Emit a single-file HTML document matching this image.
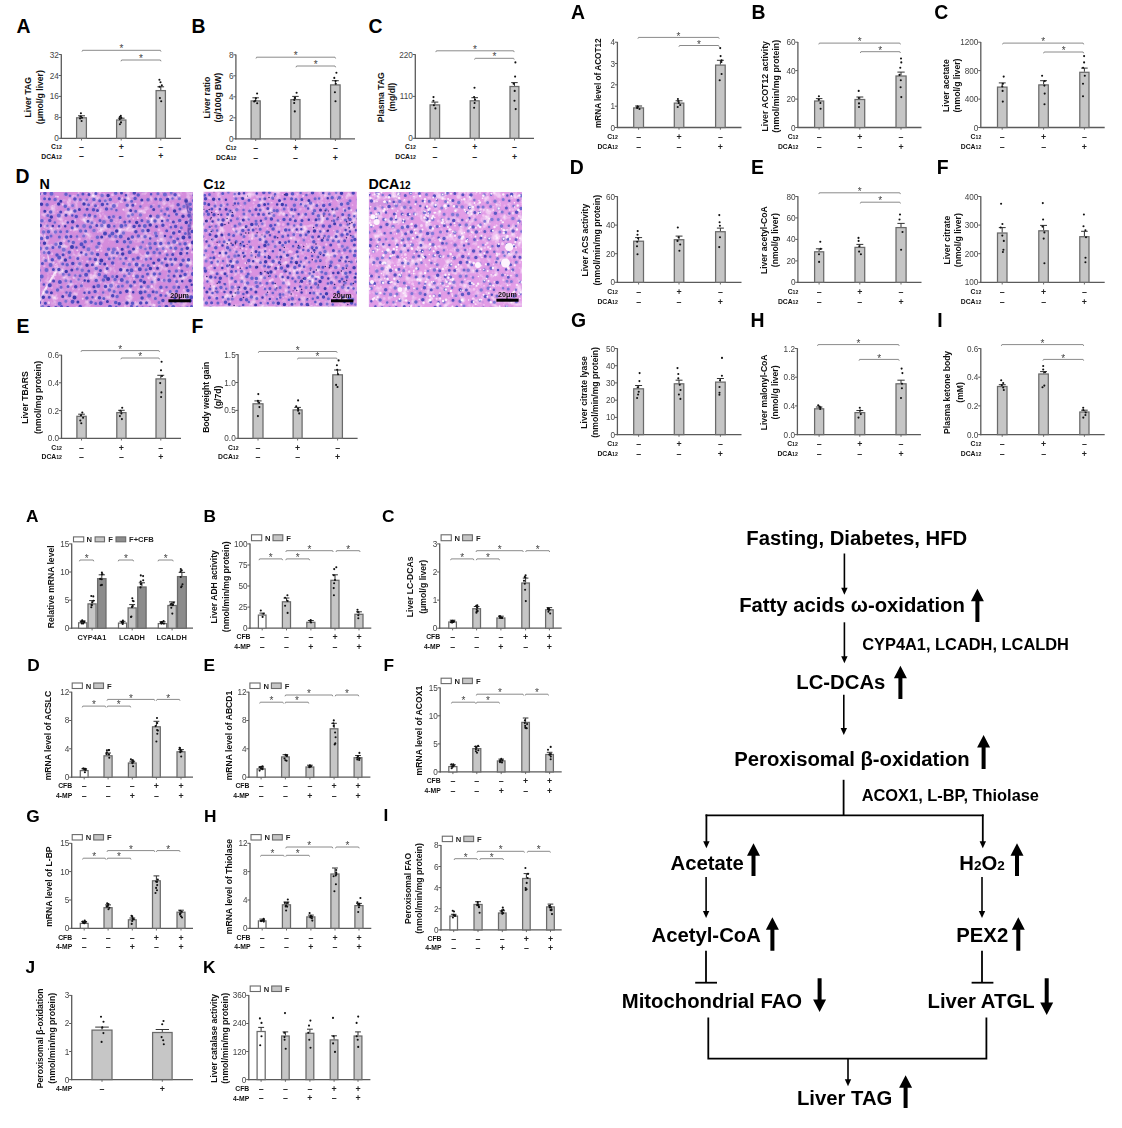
<!DOCTYPE html>
<html><head><meta charset="utf-8"><style>
html,body{margin:0;padding:0;background:#fff;}
svg{display:block;font-family:"Liberation Sans",sans-serif;}
</style></head><body>
<svg width="1122" height="1128" viewBox="0 0 1122 1128">
<defs><filter id="hblur" x="0" y="0" width="1" height="1"><feGaussianBlur stdDeviation="0.45"/></filter>
<filter id="mottle1" x="0" y="0" width="1" height="1"><feTurbulence type="fractalNoise" baseFrequency="0.12" numOctaves="3" seed="4"/><feColorMatrix type="matrix" values="0 0 0 0 0.98  0 0 0 0 0.86  0 0 0 0 0.98  2.6 0 0 0 -1.3"/></filter>
<filter id="mottle2" x="0" y="0" width="1" height="1"><feTurbulence type="fractalNoise" baseFrequency="0.12" numOctaves="3" seed="9"/><feColorMatrix type="matrix" values="0 0 0 0 0.98  0 0 0 0 0.86  0 0 0 0 0.98  2.6 0 0 0 -1.3"/></filter>
<filter id="mottle3" x="0" y="0" width="1" height="1"><feTurbulence type="fractalNoise" baseFrequency="0.12" numOctaves="3" seed="13"/><feColorMatrix type="matrix" values="0 0 0 0 0.98  0 0 0 0 0.86  0 0 0 0 0.98  2.6 0 0 0 -1.3"/></filter>
</defs>
<rect width="1122" height="1128" fill="#fff"/>
<text x="16.5" y="32.5" font-size="19.4" font-weight="bold" text-anchor="start" fill="#000">A</text>
<text x="191.5" y="32.5" font-size="19.4" font-weight="bold" text-anchor="start" fill="#000">B</text>
<text x="368.5" y="33.2" font-size="19.4" font-weight="bold" text-anchor="start" fill="#000">C</text>
<text x="15.5" y="182.8" font-size="19.4" font-weight="bold" text-anchor="start" fill="#000">D</text>
<text x="16.5" y="333.2" font-size="19.4" font-weight="bold" text-anchor="start" fill="#000">E</text>
<text x="191.5" y="333.2" font-size="19.4" font-weight="bold" text-anchor="start" fill="#000">F</text>
<line x1="61.3" y1="54.2" x2="61.3" y2="138.9" stroke="#5a5a5a" stroke-width="1.3"/>
<line x1="60.7" y1="138.3" x2="181" y2="138.3" stroke="#5a5a5a" stroke-width="1.3"/>
<line x1="58.7" y1="54.5" x2="61.3" y2="54.5" stroke="#5a5a5a" stroke-width="1"/>
<text x="58.9" y="57.5" font-size="8.2" font-weight="normal" text-anchor="end" fill="#444">32</text>
<line x1="58.7" y1="75.5" x2="61.3" y2="75.5" stroke="#5a5a5a" stroke-width="1"/>
<text x="58.9" y="78.5" font-size="8.2" font-weight="normal" text-anchor="end" fill="#444">24</text>
<line x1="58.7" y1="96.4" x2="61.3" y2="96.4" stroke="#5a5a5a" stroke-width="1"/>
<text x="58.9" y="99.4" font-size="8.2" font-weight="normal" text-anchor="end" fill="#444">16</text>
<line x1="58.7" y1="117.4" x2="61.3" y2="117.4" stroke="#5a5a5a" stroke-width="1"/>
<text x="58.9" y="120.4" font-size="8.2" font-weight="normal" text-anchor="end" fill="#444">8</text>
<line x1="58.7" y1="138.3" x2="61.3" y2="138.3" stroke="#5a5a5a" stroke-width="1"/>
<text x="58.9" y="141.3" font-size="8.2" font-weight="normal" text-anchor="end" fill="#444">0</text>
<line x1="81.5" y1="138.3" x2="81.5" y2="140.5" stroke="#5a5a5a" stroke-width="0.9"/>
<rect x="76.6" y="117.8" width="9.8" height="20.5" fill="#c6c6c6" stroke="#6a6a6a" stroke-width="1.25"/>
<line x1="81.5" y1="117.2" x2="81.5" y2="115.8" stroke="#333" stroke-width="1"/>
<line x1="78" y1="115.8" x2="85" y2="115.8" stroke="#333" stroke-width="1"/>
<circle cx="80.9" cy="113.2" r="1.05" fill="#111"/>
<circle cx="80.4" cy="116.5" r="1.05" fill="#111"/>
<circle cx="82" cy="117.7" r="1.05" fill="#111"/>
<circle cx="80.1" cy="118.5" r="1.05" fill="#111"/>
<circle cx="81.6" cy="121" r="1.05" fill="#111"/>
<line x1="121.2" y1="138.3" x2="121.2" y2="140.5" stroke="#5a5a5a" stroke-width="0.9"/>
<rect x="116.6" y="120" width="9.3" height="18.3" fill="#c6c6c6" stroke="#6a6a6a" stroke-width="1.25"/>
<line x1="121.2" y1="119.4" x2="121.2" y2="118.2" stroke="#333" stroke-width="1"/>
<line x1="117.9" y1="118.2" x2="124.6" y2="118.2" stroke="#333" stroke-width="1"/>
<circle cx="120.8" cy="115.9" r="1.05" fill="#111"/>
<circle cx="119.8" cy="117" r="1.05" fill="#111"/>
<circle cx="121.3" cy="117.7" r="1.05" fill="#111"/>
<circle cx="119.8" cy="119.1" r="1.05" fill="#111"/>
<circle cx="121" cy="122.4" r="1.05" fill="#111"/>
<circle cx="119.9" cy="124.3" r="1.05" fill="#111"/>
<line x1="160.8" y1="138.3" x2="160.8" y2="140.5" stroke="#5a5a5a" stroke-width="0.9"/>
<rect x="156.1" y="90.6" width="9.3" height="47.7" fill="#c6c6c6" stroke="#6a6a6a" stroke-width="1.25"/>
<line x1="160.8" y1="90" x2="160.8" y2="86.8" stroke="#333" stroke-width="1"/>
<line x1="157.4" y1="86.8" x2="164.1" y2="86.8" stroke="#333" stroke-width="1"/>
<circle cx="159.4" cy="79.8" r="1.05" fill="#111"/>
<circle cx="160.5" cy="82.2" r="1.05" fill="#111"/>
<circle cx="161.8" cy="85.4" r="1.05" fill="#111"/>
<circle cx="159.5" cy="86.8" r="1.05" fill="#111"/>
<circle cx="159.9" cy="98.1" r="1.05" fill="#111"/>
<circle cx="161.2" cy="101.3" r="1.05" fill="#111"/>
<polyline points="82,51.6 82.6,50.3 160.4,50.3 161,51.6" stroke="#8a8a8a" stroke-width="1" fill="none"/>
<text x="121.5" y="52.4" font-size="10" font-weight="normal" text-anchor="middle" fill="#444">*</text>
<polyline points="121,61.3 121.6,60 160.4,60 161,61.3" stroke="#8a8a8a" stroke-width="1" fill="none"/>
<text x="141" y="62.1" font-size="10" font-weight="normal" text-anchor="middle" fill="#444">*</text>
<text transform="translate(27.6,97.2) rotate(-90)" font-size="8.6" font-weight="bold" text-anchor="middle" dominant-baseline="central" fill="#111">Liver TAG</text>
<text transform="translate(39.8,97.2) rotate(-90)" font-size="8.6" font-weight="bold" text-anchor="middle" dominant-baseline="central" fill="#111">(μmol/g liver)</text>
<text x="61.8" y="149" font-size="6.8" font-weight="bold" text-anchor="end" fill="#111">C<tspan font-size="5.2">12</tspan></text>
<text x="81.5" y="149.8" font-size="8.8" font-weight="bold" text-anchor="middle" fill="#222">–</text>
<text x="121.2" y="149.8" font-size="8.8" font-weight="bold" text-anchor="middle" fill="#222">+</text>
<text x="160.8" y="149.8" font-size="8.8" font-weight="bold" text-anchor="middle" fill="#222">–</text>
<text x="61.8" y="158.6" font-size="6.8" font-weight="bold" text-anchor="end" fill="#111">DCA<tspan font-size="5.2">12</tspan></text>
<text x="81.5" y="159.4" font-size="8.8" font-weight="bold" text-anchor="middle" fill="#222">–</text>
<text x="121.2" y="159.4" font-size="8.8" font-weight="bold" text-anchor="middle" fill="#222">–</text>
<text x="160.8" y="159.4" font-size="8.8" font-weight="bold" text-anchor="middle" fill="#222">+</text>
<line x1="235.9" y1="54.5" x2="235.9" y2="139.4" stroke="#5a5a5a" stroke-width="1.3"/>
<line x1="235.3" y1="138.8" x2="355" y2="138.8" stroke="#5a5a5a" stroke-width="1.3"/>
<line x1="233.3" y1="54.8" x2="235.9" y2="54.8" stroke="#5a5a5a" stroke-width="1"/>
<text x="233.5" y="57.8" font-size="8.2" font-weight="normal" text-anchor="end" fill="#444">8</text>
<line x1="233.3" y1="75.8" x2="235.9" y2="75.8" stroke="#5a5a5a" stroke-width="1"/>
<text x="233.5" y="78.8" font-size="8.2" font-weight="normal" text-anchor="end" fill="#444">6</text>
<line x1="233.3" y1="96.8" x2="235.9" y2="96.8" stroke="#5a5a5a" stroke-width="1"/>
<text x="233.5" y="99.8" font-size="8.2" font-weight="normal" text-anchor="end" fill="#444">4</text>
<line x1="233.3" y1="117.8" x2="235.9" y2="117.8" stroke="#5a5a5a" stroke-width="1"/>
<text x="233.5" y="120.8" font-size="8.2" font-weight="normal" text-anchor="end" fill="#444">2</text>
<line x1="233.3" y1="138.8" x2="235.9" y2="138.8" stroke="#5a5a5a" stroke-width="1"/>
<text x="233.5" y="141.8" font-size="8.2" font-weight="normal" text-anchor="end" fill="#444">0</text>
<line x1="255.7" y1="138.8" x2="255.7" y2="141" stroke="#5a5a5a" stroke-width="0.9"/>
<rect x="251.1" y="100.9" width="9.1" height="37.9" fill="#c6c6c6" stroke="#6a6a6a" stroke-width="1.25"/>
<line x1="255.7" y1="100.3" x2="255.7" y2="97.8" stroke="#333" stroke-width="1"/>
<line x1="252.4" y1="97.8" x2="258.9" y2="97.8" stroke="#333" stroke-width="1"/>
<circle cx="257.1" cy="93.5" r="1.05" fill="#111"/>
<circle cx="255.9" cy="98.2" r="1.05" fill="#111"/>
<circle cx="255.3" cy="100.8" r="1.05" fill="#111"/>
<circle cx="257.2" cy="103.3" r="1.05" fill="#111"/>
<circle cx="254.2" cy="101.5" r="1.05" fill="#111"/>
<line x1="295.5" y1="138.8" x2="295.5" y2="141" stroke="#5a5a5a" stroke-width="0.9"/>
<rect x="290.9" y="99.6" width="9.1" height="39.2" fill="#c6c6c6" stroke="#6a6a6a" stroke-width="1.25"/>
<line x1="295.5" y1="99" x2="295.5" y2="96.4" stroke="#333" stroke-width="1"/>
<line x1="292.2" y1="96.4" x2="298.7" y2="96.4" stroke="#333" stroke-width="1"/>
<circle cx="296.6" cy="92.8" r="1.05" fill="#111"/>
<circle cx="294.8" cy="97.9" r="1.05" fill="#111"/>
<circle cx="294.3" cy="99.9" r="1.05" fill="#111"/>
<circle cx="294.2" cy="103" r="1.05" fill="#111"/>
<circle cx="294.8" cy="111.4" r="1.05" fill="#111"/>
<line x1="335.4" y1="138.8" x2="335.4" y2="141" stroke="#5a5a5a" stroke-width="0.9"/>
<rect x="330.6" y="84.9" width="9.5" height="53.9" fill="#c6c6c6" stroke="#6a6a6a" stroke-width="1.25"/>
<line x1="335.4" y1="84.3" x2="335.4" y2="80.7" stroke="#333" stroke-width="1"/>
<line x1="331.9" y1="80.7" x2="338.8" y2="80.7" stroke="#333" stroke-width="1"/>
<circle cx="336.4" cy="72.8" r="1.05" fill="#111"/>
<circle cx="334.3" cy="77.9" r="1.05" fill="#111"/>
<circle cx="335.6" cy="81" r="1.05" fill="#111"/>
<circle cx="335.8" cy="83.8" r="1.05" fill="#111"/>
<circle cx="334.9" cy="92.3" r="1.05" fill="#111"/>
<circle cx="335.5" cy="101.3" r="1.05" fill="#111"/>
<polyline points="256,58.5 256.6,57.2 335,57.2 335.6,58.5" stroke="#8a8a8a" stroke-width="1" fill="none"/>
<text x="295.8" y="59.3" font-size="10" font-weight="normal" text-anchor="middle" fill="#444">*</text>
<polyline points="296,67.3 296.6,66 335,66 335.6,67.3" stroke="#8a8a8a" stroke-width="1" fill="none"/>
<text x="315.8" y="68.1" font-size="10" font-weight="normal" text-anchor="middle" fill="#444">*</text>
<text transform="translate(206.5,97.6) rotate(-90)" font-size="8.6" font-weight="bold" text-anchor="middle" dominant-baseline="central" fill="#111">Liver ratio</text>
<text transform="translate(218,97.6) rotate(-90)" font-size="8.6" font-weight="bold" text-anchor="middle" dominant-baseline="central" fill="#111">(g/100g BW)</text>
<text x="236.4" y="149.9" font-size="6.8" font-weight="bold" text-anchor="end" fill="#111">C<tspan font-size="5.2">12</tspan></text>
<text x="255.7" y="150.7" font-size="8.8" font-weight="bold" text-anchor="middle" fill="#222">–</text>
<text x="295.5" y="150.7" font-size="8.8" font-weight="bold" text-anchor="middle" fill="#222">+</text>
<text x="335.4" y="150.7" font-size="8.8" font-weight="bold" text-anchor="middle" fill="#222">–</text>
<text x="236.4" y="159.7" font-size="6.8" font-weight="bold" text-anchor="end" fill="#111">DCA<tspan font-size="5.2">12</tspan></text>
<text x="255.7" y="160.5" font-size="8.8" font-weight="bold" text-anchor="middle" fill="#222">–</text>
<text x="295.5" y="160.5" font-size="8.8" font-weight="bold" text-anchor="middle" fill="#222">–</text>
<text x="335.4" y="160.5" font-size="8.8" font-weight="bold" text-anchor="middle" fill="#222">+</text>
<line x1="415.3" y1="54.2" x2="415.3" y2="138.9" stroke="#5a5a5a" stroke-width="1.3"/>
<line x1="414.7" y1="138.3" x2="534" y2="138.3" stroke="#5a5a5a" stroke-width="1.3"/>
<line x1="412.7" y1="54.5" x2="415.3" y2="54.5" stroke="#5a5a5a" stroke-width="1"/>
<text x="412.9" y="57.5" font-size="8.2" font-weight="normal" text-anchor="end" fill="#444">220</text>
<line x1="412.7" y1="96.4" x2="415.3" y2="96.4" stroke="#5a5a5a" stroke-width="1"/>
<text x="412.9" y="99.4" font-size="8.2" font-weight="normal" text-anchor="end" fill="#444">110</text>
<line x1="412.7" y1="138.3" x2="415.3" y2="138.3" stroke="#5a5a5a" stroke-width="1"/>
<text x="412.9" y="141.3" font-size="8.2" font-weight="normal" text-anchor="end" fill="#444">0</text>
<line x1="434.9" y1="138.3" x2="434.9" y2="140.5" stroke="#5a5a5a" stroke-width="0.9"/>
<rect x="430.1" y="104.9" width="9.5" height="33.4" fill="#c6c6c6" stroke="#6a6a6a" stroke-width="1.25"/>
<line x1="434.9" y1="104.3" x2="434.9" y2="102.1" stroke="#333" stroke-width="1"/>
<line x1="431.4" y1="102.1" x2="438.3" y2="102.1" stroke="#333" stroke-width="1"/>
<circle cx="433.5" cy="97.1" r="1.05" fill="#111"/>
<circle cx="433.4" cy="100.7" r="1.05" fill="#111"/>
<circle cx="433.9" cy="105.2" r="1.05" fill="#111"/>
<circle cx="435.4" cy="108.4" r="1.05" fill="#111"/>
<line x1="474.7" y1="138.3" x2="474.7" y2="140.5" stroke="#5a5a5a" stroke-width="0.9"/>
<rect x="470.2" y="100.8" width="9" height="37.5" fill="#c6c6c6" stroke="#6a6a6a" stroke-width="1.25"/>
<line x1="474.7" y1="100.2" x2="474.7" y2="97.7" stroke="#333" stroke-width="1"/>
<line x1="471.4" y1="97.7" x2="478" y2="97.7" stroke="#333" stroke-width="1"/>
<circle cx="474.5" cy="87.7" r="1.05" fill="#111"/>
<circle cx="474.1" cy="97.1" r="1.05" fill="#111"/>
<circle cx="475" cy="99.8" r="1.05" fill="#111"/>
<circle cx="474.6" cy="103" r="1.05" fill="#111"/>
<circle cx="474.1" cy="107.8" r="1.05" fill="#111"/>
<line x1="514.5" y1="138.3" x2="514.5" y2="140.5" stroke="#5a5a5a" stroke-width="0.9"/>
<rect x="510" y="86.5" width="8.9" height="51.8" fill="#c6c6c6" stroke="#6a6a6a" stroke-width="1.25"/>
<line x1="514.5" y1="85.9" x2="514.5" y2="82.6" stroke="#333" stroke-width="1"/>
<line x1="511.2" y1="82.6" x2="517.7" y2="82.6" stroke="#333" stroke-width="1"/>
<circle cx="515.4" cy="62.4" r="1.05" fill="#111"/>
<circle cx="515.1" cy="76.6" r="1.05" fill="#111"/>
<circle cx="513.6" cy="83.8" r="1.05" fill="#111"/>
<circle cx="514.7" cy="90.9" r="1.05" fill="#111"/>
<circle cx="514.5" cy="100.7" r="1.05" fill="#111"/>
<circle cx="515.7" cy="109.1" r="1.05" fill="#111"/>
<polyline points="435.8,52.1 436.4,50.8 513.6,50.8 514.2,52.1" stroke="#8a8a8a" stroke-width="1" fill="none"/>
<text x="475" y="52.9" font-size="10" font-weight="normal" text-anchor="middle" fill="#444">*</text>
<polyline points="474.6,59.6 475.2,58.3 513.6,58.3 514.2,59.6" stroke="#8a8a8a" stroke-width="1" fill="none"/>
<text x="494.4" y="60.4" font-size="10" font-weight="normal" text-anchor="middle" fill="#444">*</text>
<text transform="translate(380.5,97.2) rotate(-90)" font-size="8.6" font-weight="bold" text-anchor="middle" dominant-baseline="central" fill="#111">Plasma TAG</text>
<text transform="translate(391.8,97.2) rotate(-90)" font-size="8.6" font-weight="bold" text-anchor="middle" dominant-baseline="central" fill="#111">(mg/dl)</text>
<text x="415.8" y="149.4" font-size="6.8" font-weight="bold" text-anchor="end" fill="#111">C<tspan font-size="5.2">12</tspan></text>
<text x="434.9" y="150.2" font-size="8.8" font-weight="bold" text-anchor="middle" fill="#222">–</text>
<text x="474.7" y="150.2" font-size="8.8" font-weight="bold" text-anchor="middle" fill="#222">+</text>
<text x="514.5" y="150.2" font-size="8.8" font-weight="bold" text-anchor="middle" fill="#222">–</text>
<text x="415.8" y="159.1" font-size="6.8" font-weight="bold" text-anchor="end" fill="#111">DCA<tspan font-size="5.2">12</tspan></text>
<text x="434.9" y="159.9" font-size="8.8" font-weight="bold" text-anchor="middle" fill="#222">–</text>
<text x="474.7" y="159.9" font-size="8.8" font-weight="bold" text-anchor="middle" fill="#222">–</text>
<text x="514.5" y="159.9" font-size="8.8" font-weight="bold" text-anchor="middle" fill="#222">+</text>
<text x="39.6" y="188.5" font-size="14.3" font-weight="bold" text-anchor="start" fill="#000">N</text>
<text x="203.3" y="188.5" font-size="14.3" font-weight="bold" text-anchor="start" fill="#000">C<tspan font-size="10">12</tspan></text>
<text x="368.4" y="188.5" font-size="14.3" font-weight="bold" text-anchor="start" fill="#000">DCA<tspan font-size="10">12</tspan></text>
<g><clipPath id="h1"><rect x="40.1" y="192" width="152.9" height="115"/></clipPath>
<rect x="40.1" y="192" width="152.9" height="115" fill="#d48cdc"/>
<rect x="40.1" y="192" width="152.9" height="115" filter="url(#mottle1)"/>
<g clip-path="url(#h1)" filter="url(#hblur)" stroke-linecap="round" fill="none">
<polyline points="40,300 46,288 52,278 58,268" stroke="#fbeefb" stroke-width="2.2" opacity="0.9"/>
<polyline points="44,230 47,250 49,262" stroke="#f8e0f8" stroke-width="1.4" opacity="0.8"/>
<polyline points="186,200 190,215 189,235" stroke="#3c36a6" stroke-width="3.5" opacity="0.7"/>
<polyline points="150,240 162,236 172,242" stroke="#c090e0" stroke-width="3" opacity="0.5"/>
<path d="M60.6 289.5h0M187.7 241.6h0M151.6 194.5h0M111.6 256.1h0M153.7 274.9h0M186.3 259.2h0M119.6 193h0M57.9 290.2h0M85.9 296h0M47.7 211.8h0M51.9 275.4h0M177.3 223.6h0M99.9 214.5h0M174.3 286.8h0M52.6 205.8h0" stroke="#f6cef6" stroke-width="1.5" opacity="0.75"/>
<path d="M115.9 243.7h0M174.8 270.9h0M169.3 242h0M159.7 248.9h0M155.9 287.7h0M102.3 264.4h0M179.6 283.8h0M101.2 248.9h0M98.1 206.9h0M106.2 213.9h0M46.2 253.1h0M43.4 234.3h0M177.5 219.1h0M123.4 300.6h0M81.7 281.9h0M166.9 301.2h0M44.1 221.1h0M64.5 289.6h0M45.8 305.8h0M97.9 298.6h0" stroke="#c890e0" stroke-width="2.5" opacity="0.75"/>
<path d="M54.5 195.3h0M120.8 279.8h0M170.6 247.2h0M49.9 302.8h0M79.7 287.3h0M97.2 284.6h0M41.4 253.2h0M168.5 209.2h0M137.4 306.1h0M142.1 195.5h0M190.9 256.7h0M160.5 281.2h0M77.8 282.9h0M128.1 290.6h0M62.5 306.1h0" stroke="#c890e0" stroke-width="2" opacity="0.75"/>
<path d="M156.7 192.2h0M136.5 271.9h0M73.4 295.6h0M113.3 217.9h0M99.6 229.3h0M181.6 289.3h0M99.5 284.4h0M145.8 241.9h0M82.1 273.2h0M72.9 234.3h0M81.5 253h0M160.1 245.1h0M87.8 224h0M123.6 298.7h0M71 274.7h0M117.5 275h0M147.8 227.3h0" stroke="#c890e0" stroke-width="1.5" opacity="0.75"/>
<path d="M162.7 260h0M136.2 222.8h0M98.7 224.7h0M74.9 229h0M47 285.1h0M170.4 198.1h0M118.5 249.6h0M181.9 303.5h0M104.5 224.4h0M143.9 288h0M63.7 252.3h0M119.4 281.4h0M116.6 285.2h0M112.6 194.7h0" stroke="#f6cef6" stroke-width="3" opacity="0.75"/>
<path d="M44.8 194.9h0M138.9 239.9h0M82.6 235.6h0M180.4 236h0M169.5 280.3h0M111.5 197.2h0M44.8 236.5h0M86.5 193.7h0M167.7 272.6h0M41.6 240.8h0M78.5 280.5h0M147.2 271.4h0M169.3 281.8h0M119.6 194.7h0M114.8 210.9h0" stroke="#f2c0f2" stroke-width="1" opacity="0.75"/>
<path d="M93 269.8h0M119.4 256.6h0M138.5 300.2h0M120.9 249.6h0M181.4 303.7h0M40.6 236.8h0M109.2 224.2h0M178.8 213.2h0M108.5 270.4h0M58.7 259h0M101.1 205.8h0M181 249.8h0M100.4 296.2h0M171.3 300.1h0" stroke="#c890e0" stroke-width="3" opacity="0.75"/>
<path d="M181.8 239.9h0M91 275h0M179.2 267.8h0M68.9 204.5h0M46.4 213.5h0M159 229.7h0M105.6 272.3h0M115.4 294.9h0M79.3 238.9h0M120.8 256.9h0M142.1 283.9h0M94.6 223.2h0M51.7 253.7h0M75.7 267.7h0M140.9 258.5h0" stroke="#f2c0f2" stroke-width="3" opacity="0.75"/>
<path d="M55.4 264.4h0M66.6 255.1h0M133.7 238.3h0M82.5 282.5h0M113 203.5h0M76.9 274.6h0M120.3 202.4h0M78.2 252.9h0M85.9 274.7h0" stroke="#fbe4fb" stroke-width="1" opacity="0.75"/>
<path d="M104.6 287.5h0M66 296.8h0M191.7 208.9h0M57.8 211.2h0M132.1 206.5h0M154.2 271.3h0M122.3 197.6h0M96.5 250.8h0M108.8 268.9h0M189.9 306h0M108 208.1h0M54.1 206.9h0M60.8 279.6h0M48.3 250.5h0M44.8 227.4h0M102.1 304.3h0M185.9 302.3h0M168.3 217.9h0M140 214.5h0M133 263h0" stroke="#f0b8f0" stroke-width="1.5" opacity="0.75"/>
<path d="M129.9 293.5h0M87.3 289.6h0M172.8 304h0M182.6 231.5h0M149.4 248.2h0M160.9 213.6h0M86.4 230.4h0M177.2 302.4h0M149.9 232.3h0M181.3 261.1h0M133.3 218.7h0M44.8 295.4h0M162.6 207.5h0M111.1 304.7h0M83.5 294.5h0M103 300.1h0M173.2 238.6h0M167.3 259.6h0M111 225.4h0M183.6 246h0M114.2 265h0M135.4 301.9h0M110.1 232.9h0" stroke="#f2c0f2" stroke-width="2" opacity="0.75"/>
<path d="M141.6 204.4h0M131.8 284.5h0M100.8 196.1h0M87.6 300h0M97.9 231.9h0M111.8 232.9h0M93.3 251.2h0M104.3 206h0M128.7 258.9h0M169.7 225h0M86.5 240.9h0M44.5 220.8h0M133.9 272.8h0M57.3 298.2h0M179.8 208.3h0M122.3 193.1h0M98.7 287.9h0M139.7 268.3h0M162.3 267h0M43 237.6h0M147 272.3h0M162.7 253.8h0M149.6 219.6h0M106.7 259.4h0M142.4 287.9h0M109.5 197.2h0M167.6 213.7h0M86.7 278.1h0M45.5 252.7h0M147.1 298.4h0" stroke="#f0b8f0" stroke-width="2" opacity="0.75"/>
<path d="M100.2 248.3h0M78.7 193h0M56 196.5h0M85.3 253.4h0M61.4 281.2h0M43.8 257.5h0M91.5 263.5h0M187 272h0M53.7 262.4h0M151.3 221.2h0M158.9 199.4h0" stroke="#f6cef6" stroke-width="2" opacity="0.75"/>
<path d="M100.3 211.6h0M42 214.9h0M118.7 301.5h0M113.7 233.9h0M40.3 254.1h0M123.1 286.1h0M145.9 258.7h0M163.7 304h0M82.5 260.8h0M101.6 271.2h0M140 274h0M114 221.8h0M77.3 198.9h0M178.5 254.9h0M128 197h0M123.1 257.8h0M103.8 294.1h0M49 288h0M147 265h0M92.3 205.1h0M67 259.3h0M69.2 250.6h0M65.4 222.9h0M157.1 237.6h0M145.7 302.3h0" stroke="#f2c0f2" stroke-width="1.5" opacity="0.75"/>
<path d="M41 282.1h0M67.7 202.5h0M139.3 237.4h0M70.8 229.7h0M92.1 225.5h0M73 263h0M77.4 200.3h0M89 204.3h0M135.4 269.3h0M73.7 298h0M63.9 241.1h0M51.5 287.5h0M73.2 196h0M71.5 298.1h0M164.7 252.2h0M134.9 285.3h0M73.3 288.4h0M114.6 238.4h0M188.2 222.8h0M67 279.3h0M146.9 217.9h0M190.7 231.2h0M123.3 254.6h0M76.1 196.7h0M101 245.5h0M101.3 250.8h0M175.7 196.7h0M75.3 294h0M139 214.5h0M185.7 287.7h0M183.8 290.3h0M180.1 221.4h0M57.2 266.3h0M57.7 217.4h0" stroke="#f2c0f2" stroke-width="2.5" opacity="0.75"/>
<path d="M117.3 247.8h0M139.2 225.9h0M57.6 227.9h0M137.8 218h0M178.2 237.7h0M123.3 209.5h0M188.9 219.1h0M179.9 229.4h0M154.3 233.6h0M164.6 306.8h0M121.9 198.7h0M70.6 257.3h0M86.1 217.2h0M57.9 196.7h0M103.5 233.3h0M82.7 298.7h0M134.2 278.8h0M157.7 240.4h0M96.4 255.4h0M77.3 250.2h0" stroke="#fbe4fb" stroke-width="2" opacity="0.75"/>
<path d="M164.9 221.4h0M190.8 219h0M69.1 242.5h0M94.7 252.8h0M130.9 296.6h0M102.5 261.7h0M186.4 264.4h0M134.1 232.8h0" stroke="#f6cef6" stroke-width="1" opacity="0.75"/>
<path d="M42.7 193.7h0M56.8 263.9h0M141 241h0M90.9 250.2h0M124.2 257.1h0M146 289.6h0M188.9 219.9h0M83.6 254.4h0M120.8 219.3h0M128.8 216.4h0M45.3 236.2h0M136.4 227.4h0M103.4 224.2h0M98.1 206h0M95.2 298.8h0M122 202.2h0M127.8 193.7h0M83.3 275.5h0M106.2 273.4h0M87 193.7h0M155.8 278.2h0" stroke="#fbe4fb" stroke-width="1.5" opacity="0.75"/>
<path d="M65.7 221.3h0M66.6 281.3h0M43.1 250.3h0M74.1 302.8h0M182 299.3h0M69.1 264h0M80.2 252.6h0M174.7 279.2h0M154 271h0M189.4 209.4h0M170.5 221h0M103.6 194.1h0M55.2 266.7h0M144.4 260h0M48.1 281.8h0M100.8 296.9h0M98.8 298.2h0M75.4 196.3h0M167.6 212.3h0M86.2 292.5h0M44.3 266.1h0M100.4 216.2h0" stroke="#f0b8f0" stroke-width="2.5" opacity="0.75"/>
<path d="M117.5 241.1h0M115.6 230h0M140.2 284.2h0M99.9 192.6h0M179.2 233.5h0M136.3 252.5h0M70.3 205.2h0" stroke="#f0b8f0" stroke-width="3" opacity="0.75"/>
<path d="M72.5 197.5h0M91.9 216.5h0M142.6 202.5h0M87.1 220.3h0M53.8 278.6h0M147.3 245.4h0M192.1 252.3h0M131.9 238.9h0M130.4 200h0M174.7 240.8h0M60 283.4h0M149.4 215.5h0M120.6 201h0M121.8 231.9h0M144.8 212.6h0M148.5 277.7h0M159.2 266.3h0M128.5 275.4h0M54.5 270h0M125.1 306.6h0M133.2 196.3h0M127.8 263.1h0M55.2 275h0M87.5 261.5h0M105.8 288.8h0" stroke="#f6cef6" stroke-width="2.5" opacity="0.75"/>
<path d="M177.2 260h0M141.9 226h0M134.2 281.9h0M89.1 237h0M179.8 303.5h0M122.9 289.9h0M168 211.7h0M66.4 202.3h0M159.8 270.6h0M177 279.8h0M129.5 196.6h0M143.6 202h0M160.7 263.7h0M126 293.5h0M99.3 256.4h0M93.5 224.1h0M191.6 288.1h0M47.6 301h0M178.4 301.5h0" stroke="#c890e0" stroke-width="1" opacity="0.75"/>
<path d="M41.7 305h0M179.3 195.7h0M154 305.6h0M154.1 265.6h0M176.8 242.7h0M187.5 262.5h0M168.6 196.9h0M99.7 264.6h0M85.7 232.6h0M103.2 300h0M40.7 194.3h0M73.8 277.5h0M135.2 204.1h0M138.4 248.1h0M74.9 220.6h0M178.8 268.2h0M60.5 256.6h0M62.8 204.4h0M104.4 233.4h0M51.6 228.3h0M60.5 242.9h0M107 265.8h0" stroke="#fbe4fb" stroke-width="2.5" opacity="0.75"/>
<path d="M163.6 202.6h0M161.2 248.7h0M135.3 248.1h0M187.6 279.5h0M82.1 262.5h0M61.4 237.9h0" stroke="#f0b8f0" stroke-width="1" opacity="0.75"/>
<path d="M133.6 275.7h0M162 290.6h0M165.8 250.9h0M96.3 206.6h0M156 275.9h0M90.4 192.9h0M162.6 280.2h0M106.1 270.1h0M97.7 249.7h0M151.7 286.6h0M48.6 302.7h0M173.8 251h0" stroke="#fbe4fb" stroke-width="3" opacity="0.75"/>
<path d="M38.6 188.1h0M66.6 187.4h0M72.6 188h0M85.8 189.1h0M91.6 189.1h0M109.9 188.2h0M131.4 189.6h0M134.7 188.1h0M148.2 188.7h0M162 190.1h0M166.8 188.8h0M179.2 188.3h0M186.5 187.8h0M190.9 189.9h0M197.1 190h0M44.9 193.3h0M82.9 194h0M89 194.5h0M102.1 195.6h0M121.5 193.1h0M157.9 193.8h0M171.2 193h0M35.4 198.6h0M44.6 198.8h0M49.4 199h0M55.1 199.4h0M80.3 199.6h0M99.7 200.7h0M105.3 200.8h0M119.1 198.6h0M125 200h0M141.8 199.9h0M148 199.8h0M179.4 198.7h0M58.7 204h0M65.3 206.2h0M72.6 205.4h0M88.6 204.7h0M95.5 205.8h0M132.8 205.2h0M151.2 206.5h0M159.1 206.3h0M195.8 204.4h0M50.6 211.9h0M79.4 209.6h0M87.1 209.3h0M97.5 210.4h0M130.7 210.4h0M135.7 211.3h0M153.7 209.6h0M179.9 209h0M38.6 216.3h0M47.8 215.6h0M84.8 215h0M95.2 216.3h0M109.2 217.3h0M113.5 216.5h0M120.1 217.4h0M128.5 216.1h0M164.8 214.3h0M176.5 214.3h0M37.8 220.3h0M91.9 222.7h0M124.8 221.9h0M141.9 220.5h0M167.6 220.3h0M173.4 222.1h0M77.4 226.1h0M96.8 225.5h0M125.6 225.3h0M139.4 225.7h0M156.5 226.5h0M181.3 227.8h0M196.7 226.3h0M36.3 231h0M43.6 232.1h0M60.6 231.8h0M67.1 231.4h0M80.6 231.1h0M116.7 230.9h0M166.7 230.7h0M179.4 231.4h0M185.4 233.5h0M192.2 231.5h0M199 231h0M47.4 237.6h0M51 236h0M59.4 236.9h0M83.6 236h0M101.7 237.1h0M115.8 236.4h0M128.4 238.8h0M132.4 237h0M156.5 236.1h0M170.8 237h0M177.7 238.8h0M189.6 237.2h0M194.6 237h0M44.5 243.2h0M73.3 242.5h0M98.9 243.5h0M117.2 241.6h0M168.6 243h0M52.9 247.5h0M83.8 247h0M96.9 247.1h0M122.2 249.2h0M128.1 246.8h0M133.5 249.1h0M157.1 249.3h0M163.2 248.6h0M170.8 247.9h0M181.8 249.3h0M187.3 248.2h0M193.8 249.2h0M36.7 252.4h0M44.2 252.5h0M86.1 254.6h0M117.4 253h0M147.7 253h0M159.8 253.1h0M167.2 254.8h0M172.7 254.6h0M198.3 253h0M45.7 260.4h0M52.3 259.7h0M70 257.5h0M77.8 258.6h0M90 259h0M109.3 258.8h0M125.9 258.2h0M133.3 259.2h0M146.1 259.3h0M165.4 258.7h0M170.7 259.2h0M188.5 259.7h0M42.4 263.5h0M62.7 264h0M92.4 264.8h0M104.7 264h0M148.2 265.5h0M162 263h0M166.9 265.3h0M172 264.4h0M39.4 270.3h0M53.4 269.6h0M71.8 270h0M77.2 269.1h0M88.8 270.9h0M100.5 270.6h0M107.2 268.4h0M120.7 269.8h0M127.4 270.3h0M157.5 268.3h0M169.3 271.3h0M181.9 271.1h0M193.5 268.3h0M36 275.3h0M63.3 274.2h0M69.1 274.8h0M80.1 275.8h0M116.9 276.4h0M124.4 276h0M142.7 276.6h0M159.8 273.7h0M174.1 275.9h0M180.4 276.1h0M65.9 280.8h0M88.3 281.1h0M134.4 282h0M144.3 282.2h0M152 281.9h0M158.6 279.6h0M164.2 280.3h0M195.5 280h0M36.4 285.6h0M61.1 287.2h0M68 286.6h0M93.9 286.7h0M118.4 286.6h0M141.2 286.7h0M174 287.3h0M178.7 287.3h0M186.5 287h0M197.8 286.9h0M46.8 292h0M70.2 292.9h0M114.1 291.4h0M120.4 292.6h0M126.8 291.2h0M145.1 291.7h0M156.6 292.2h0M170.2 291.4h0M193.9 290.6h0M37 296.9h0M49.3 297.3h0M103.8 298.4h0M155.4 298.4h0M174.9 297.9h0M187.1 297.2h0M39.7 302.6h0M45.4 303.2h0M65.8 301.2h0M95.7 303.4h0M107.4 301.6h0M146.5 302.7h0M159 302.5h0M171.1 303.3h0M175.3 301.3h0M181.7 301h0M55.9 307.8h0M61.5 306.6h0M73.4 309h0M80.2 306.4h0M86.5 308.9h0M97.7 308.6h0M105.3 308.6h0M131.5 306.2h0M137.1 307.3h0M180.6 308.2h0M46.7 312.3h0M52.4 311.6h0M59.7 312.7h0M84 312.2h0M88.2 313.2h0M96.9 312.5h0M102.9 311.7h0M132.3 312.4h0M145.9 311.6h0M151.6 312.9h0M176.5 312.9h0M189.9 311.8h0M196.4 312.6h0" stroke="#b88ce0" stroke-width="5.5" opacity="0.45"/>
<path d="M43.5 188.9h0M80.5 190.1h0M104.6 189.6h0M116.6 188h0M39.6 194.1h0M69.9 195.7h0M78 195.2h0M95.9 193.5h0M125.9 195.2h0M151.1 194.2h0M60.8 201.2h0M86.8 199.7h0M131.6 201.3h0M155.7 199h0M172.5 198.4h0M193.3 200.6h0M199.4 198.2h0M107.3 204h0M140.4 206.5h0M38 211.9h0M44.8 211.3h0M60.7 212h0M68.3 209.3h0M111.5 209.1h0M116.4 210.2h0M161.4 210.7h0M198 209.4h0M66 215.3h0M72.3 215.5h0M132.5 214.5h0M150.5 215.9h0M168.9 215.7h0M193.7 214.6h0M54.8 222.6h0M67.8 222.4h0M88 221.3h0M100 220.4h0M129.6 221.4h0M162.2 221h0M190.7 220.1h0M47.4 225.8h0M52.8 225.9h0M59.1 226.2h0M65.2 226.2h0M72.2 227.8h0M114.3 226.3h0M170.9 227.2h0M189 225.7h0M85.7 231.1h0M70.9 236.5h0M77 236.4h0M150.2 238.5h0M165 236h0M68.7 241.3h0M91.8 241.3h0M142.8 242.3h0M180 243.9h0M76.5 247.4h0M145.5 249h0M63.1 254.7h0M81.3 252.4h0M187.1 253.3h0M113.8 258.3h0M120.5 258.8h0M150.8 258.7h0M194.1 259.5h0M100.2 263.7h0M123.7 263.4h0M143 265.3h0M153.7 263h0M146.1 269.7h0M75.3 275.6h0M112.6 276.4h0M129.2 273.6h0M147.5 274h0M168.5 275.8h0M53.6 281h0M70.9 281.5h0M78.6 279.6h0M84.7 280.6h0M176.7 281.6h0M182.2 281.3h0M43.8 284.4h0M81.4 285.7h0M122.4 286h0M166.5 287.2h0M191.7 284.8h0M38.5 293h0M51.4 292.7h0M66.5 292.4h0M84.5 292.7h0M89.2 292.4h0M103.1 292.4h0M133.2 292.3h0M153.1 291.7h0M176.6 291.3h0M62.7 296.6h0M92.5 297.3h0M160.8 295.3h0M165.7 295.7h0M77.9 302.1h0M116.2 307h0M123.9 309h0M142.6 307.7h0M187.3 307.5h0M191.5 306.4h0M64 312.6h0M77.3 311.9h0M113.7 314.4h0M120 311.8h0" stroke="#b88ce0" stroke-width="5" opacity="0.45"/>
<path d="M60.2 187.5h0M98.1 187.9h0M124.6 187.7h0M143.2 190.3h0M154.3 187.9h0M66 194.3h0M108.1 195.5h0M115.7 193.3h0M134.3 193h0M138.2 194.9h0M175.1 194.8h0M194.3 195.3h0M74.9 198.9h0M93.9 199.5h0M110.3 199.5h0M135.1 198.5h0M160.5 199.4h0M167.6 199.5h0M186.1 201.1h0M41.5 204.2h0M47.1 204.7h0M84 204h0M102.4 204.5h0M113.9 206.1h0M127.2 205.3h0M178.1 204.7h0M184 206.6h0M190.2 204.2h0M74.9 211.1h0M93.5 209.8h0M106.5 208.9h0M167.3 209h0M174.6 211.1h0M190.6 209.3h0M51.3 217h0M58.8 215.6h0M76.3 216.5h0M89.5 215.2h0M140.3 215.1h0M157.7 216.6h0M183 216.3h0M188.9 215.4h0M41.9 220.8h0M49.8 220.6h0M72.7 221.7h0M103.9 221.9h0M111.3 220.5h0M136.7 222.5h0M148.1 221.7h0M155 221h0M179.7 220.5h0M186.3 222.6h0M40.4 225.5h0M90.4 226.9h0M101.8 225.5h0M108.7 226.1h0M134.1 226.5h0M144.8 226h0M150.2 225.1h0M162.9 225.2h0M175.6 226.6h0M48.5 231.7h0M55.5 232.1h0M94 230.5h0M105 233.5h0M123.4 233.1h0M135.9 231.7h0M142.8 230.8h0M148.1 230.5h0M155.6 233.3h0M173.7 232.9h0M41.6 238.6h0M66.4 237h0M97.4 237.2h0M109.7 236.1h0M138.4 235.9h0M145.1 236.7h0M56 244.2h0M60.7 243.6h0M81.5 244.2h0M85.2 241.7h0M124.5 241.7h0M130.4 242.2h0M149.8 243.8h0M155.1 243.4h0M160.8 243.6h0M174.2 241.7h0M185.1 243.8h0M192.9 242.5h0M40 248.5h0M46.8 248.2h0M59.5 247.1h0M72 247h0M88.5 249.3h0M108.6 249.3h0M113.9 249.4h0M140.8 247.3h0M150.4 248h0M175.7 248.3h0M48.9 252.8h0M57 254.9h0M69.3 252.3h0M92 253.3h0M97.6 254.6h0M106.4 254.5h0M112.8 252.6h0M122.7 253.9h0M129.7 252.3h0M154.1 252.5h0M180.8 253.4h0M59.2 257.5h0M65.4 260.1h0M95.4 259.5h0M138 257.9h0M158.7 260h0M175.5 259.3h0M183.1 260.3h0M36.4 263.3h0M50.6 265.1h0M67.2 264.8h0M72.8 263.6h0M79.8 263.7h0M87 265.3h0M112.6 263h0M129.5 264.4h0M136.6 264.4h0M180.9 264.8h0M187.3 266h0M46.5 270h0M58.9 269.5h0M66.2 271.4h0M82.2 270.3h0M96.3 268.4h0M150.4 268.6h0M176.4 270.9h0M41.7 276.6h0M99.3 274.6h0M154.3 274h0M185.1 274.6h0M96.2 280.4h0M103.4 280.1h0M108.1 279h0M115.1 279.6h0M127.2 282h0M140.8 280.6h0M190.1 280.8h0M49.8 285.2h0M75.7 286.7h0M98.3 286h0M105.5 286.6h0M111 285.7h0M130.8 286.1h0M148.1 286.7h0M160.9 287.2h0M57.5 290h0M95.1 291.5h0M109.4 290.1h0M140.6 292.4h0M187.9 290.4h0M43.3 297.2h0M69.6 295.4h0M74.5 297.4h0M86.9 298h0M99.5 297.8h0M112.7 295.8h0M117.1 296.5h0M142.1 298.1h0M191.2 297.2h0M91.1 302.2h0M115.7 302.5h0M119.2 303.7h0M127 302.9h0M132.5 303.2h0M140.7 302.9h0M162.9 300.6h0M190.2 300.7h0M196.1 301.7h0M38.5 307.2h0M42.6 306.8h0M48.7 307.5h0M67.7 307.8h0M150.1 307.9h0M153.7 308.7h0M159.5 307.1h0M166.4 307.1h0M173.2 307h0M71.5 313.9h0M109.9 313.2h0M138.6 312.1h0M165.5 312.4h0M170.3 312.4h0M183 313.7h0" stroke="#b88ce0" stroke-width="6" opacity="0.45"/>
<path d="M51.5 193.8h0M164.9 194.5h0M84.1 226.1h0M121.4 226h0M112.4 233.4h0M120.7 236.4h0M183.4 237.6h0M38.5 243.1h0M63.7 249.7h0M101.3 260.5h0M131.5 270.2h0M139.8 269.2h0M86.1 274.7h0M105.3 276.5h0M137 276.6h0M192.9 273.9h0M38.9 280.3h0M59.9 281.9h0M121.8 280h0M169.4 280.6h0M149.1 295.7h0M59.7 303.7h0M72.6 301.8h0M100.7 303.2h0M110 306.8h0M199.7 306.5h0M40.7 313.2h0M128.2 314.2h0" stroke="#b88ce0" stroke-width="6.5" opacity="0.45"/>
<path d="M38.6 188.1h0M179.2 188.3h0M89 194.5h0M121.5 193.1h0M49.4 199h0M125 200h0M132.8 205.2h0M60.7 212h0M87.1 209.3h0M97.5 210.4h0M66 215.3h0M88 221.3h0M173.4 222.1h0M77.4 226.1h0M96.8 225.5h0M139.4 225.7h0M156.5 226.5h0M179.4 231.4h0M70.9 236.5h0M189.6 237.2h0M117.2 241.6h0M83.8 247h0M193.8 249.2h0M63.1 254.7h0M172.7 254.6h0M165.4 258.7h0M92.4 264.8h0M53.4 269.6h0M100.5 270.6h0M107.2 268.4h0M127.4 270.3h0M36 275.3h0M174.1 275.9h0M53.6 281h0M134.4 282h0M158.6 279.6h0M178.7 287.3h0M153.1 291.7h0M193.9 290.6h0M174.9 297.9h0M45.4 303.2h0M146.5 302.7h0M59.7 312.7h0" stroke="#4a46ba" stroke-width="3"/>
<path d="M43.5 188.9h0M72.6 188h0M85.8 189.1h0M134.7 188.1h0M190.9 189.9h0M131.6 201.3h0M88.6 204.7h0M151.2 206.5h0M68.3 209.3h0M135.7 211.3h0M95.2 216.3h0M164.8 214.3h0M60.6 231.8h0M67.1 231.4h0M185.4 233.5h0M59.4 236.9h0M170.8 237h0M168.6 243h0M128.1 246.8h0M181.8 249.3h0M159.8 253.1h0M167.2 254.8h0M109.3 258.8h0M62.7 264h0M148.2 265.5h0M159.8 273.7h0M176.7 281.6h0M70.2 292.9h0M155.4 298.4h0M95.7 303.4h0M137.1 307.3h0M88.2 313.2h0M96.9 312.5h0M145.9 311.6h0" stroke="#6460cc" stroke-width="3"/>
<path d="M60.2 187.5h0M131.4 189.6h0M102.1 195.6h0M184 206.6h0M140.3 215.1h0M101.8 225.5h0M43.6 232.1h0M55.5 232.1h0M94 230.5h0M123.4 233.1h0M155.6 233.3h0M115.8 236.4h0M56 244.2h0M130.4 242.2h0M149.8 243.8h0M96.9 247.1h0M140.8 247.3h0M92 253.3h0M112.8 252.6h0M79.8 263.7h0M129.5 264.4h0M82.2 270.3h0M148.1 286.7h0M174 287.3h0M42.6 306.8h0M159.5 307.1h0" stroke="#7a70d4" stroke-width="3.5"/>
<path d="M66.6 187.4h0M148.2 188.7h0M171.2 193h0M105.3 200.8h0M179.4 198.7h0M72.6 205.4h0M159.1 206.3h0M195.8 204.4h0M38.6 216.3h0M128.5 216.1h0M132.5 214.5h0M91.9 222.7h0M83.6 236h0M163.2 248.6h0M44.2 252.5h0M162 263h0M39.4 270.3h0M193.5 268.3h0M63.3 274.2h0M112.6 276.4h0M129.2 273.6h0M65.9 280.8h0M164.2 280.3h0M187.1 297.2h0M65.8 301.2h0M159 302.5h0M171.1 303.3h0M105.3 308.6h0M102.9 311.7h0M132.3 312.4h0" stroke="#7a70d4" stroke-width="3"/>
<path d="M80.5 190.1h0M166.8 188.8h0M197.1 190h0M60.8 201.2h0M141.8 199.9h0M44.8 211.3h0M79.4 209.6h0M130.7 210.4h0M153.7 209.6h0M150.5 215.9h0M36.3 231h0M101.7 237.1h0M128.4 238.8h0M122.2 249.2h0M133.5 249.1h0M104.7 264h0M153.7 263h0M71.8 270h0M157.5 268.3h0M116.9 276.4h0M180.4 276.1h0M88.3 281.1h0M93.9 286.7h0M38.5 293h0M51.4 292.7h0M62.7 296.6h0M77.9 302.1h0M107.4 301.6h0M97.7 308.6h0M84 312.2h0" stroke="#3e3aae" stroke-width="3"/>
<path d="M91.6 189.1h0M44.9 193.3h0M175.1 194.8h0M74.9 198.9h0M178.1 204.7h0M74.9 211.1h0M93.5 209.8h0M106.5 208.9h0M76.3 216.5h0M188.9 215.4h0M49.8 220.6h0M175.6 226.6h0M160.8 243.6h0M48.9 252.8h0M57 254.9h0M106.4 254.5h0M147.7 253h0M52.3 259.7h0M138 257.9h0M112.6 263h0M185.1 274.6h0M140.8 280.6h0M95.1 291.5h0M183 313.7h0" stroke="#5450c4" stroke-width="3.5"/>
<path d="M98.1 187.9h0M81.5 244.2h0M136.6 264.4h0M86.1 274.7h0M192.9 273.9h0M59.9 281.9h0M121.8 280h0M191.2 297.2h0M72.6 301.8h0M100.7 303.2h0M110 306.8h0M170.3 312.4h0" stroke="#5450c4" stroke-width="4"/>
<path d="M104.6 189.6h0M162.2 221h0M52.8 225.9h0M65.2 226.2h0M165 236h0M81.3 252.4h0M84.7 280.6h0M182.2 281.3h0M191.7 284.8h0M133.2 292.3h0M113.7 314.4h0M120 311.8h0" stroke="#3e3aae" stroke-width="2.5"/>
<path d="M109.9 188.2h0M157.9 193.8h0M80.3 199.6h0M193.3 200.6h0M47.8 215.6h0M84.8 215h0M113.5 216.5h0M167.6 220.3h0M125.6 225.3h0M181.3 227.8h0M196.7 226.3h0M51 236h0M180 243.9h0M157.1 249.3h0M170.8 247.9h0M36.7 252.4h0M86.1 254.6h0M45.7 260.4h0M70 257.5h0M90 259h0M146.1 259.3h0M123.7 263.4h0M143 265.3h0M77.2 269.1h0M146.1 269.7h0M69.1 274.8h0M124.4 276h0M152 281.9h0M61.1 287.2h0M81.4 285.7h0M118.4 286.6h0M122.4 286h0M197.8 286.9h0M114.1 291.4h0M156.6 292.2h0M170.2 291.4h0M181.7 301h0M86.5 308.9h0M176.5 312.9h0" stroke="#6c66d0" stroke-width="3"/>
<path d="M116.6 188h0M82.9 194h0M95.9 193.5h0M35.4 198.6h0M119.1 198.6h0M155.7 199h0M109.2 217.3h0M176.5 214.3h0M124.8 221.9h0M141.9 220.5h0M166.7 230.7h0M177.7 238.8h0M52.9 247.5h0M117.4 253h0M198.3 253h0M77.8 258.6h0M125.9 258.2h0M42.4 263.5h0M88.8 270.9h0M181.9 271.1h0M36.4 285.6h0M186.5 287h0M89.2 292.4h0M120.4 292.6h0M49.3 297.3h0M160.8 295.3h0M39.7 302.6h0M175.3 301.3h0M61.5 306.6h0M46.7 312.3h0M151.6 312.9h0" stroke="#5450c4" stroke-width="3"/>
<path d="M124.6 187.7h0M103.9 221.9h0M84.1 226.1h0M63.7 249.7h0M88.5 249.3h0M113.9 249.4h0M111 285.7h0M38.5 307.2h0M128.2 314.2h0" stroke="#7a70d4" stroke-width="4"/>
<path d="M143.2 190.3h0M108.1 195.5h0M194.3 195.3h0M167.6 199.5h0M186.1 201.1h0M41.5 204.2h0M58.7 204h0M84 204h0M174.6 211.1h0M51.3 217h0M183 216.3h0M72.7 221.7h0M136.7 222.5h0M186.3 222.6h0M40.4 225.5h0M150.2 225.1h0M116.7 230.9h0M148.1 230.5h0M44.5 243.2h0M60.7 243.6h0M187.3 248.2h0M122.7 253.9h0M180.8 253.4h0M65.4 260.1h0M87 265.3h0M166.9 265.3h0M66.2 271.4h0M120.7 269.8h0M150.4 268.6h0M144.3 282.2h0M190.1 280.8h0M126.8 291.2h0M43.3 297.2h0M127 302.9h0M190.2 300.7h0M48.7 307.5h0" stroke="#3e3aae" stroke-width="3.5"/>
<path d="M154.3 187.9h0M134.3 193h0M102.4 204.5h0M37.8 220.3h0M134.1 226.5h0M162.9 225.2h0M135.9 231.7h0M173.7 232.9h0M192.2 231.5h0M97.6 254.6h0M95.4 259.5h0M158.7 260h0M175.5 259.3h0M188.5 259.7h0M72.8 263.6h0M180.9 264.8h0M58.9 269.5h0M75.7 286.7h0M105.5 286.6h0M187.9 290.4h0M99.5 297.8h0M112.7 295.8h0M142.1 298.1h0M119.2 303.7h0M140.7 302.9h0M162.9 300.6h0M55.9 307.8h0M67.7 307.8h0M73.4 309h0M80.2 306.4h0" stroke="#4a46ba" stroke-width="3.5"/>
<path d="M162 190.1h0M66 194.3h0M115.7 193.3h0M93.9 199.5h0M110.3 199.5h0M148 199.8h0M47.1 204.7h0M65.3 206.2h0M127.2 205.3h0M190.2 204.2h0M50.6 211.9h0M167.3 209h0M111.3 220.5h0M90.4 226.9h0M138.4 235.9h0M73.3 242.5h0M59.5 247.1h0M150.4 248h0M175.7 248.3h0M67.2 264.8h0M99.3 274.6h0M103.4 280.1h0M57.5 290h0M150.1 307.9h0" stroke="#6460cc" stroke-width="3.5"/>
<path d="M186.5 187.8h0M44.6 198.8h0M99.7 200.7h0M95.5 205.8h0M179.9 209h0M120.1 217.4h0M100 220.4h0M72.2 227.8h0M85.7 231.1h0M199 231h0M156.5 236.1h0M194.6 237h0M133.3 259.2h0M170.7 259.2h0M172 264.4h0M169.3 271.3h0M80.1 275.8h0M142.7 276.6h0M147.5 274h0M195.5 280h0M68 286.6h0M141.2 286.7h0M145.1 291.7h0M176.6 291.3h0M37 296.9h0M103.8 298.4h0M131.5 306.2h0M180.6 308.2h0M191.5 306.4h0M52.4 311.6h0M189.9 311.8h0M196.4 312.6h0" stroke="#5a58c8" stroke-width="3"/>
<path d="M39.6 194.1h0M125.9 195.2h0M198 209.4h0M67.8 222.4h0M129.6 221.4h0M150.2 238.5h0M187.1 253.3h0M84.5 292.7h0" stroke="#4a46ba" stroke-width="2.5"/>
<path d="M51.5 193.8h0M164.9 194.5h0M113.9 206.1h0M58.8 215.6h0M157.7 216.6h0M40 248.5h0M46.5 270h0M38.9 280.3h0M149.1 295.7h0" stroke="#6c66d0" stroke-width="4"/>
<path d="M69.9 195.7h0M140.4 206.5h0M168.9 215.7h0M114.3 226.3h0M189 225.7h0M68.7 241.3h0M91.8 241.3h0M194.1 259.5h0M166.5 287.2h0M66.5 292.4h0M165.7 295.7h0M116.2 307h0M64 312.6h0" stroke="#6460cc" stroke-width="2.5"/>
<path d="M78 195.2h0M38 211.9h0M111.5 209.1h0M161.4 210.7h0M47.4 225.8h0M145.5 249h0M120.5 258.8h0M75.3 275.6h0M168.5 275.8h0M78.6 279.6h0" stroke="#7a70d4" stroke-width="2.5"/>
<path d="M138.2 194.9h0M135.1 198.5h0M190.6 209.3h0M89.5 215.2h0M155 221h0M179.7 220.5h0M48.5 231.7h0M41.6 238.6h0M47.4 237.6h0M66.4 237h0M109.7 236.1h0M132.4 237h0M85.2 241.7h0M98.9 243.5h0M124.5 241.7h0M155.1 243.4h0M185.1 243.8h0M69.3 252.3h0M183.1 260.3h0M154.3 274h0M96.2 280.4h0M130.8 286.1h0M160.9 287.2h0M46.8 292h0M69.6 295.4h0M86.9 298h0M91.1 302.2h0M115.7 302.5h0M132.5 303.2h0M196.1 301.7h0M109.9 313.2h0M138.6 312.1h0" stroke="#5a58c8" stroke-width="3.5"/>
<path d="M151.1 194.2h0M107.3 204h0M72.3 215.5h0M59.1 226.2h0M76.5 247.4h0M150.8 258.7h0M43.8 284.4h0M92.5 297.3h0M142.6 307.7h0" stroke="#5450c4" stroke-width="2.5"/>
<path d="M55.1 199.4h0M160.5 199.4h0M41.9 220.8h0M148.1 221.7h0M80.6 231.1h0M142.8 230.8h0M97.4 237.2h0M145.1 236.7h0M46.8 248.2h0M108.6 249.3h0M154.1 252.5h0M36.4 263.3h0M187.3 266h0M96.3 268.4h0M176.4 270.9h0M115.1 279.6h0M127.2 282h0M109.4 290.1h0M117.1 296.5h0M71.5 313.9h0M165.5 312.4h0" stroke="#6c66d0" stroke-width="3.5"/>
<path d="M86.8 199.7h0M172.5 198.4h0M193.7 214.6h0M54.8 222.6h0M77 236.4h0M142.8 242.3h0M113.8 258.3h0M70.9 281.5h0M103.1 292.4h0M123.9 309h0M187.3 307.5h0" stroke="#6c66d0" stroke-width="2.5"/>
<path d="M199.4 198.2h0M116.4 210.2h0M190.7 220.1h0M170.9 227.2h0M100.2 263.7h0M77.3 311.9h0" stroke="#5a58c8" stroke-width="2.5"/>
<path d="M108.7 226.1h0M105 233.5h0M38.5 243.1h0M139.8 269.2h0M49.8 285.2h0M140.6 292.4h0M153.7 308.7h0M40.7 313.2h0" stroke="#4a46ba" stroke-width="4"/>
<path d="M121.4 226h0M112.4 233.4h0M120.7 236.4h0M129.7 252.3h0M59.2 257.5h0M131.5 270.2h0M105.3 276.5h0M169.4 280.6h0M173.2 307h0" stroke="#5a58c8" stroke-width="4"/>
<path d="M144.8 226h0M174.2 241.7h0M50.6 265.1h0M41.7 276.6h0M137 276.6h0M98.3 286h0M59.7 303.7h0M199.7 306.5h0" stroke="#6460cc" stroke-width="4"/>
<path d="M183.4 237.6h0M192.9 242.5h0M72 247h0M101.3 260.5h0M108.1 279h0M74.5 297.4h0M166.4 307.1h0" stroke="#3e3aae" stroke-width="4"/>
</g></g>
<g><clipPath id="h2"><rect x="203.5" y="191.8" width="153.3" height="114.7"/></clipPath>
<rect x="203.5" y="191.8" width="153.3" height="114.7" fill="#da92e0"/>
<rect x="203.5" y="191.8" width="153.3" height="114.7" filter="url(#mottle2)"/>
<g clip-path="url(#h2)" filter="url(#hblur)" stroke-linecap="round" fill="none">
<polyline points="300,282 312,276 322,278" stroke="#fbeefb" stroke-width="1.8" opacity="0.9"/>
<polyline points="215,200 225,240 230,290" stroke="#f4d0f4" stroke-width="1.5" opacity="0.6"/>
<path d="M350.1 300.5h0M212.8 294.8h0M258.7 220.4h0M314.5 219.4h0M264.1 205.8h0M316.1 217.2h0M240.7 254.9h0M249.9 207.9h0M291 246h0M297.8 272.2h0M315.4 286.8h0M235.1 288.1h0M208.4 270.5h0M272.8 279h0M344.5 264.5h0M256 200.8h0M353.4 303.4h0M205.2 256h0" stroke="#f6cef6" stroke-width="1" opacity="0.75"/>
<path d="M258.9 211.2h0M239.7 194.5h0M323.2 247.6h0M308.6 203.4h0M328.9 202.8h0M280.1 305.6h0M264.9 286.3h0M223 195h0M254.3 208h0M287.5 257.1h0M219 193h0M317.1 229.4h0M343.3 294.6h0M306.7 244.1h0M290.8 302.5h0M342.3 197.1h0M292.6 194.2h0M219.6 288.5h0M355.7 261.6h0M300.1 286.7h0M284.7 296.2h0M287.6 269.1h0M288.7 300.7h0M307 283.2h0M219.8 255.5h0M304.2 280.6h0" stroke="#fbe4fb" stroke-width="1.5" opacity="0.75"/>
<path d="M236 195.9h0M353.9 302.1h0M237.5 229h0M224.4 222.3h0M299.9 227.1h0M224 274.2h0M295.2 196.2h0M258.9 234.4h0M324.8 207.1h0M248.7 199.1h0M238.2 207.8h0M330.9 211.5h0M319.2 292.8h0M321.6 198.5h0M261.7 207.7h0M283.2 224.4h0M274.8 271.7h0M324.2 240.1h0M278.4 266.7h0" stroke="#f0b8f0" stroke-width="3" opacity="0.75"/>
<path d="M301.4 284h0M235.4 250.5h0M350.6 221.5h0M283.8 204.7h0M255.3 279.9h0M223.2 299.3h0M284 293.4h0M342.9 204.5h0M237.4 252.1h0M328.9 300.3h0M284.3 246.9h0M265.7 266.5h0M354.3 241.5h0M340.9 299h0M243.6 194.7h0M313 251.4h0M229.7 211.7h0M290.3 251.3h0M260.3 285.4h0" stroke="#f2c0f2" stroke-width="3" opacity="0.75"/>
<path d="M286.9 242.8h0M337 233.6h0M204.3 194.6h0M314.4 248.9h0M216.9 297.7h0M304.6 205.8h0M285.9 262.4h0M320.9 271.6h0M314.2 211.6h0M286.2 256.4h0M260.5 253.9h0M241.4 221.5h0M245.4 284.4h0M266.9 243.6h0M309.9 250.6h0M309.4 232.9h0M344.6 232.8h0M215.8 297.5h0M299.8 232h0M283.7 213.8h0M283.9 214.2h0" stroke="#fbe4fb" stroke-width="3" opacity="0.75"/>
<path d="M268.4 293.2h0M223.1 299.2h0M319.3 290.7h0M207.2 282.2h0M313.2 221.3h0M327.6 235.8h0M307.2 249h0M253.5 203.2h0M226.7 301.6h0M263.7 252.1h0M291.5 216.1h0M290.3 298.9h0M269 281.6h0M326 266.1h0M279.8 256.1h0M305.3 268.8h0M232.7 234.8h0M285.2 264.2h0M264.6 297.2h0M249.5 239.3h0M338.6 305.4h0M264 233.1h0M203.8 215.1h0M317.7 202.2h0" stroke="#f0b8f0" stroke-width="2" opacity="0.75"/>
<path d="M281.7 233.1h0M246.3 248.9h0M209.1 231.3h0M238.5 282.6h0M242.8 240.3h0M325.4 218.5h0M313.9 260.1h0M245.2 228.6h0M238.6 272.4h0M334.8 217.9h0M215.3 253.8h0M349.5 286h0M291.9 252.3h0M333.6 253.9h0M289.7 294.8h0M347.7 295.8h0M239.7 293.4h0M248.5 282.3h0M311.6 305.7h0M236.5 247.1h0M268.6 243.9h0M254.7 281.6h0M236 254.9h0M300.1 270.4h0M221.7 235.7h0M312.4 240h0M245 214.1h0M242.6 252.8h0" stroke="#f2c0f2" stroke-width="2.5" opacity="0.75"/>
<path d="M231.4 294.3h0M309.7 194.6h0M291.4 208.4h0M283.8 295.8h0M220.7 285.7h0M217.6 270.6h0M223.2 211.4h0M246.3 201.2h0M241.7 300h0M303 238.7h0M281.8 210.3h0M236.8 263h0M203.8 283h0M267.3 247.3h0M239.2 210.3h0M212.7 196.6h0M314 269.7h0M206.8 203.5h0M351.4 269h0M301.6 244.8h0M273.5 195.1h0M344.2 295.7h0M213.7 194.5h0M243.8 251.8h0M234.2 206.4h0M331.8 225.6h0M231.9 288.9h0M250.2 227.6h0M270.2 213.7h0" stroke="#c890e0" stroke-width="2.5" opacity="0.75"/>
<path d="M342.5 279.3h0M264.8 276.5h0M283.1 297.5h0M334.1 217.6h0M293.4 213.8h0M234.1 297.2h0M352.3 235.7h0M282.4 203.4h0M304.8 246.1h0M255.6 297.6h0M274 234.6h0M305.2 255.6h0M337.7 265.1h0M246.3 249.6h0M286.1 266.2h0M213.1 304.6h0M344.8 303.6h0M238.6 294.6h0M216.5 285.7h0M280.3 207.9h0M302.3 203.2h0M266.1 252.4h0M313.3 289.5h0M268.8 262.1h0M348.9 202.4h0M278.6 254.9h0M331.1 194.9h0M316.9 236.9h0M204.1 238.1h0M354.2 272.6h0M256.3 193.7h0M252 262.2h0M349.5 262.2h0M310.1 201.7h0M352.4 205h0M299.3 268.7h0" stroke="#f2c0f2" stroke-width="1.5" opacity="0.75"/>
<path d="M257.8 293.1h0M298 280.5h0M281.3 262.4h0M274.7 227.3h0M292.6 297.4h0M347.1 272.7h0M256.8 278.9h0M286 235.7h0M341.3 219.5h0M325.8 262.5h0M249.1 241.2h0M241.9 242.5h0M355.1 292.2h0M354.6 211.7h0M210.8 233.9h0M303.6 212.8h0M309.6 215.9h0M328.9 211.5h0M292.7 298.8h0M214 284.7h0M330.8 215.5h0M355 221.8h0M274.8 302.5h0M289.6 263.5h0M263.6 198.8h0" stroke="#c890e0" stroke-width="1.5" opacity="0.75"/>
<path d="M314.8 255.8h0M342.5 302.3h0M225.2 234.8h0M225.6 289.4h0M238.4 198h0M332.4 243.9h0M317.3 272.4h0M337.5 259.6h0M221.8 244.1h0M306.9 198h0M311.6 303.9h0M317.2 287.3h0M330.8 257h0M296.6 212.7h0M233.7 213h0M301.7 222.4h0M293.5 217.6h0M310.8 236.5h0M319.6 271.6h0M328.4 296.7h0M249.7 247.6h0M226.3 252.6h0M281.3 226.6h0M329.7 205.7h0M299.5 205.4h0M311.4 218.9h0" stroke="#c890e0" stroke-width="2" opacity="0.75"/>
<path d="M350.3 272.8h0M301.2 244.9h0M252.6 286.4h0M337.1 254.3h0M302.8 237h0M261.1 199.2h0M312.7 233.7h0M307.7 256.7h0M351.2 263.3h0M262.8 239.5h0M267.4 228.7h0M355.1 247.2h0M269.6 249.9h0M289.7 216.7h0M256.2 237.2h0M242 267.7h0M270.7 300.2h0M272.2 227.3h0M322.2 213.1h0M227.1 254.4h0M317.3 214.3h0M287.9 207.4h0M314.5 275.7h0M340.6 220.7h0" stroke="#f2c0f2" stroke-width="2" opacity="0.75"/>
<path d="M323.7 231h0M272.3 279.7h0M300.9 250.1h0M289.5 251.7h0M248.7 295.5h0M268.9 298.6h0M339.4 244.6h0M211.9 294.8h0M210 227.4h0M352 296.5h0M219.3 245h0M222.8 236h0M299.6 276.9h0M335.3 253.7h0M294.9 234.4h0M278 297.7h0" stroke="#f6cef6" stroke-width="3" opacity="0.75"/>
<path d="M232.8 277.2h0M318.6 203.9h0M295 254.7h0M296.5 295.6h0M338 244.6h0M263.7 288.2h0M223.7 205.2h0M251.6 226.1h0M341.2 268.4h0M245.3 234.6h0M353.8 269.2h0M294.8 263.9h0M278 261.2h0M318.4 276.5h0M274.8 284.9h0M286.9 305.7h0M229.1 212.7h0M219.4 197.4h0M209.6 219.3h0M244.3 280.9h0M263.2 215.5h0M300.6 231.5h0" stroke="#f6cef6" stroke-width="2" opacity="0.75"/>
<path d="M211 259.7h0M287.1 284.3h0M287.4 273.6h0M342.3 253h0M344.1 210.5h0M347.9 248.3h0M219.1 255.8h0M353 253.1h0M250.5 272h0M227.7 216.9h0M282 274.1h0M207.9 221.1h0M326.3 244.6h0M266 265.6h0M219.3 224.8h0M211 233.3h0M248.3 302.6h0M208.3 281.4h0M242.2 222.2h0M221.9 265.6h0M265.8 256h0M318.6 238.9h0M245.2 253.4h0" stroke="#f6cef6" stroke-width="2.5" opacity="0.75"/>
<path d="M349.8 194.7h0M343.2 270h0M328.6 235.7h0M230.1 273.5h0M246.8 245.4h0M286.1 296.7h0M215.4 226.9h0M306 217.1h0M333.8 230.5h0M214.5 245.8h0M239.5 216.2h0M224.4 272.9h0M255.7 287.9h0M305.8 237.8h0M271.7 202.6h0M206.8 233h0M227.3 297.6h0M313.8 290.6h0M268.2 270.9h0M254.1 288.1h0M230.5 295.2h0M290.9 301.8h0M215.9 208.2h0M282.4 194.6h0M249.8 276.2h0M240.8 205.4h0M344.6 230.7h0M355.9 251.7h0M259.5 239.9h0M270 302.8h0M252.5 227h0M340.1 247.3h0M280.3 273.7h0" stroke="#f6cef6" stroke-width="1.5" opacity="0.75"/>
<path d="M203.8 259.4h0M331.7 225.8h0M318.8 288.9h0M247.1 265h0M208.2 255.1h0M209.9 266.2h0M269.2 219.3h0M223.6 240.4h0M221.1 286h0M331.4 274.4h0M327.9 232.3h0M222.4 214.7h0M314.5 212.5h0M332 297.6h0M255.3 278.5h0M215.9 293.9h0M288.8 218.8h0M341.6 268.7h0M209.5 273.8h0M304.5 200.8h0M352.8 239.5h0M284.5 256.5h0M299.6 304.6h0" stroke="#f0b8f0" stroke-width="1.5" opacity="0.75"/>
<path d="M318.1 224.6h0M322.4 286.5h0M215.3 292.6h0M306.2 202.3h0M281 294.8h0M295.2 263.4h0M302.4 279.4h0M276.2 296.2h0M215 270.1h0M239.9 276.4h0M346.2 218.8h0" stroke="#c890e0" stroke-width="1" opacity="0.75"/>
<path d="M238.1 267.6h0M311.3 238.2h0M211.7 223.2h0M289 283.7h0M251.5 230.1h0M351.1 209.9h0M285.3 282.7h0M343.9 209.2h0M296.9 231.7h0M210.4 259.8h0M270.2 280.7h0M290.9 238.2h0M252.1 238.4h0M320.2 278.1h0M333.2 209.7h0M333.4 211.8h0M233.4 228.9h0M254.3 200h0M278 267h0M331.6 209.8h0M225.1 296.8h0M216.2 211.6h0M331.1 237.7h0M351.6 287.5h0M252.6 247.5h0M248.1 220.2h0" stroke="#fbe4fb" stroke-width="2.5" opacity="0.75"/>
<path d="M303.7 272h0M260.7 273.9h0M328.6 193.8h0M235.8 260.2h0M234.5 249h0M256 220.1h0M263.5 196.3h0M316.4 290.6h0M225 271.4h0M232.8 246.4h0M296.3 290.5h0M303.8 258h0M288.9 210.8h0M316.9 266.3h0M346.1 257.4h0M221.5 290.8h0M261.4 240.1h0M251.6 249.4h0M281.3 294.1h0M309.9 225.8h0M293.3 197.2h0M309.5 292.3h0M220.9 304.3h0M293.4 288.3h0M305.7 273.2h0M211.8 284.5h0M322.8 237.3h0M255.7 215.9h0M327.1 217.6h0M286.5 283.7h0M250.9 260.8h0M261.9 240.1h0M300.3 216.7h0M266.3 241.6h0M284.7 208.8h0M338.2 224.7h0M320 250.9h0M241.1 275.1h0M301.4 233.1h0M338.9 247.1h0M331.1 201.1h0" stroke="#f0b8f0" stroke-width="2.5" opacity="0.75"/>
<path d="M242.3 206.9h0M226.7 235.9h0M215.2 278.4h0M299.3 287.4h0M261.7 216.5h0M340.8 250.2h0M355.4 289.6h0M207.7 293.9h0M307.5 297.6h0M296.2 297.7h0M343.1 297.2h0M353 205.1h0M321.6 226.1h0M232.2 216.4h0M208.5 285.8h0M302.4 253.1h0M213.2 256.4h0M216.5 205.9h0" stroke="#f0b8f0" stroke-width="1" opacity="0.75"/>
<path d="M239.1 242.8h0M309.3 298.8h0M250.7 215.6h0M324.4 195.1h0M280.5 220.5h0M206.5 231.9h0M286.9 195.6h0M327.9 302.7h0M319.8 301.6h0M245 222.2h0M306.8 231.6h0M321.3 236.3h0M205.5 197h0M276.6 256.3h0M346.6 198.2h0" stroke="#fbe4fb" stroke-width="1" opacity="0.75"/>
<path d="M206.8 259.6h0M298 230.2h0M276.7 301.3h0M293.6 253.6h0M272.9 292.6h0M276 224.4h0M274.4 208.2h0M355.5 223.6h0M247.7 277.8h0M304.7 241.9h0M209.1 238.6h0M261.2 259.7h0M315.2 295h0M307.9 269h0M352.3 283.4h0" stroke="#c890e0" stroke-width="3" opacity="0.75"/>
<path d="M248.9 218.4h0M352 240.4h0M297.4 241.6h0M277.9 269.2h0M236.3 232.6h0M229 242.5h0M348.9 277h0M301.2 200.1h0M230.3 301.6h0M284.5 219.2h0M205.9 239.8h0M265.6 249.2h0M247.7 299.1h0M293.3 219.1h0M343.2 213.2h0M233.9 196.3h0M316.6 304.3h0M303.1 196.1h0M234.3 230.6h0M245.4 263.2h0M235.2 286.4h0M206.9 212.9h0M299.9 203.6h0M272 264.8h0M262.3 285.1h0M337.3 200.3h0M242.5 248.6h0M284 279.9h0M211 231.2h0M211.3 266h0M218.1 200h0M297.1 269.8h0M355.9 260.1h0" stroke="#fbe4fb" stroke-width="2" opacity="0.75"/>
<path d="M210.7 299.6h0M208.2 271.6h0M246 295.3h0M256.3 237h0M250.7 244.1h0M260.8 213.1h0M314 289h0M277.6 291.9h0M350.6 229.9h0M325.8 202.4h0M273.8 211h0M211.3 220.6h0M337.3 261.3h0M320.5 217.2h0M234.3 275.8h0" stroke="#f2c0f2" stroke-width="1" opacity="0.75"/>
<path d="M201.3 187.8h0M219.5 189.7h0M223.9 187.4h0M243.9 189.2h0M247.5 187.5h0M259.3 189.1h0M265.4 189.6h0M279.8 187.4h0M286 189.2h0M291.1 188.3h0M296.6 189.3h0M333.9 188h0M344.7 187.4h0M352.1 188.5h0M204.7 195.2h0M209.5 194.4h0M222.7 193.6h0M239.1 193.6h0M263.8 192.5h0M269.4 192.6h0M286.5 194.5h0M292.5 193.7h0M329.3 193.8h0M235.9 198.7h0M279.5 200.5h0M291.6 198.7h0M296 199.4h0M301.8 199.5h0M308.9 200.5h0M315.1 198.8h0M358.1 199.5h0M208.8 204.4h0M215 205.9h0M221 205.5h0M244.9 203.2h0M258.9 205.4h0M264.6 204.4h0M282.3 204.4h0M305.6 206h0M310.5 203h0M316.8 205.6h0M329.8 204.5h0M206.8 211.2h0M226.1 209.3h0M230 210.9h0M249.6 210.9h0M255.9 209.6h0M260.1 209.9h0M274.1 210.4h0M277.1 210.7h0M284.2 209h0M291.7 209.4h0M295.1 209.7h0M314.5 210.7h0M320.5 209.9h0M326.1 209.8h0M337 208.8h0M349 208.3h0M232.5 215.6h0M243.9 214h0M273.9 215.4h0M305.7 214.3h0M313 213.4h0M318.4 215.7h0M342.7 214.4h0M206.5 221.1h0M237.4 218.7h0M243.3 220h0M256 221.1h0M265.8 218.5h0M271.4 219h0M284 219.6h0M290.2 219.4h0M295.4 220.7h0M316 219.7h0M319 218.9h0M327.3 218.7h0M333.8 220.8h0M350 219.4h0M362.9 219.6h0M203 224h0M215.9 226.3h0M221.9 224.8h0M256.2 223.9h0M288 223.9h0M316.5 225.2h0M323.3 226.1h0M334.6 223.8h0M340.5 225.1h0M201.5 230.2h0M260.2 229.3h0M267.2 232.2h0M273.1 229.1h0M285.7 230h0M308.4 232h0M314.5 231h0M337.3 231.6h0M202.8 236.4h0M210 234.5h0M216.1 236.3h0M221.9 235.1h0M228.9 234.4h0M233.6 235.6h0M282.7 236.4h0M293.8 234.6h0M300.5 235.3h0M306 234.8h0M312.6 236.9h0M336.1 236.5h0M347.3 234.3h0M201.9 240.4h0M236.2 241.6h0M260.1 239.4h0M279.8 242.5h0M285.5 242.5h0M313.8 241.7h0M322.1 240.3h0M327.6 239.7h0M333.2 240.7h0M338.6 241.6h0M344.6 240.7h0M354.9 239.4h0M361.5 241.5h0M209.1 245.7h0M215.8 247.8h0M240.8 244.7h0M250.5 246.9h0M264.9 245.4h0M275.2 246.5h0M282.7 245.2h0M312.2 247.4h0M316.5 247.7h0M342.4 246.2h0M347.3 247.7h0M354.4 245.1h0M199.1 250.8h0M205.8 250.7h0M226 253h0M230 250.1h0M256 251.6h0M297.1 251.8h0M333.4 250.6h0M344.7 250.1h0M350.2 250.9h0M355.4 251.1h0M364.1 250.4h0M228.7 256.7h0M238.5 255.4h0M258.7 255.3h0M269.3 257.5h0M287.4 255.3h0M291.9 258.2h0M305.8 258h0M347.1 257.3h0M206.1 260.9h0M211.7 262.5h0M230.7 261.2h0M260.5 262.5h0M265.6 261.7h0M279.3 262.6h0M291.2 262h0M339.5 260.6h0M351.3 261.9h0M357.7 261.5h0M204.5 268.2h0M227.4 265.7h0M250 266.5h0M256.4 267.3h0M264.7 265.9h0M275.7 268.3h0M287.7 266h0M294.8 267.6h0M299.4 265.6h0M318.7 266.9h0M322.9 267.3h0M335.7 267.6h0M343 268.3h0M346.8 265.8h0M217.1 273.7h0M231.5 271.5h0M241.5 271.2h0M248.2 273.9h0M261 273.6h0M297.3 272.8h0M302.3 272.2h0M338.2 272.8h0M350.1 272.3h0M231.9 277.9h0M264.7 277.8h0M304.8 278.5h0M312.5 276.3h0M336.2 277.2h0M342 279.1h0M201.5 283.6h0M219.4 281.9h0M235.5 281.6h0M241.7 281.5h0M301.6 281.2h0M320 281.6h0M339.6 281.2h0M345 282.7h0M351.2 284h0M209.9 289.1h0M251 289.3h0M269.9 288.6h0M280.1 287.4h0M306.1 287.6h0M334.6 287.7h0M358.3 289.1h0M201.2 293.3h0M206.9 291.9h0M217.2 292.1h0M230.8 292.2h0M238 292.8h0M247 292.3h0M280.1 294.6h0M289.1 292.1h0M313.8 293h0M338.2 292h0M357.4 292.6h0M202.7 298.9h0M209.4 297.7h0M228.3 299h0M232.3 298.9h0M292.3 298.7h0M328.4 298.8h0M206.4 303.1h0M211.6 302.7h0M217.9 303h0M229.3 304.3h0M255.6 305.1h0M273.4 302.8h0M292 304.3h0M307.3 304.6h0M320.7 304.2h0M327.1 304.1h0M239.4 307.3h0M251.9 308.7h0M256.2 308.4h0M268 309.6h0M282.9 309.4h0M288.6 308.3h0M292.5 310.3h0M304.3 309.3h0M312.3 308.6h0M322.2 309.6h0M328.7 307.9h0M334 308.6h0M347.9 309.5h0M353 310.4h0M359.6 309.3h0" stroke="#b88ce0" stroke-width="5.5" opacity="0.4"/>
<path d="M206.2 187.5h0M213.4 188h0M231.3 188.6h0M237 189.4h0M314.6 187.9h0M319.7 187.4h0M328 189.5h0M228.4 192.5h0M234.7 194.1h0M244 193.2h0M256.7 193.4h0M275.1 194.3h0M300.6 192.9h0M306.4 195h0M323.2 193h0M336.2 192.8h0M360.9 195.6h0M200.5 199.1h0M219.2 199.2h0M225.9 199.7h0M242.7 198.6h0M249 200.2h0M259.9 199.2h0M264.9 198.8h0M272.6 197.9h0M284.7 199.1h0M319.1 198.5h0M327.7 198.3h0M350 200.8h0M227.4 204.6h0M234.9 203.4h0M238.2 203.5h0M268.2 204.1h0M277.1 204.4h0M285.9 205.2h0M300.8 204.2h0M358.5 203h0M199.3 210.4h0M211.9 209.1h0M219.9 209.3h0M243.5 210.1h0M267.8 208.5h0M308.1 208.4h0M332.5 209.2h0M345.1 210.4h0M356.9 210.6h0M361.5 209.5h0M221.3 214.7h0M227.6 214.2h0M252.5 214.8h0M258.6 214.3h0M263.5 214.5h0M269.4 213.3h0M286.6 215.3h0M293.2 216.2h0M298.6 214.2h0M324.1 213.7h0M329.4 214.5h0M334.4 215.7h0M349 215.3h0M354.3 216.3h0M358.8 215.9h0M199.4 219h0M212.6 221.4h0M218.4 219.8h0M231 220.5h0M248.7 219.5h0M260.9 220.8h0M277.9 220.6h0M302 220.5h0M308.8 219.8h0M337.5 219.2h0M345.5 219.9h0M357.7 218.8h0M209.7 226.9h0M235.1 226h0M246.2 226.2h0M262.3 223.8h0M275 225h0M294.2 225.6h0M301 224.6h0M347.7 224.4h0M354.3 225.1h0M358.5 223.8h0M212.6 230.6h0M217.1 230.5h0M236.3 231.6h0M248.6 230.1h0M253.1 230.1h0M278.9 232h0M289.3 229.9h0M296.7 229.5h0M301.3 229.2h0M320.3 231.4h0M327.6 230.9h0M345.6 230h0M349.9 231.6h0M355.9 230.2h0M241 234.6h0M244 236.4h0M256.1 235.8h0M264.9 236.4h0M270 235.3h0M275 237h0M288.1 235.6h0M318.8 236.4h0M324.6 236h0M328.6 236.4h0M352.9 236.8h0M358.8 235.2h0M206.5 241.6h0M212.4 239.6h0M219.5 241.7h0M224.1 241.7h0M229.3 240.1h0M242.7 241.9h0M249.2 241.7h0M272.8 241.6h0M288.9 241.5h0M295.9 241.9h0M303.8 240.3h0M351.8 240.5h0M222.5 245.5h0M232.7 244.9h0M244 246h0M259.1 247.1h0M268.4 244.6h0M293.1 246.3h0M323.7 247.4h0M330.7 244.9h0M360.3 247.3h0M212.8 252.2h0M219.9 253h0M236.5 251.8h0M243.2 252.9h0M259.3 252.4h0M265.2 251.2h0M272.9 251.3h0M280.1 250.1h0M284 251.9h0M303.3 249.9h0M308.4 250.4h0M314.2 250.3h0M339.3 251.2h0M203.6 255.1h0M210.6 258h0M213.9 257.8h0M244.6 256h0M251.5 255.6h0M265 257h0M276.9 257.1h0M280.8 257.1h0M298 256.5h0M312.2 256h0M317.9 257.1h0M323.7 255.3h0M334.7 255.9h0M341.3 257.4h0M358.9 257.2h0M200.2 261.4h0M217.8 261.6h0M223.1 261.1h0M253.2 261.2h0M300.9 261.7h0M309.3 262.2h0M315.9 261.1h0M320.4 260.5h0M345.7 261.4h0M362.5 261.8h0M214.7 267.9h0M222.3 267.9h0M246.7 267.9h0M268.5 267.1h0M304 266.8h0M310.6 268.4h0M330.4 265.7h0M358.3 266.3h0M200.3 273.4h0M225 273.7h0M235.9 271.3h0M267.6 272.5h0M289.9 273.2h0M309.6 273.5h0M313.7 272.1h0M321.7 272.1h0M333.3 273h0M355.9 273.8h0M202.3 276.6h0M215.4 277.6h0M226.9 276.1h0M269.8 276h0M276 276.4h0M282.6 277h0M288 277.5h0M292.5 278.5h0M315.9 279.1h0M328.3 278.4h0M355 277.5h0M358.4 278.5h0M207.4 281.4h0M225 284.3h0M260.3 283.2h0M267 283.3h0M272.9 282.9h0M283.4 283h0M295.4 281.4h0M309.7 281.2h0M327.9 283.6h0M355.4 281.8h0M203.8 287.9h0M216.3 288.4h0M226.2 288.8h0M238.4 287.6h0M265 288.9h0M275.5 289.4h0M288.7 287.4h0M294.8 288.3h0M300.2 286.6h0M311.1 287.4h0M318 287.2h0M325.1 288.4h0M348.3 288h0M353.6 288.6h0M212.5 293h0M224.5 292h0M243.4 294.1h0M255.9 291.9h0M266.5 294.6h0M272.8 292.9h0M283.2 294.6h0M301.6 292.5h0M310.1 293.1h0M320.7 294h0M216.8 298.2h0M222.8 297.2h0M256.8 298.5h0M262.5 297.4h0M269.8 299.1h0M277 299.1h0M280.3 297.5h0M288.9 299.7h0M299.3 299.5h0M307.1 299.4h0M312.8 298.7h0M317.6 297.4h0M336.6 300h0M343 297.2h0M199.5 305.2h0M243.2 304.9h0M248.8 302.1h0M260.7 303.1h0M267.8 303.3h0M301.5 304.3h0M315.3 302.1h0M332.7 304.6h0M344.5 302.1h0M355.3 304.6h0M363.8 303.6h0M203.4 309.5h0M216.9 308.5h0M220 310.4h0M232.5 308.2h0M264.8 308.1h0M276.6 307.9h0M298.1 309.8h0" stroke="#b88ce0" stroke-width="5" opacity="0.4"/>
<path d="M253.7 188.4h0M309 189.6h0M339.1 189.6h0M357.5 187.8h0M363.2 189.1h0M312.5 192.7h0M341.5 193.2h0M353.2 193.1h0M205.5 198.7h0M213.6 199.3h0M332.2 197.7h0M339.3 197.7h0M363.1 198.9h0M204.5 203.6h0M294.4 205.2h0M323.7 205.4h0M341.5 204.2h0M347.9 203.6h0M236.8 209.8h0M203 214.2h0M208.4 214.2h0M214 214.8h0M223.1 220.1h0M239.7 224h0M251.8 224.4h0M270.8 225.8h0M329.7 226.2h0M205.7 230.5h0M242.8 230.4h0M342 235.1h0M266.1 242.1h0M227.6 247.8h0M299 247.6h0M320.2 252.9h0M325 251.4h0M235 256h0M354.6 255.5h0M237.2 261.9h0M248.8 260.5h0M273.1 261.2h0M296.4 262.5h0M331.2 262.3h0M232.5 266.5h0M281.5 267.9h0M354.1 267.8h0M205.4 271h0M270.9 272h0M285 271h0M325.8 273.6h0M345.8 273.3h0M210.8 276.9h0M220.3 278.3h0M246.8 276.5h0M251.9 278.2h0M256.4 278.5h0M298.9 277.5h0M322.1 277.6h0M346.9 277.1h0M247.7 283h0M256.1 282.4h0M315.7 283.7h0M331.3 282.7h0M362.2 282.6h0M220.9 287.6h0M232.3 287.2h0M245.1 288.3h0M257.1 286.4h0M342.6 287.3h0M326.5 293.8h0M240.9 299.6h0M246.6 299.8h0M251.4 297h0M323.5 297h0M349 298.1h0M352.6 299.5h0M225.5 302.3h0M278.3 303.2h0M284.4 304.6h0M351.6 302.9h0M210.5 307.8h0M227.5 308.8h0M245.9 309.5h0M318.1 308.8h0M340.5 309.9h0" stroke="#b88ce0" stroke-width="6" opacity="0.4"/>
<path d="M201.3 187.8h0M296.6 189.3h0M312.5 192.7h0M353.2 193.1h0M205.5 198.7h0M214 214.8h0M223.1 220.1h0M271.4 219h0M266.1 242.1h0M354.9 239.4h0M232.5 266.5h0M205.4 271h0M210.8 276.9h0M220.3 278.3h0M245.1 288.3h0M323.5 297h0M307.3 304.6h0M320.7 304.2h0M318.1 308.8h0" stroke="#4a46ba" stroke-width="3.5"/>
<path d="M206.2 187.5h0M275.1 194.3h0M238.2 203.5h0M268.2 204.1h0M285.9 205.2h0M300.8 204.2h0M345.1 210.4h0M356.9 210.6h0M286.6 215.3h0M354.3 216.3h0M209.7 226.9h0M275 225h0M289.3 229.9h0M242.7 241.9h0M249.2 241.7h0M293.1 246.3h0M259.3 252.4h0M303.3 249.9h0M225 284.3h0M295.4 281.4h0M327.9 283.6h0M203.8 287.9h0M216.3 288.4h0M238.4 287.6h0M348.3 288h0M353.6 288.6h0M212.5 293h0M243.4 294.1h0M280.3 297.5h0M288.9 299.7h0M343 297.2h0M260.7 303.1h0M267.8 303.3h0M315.3 302.1h0M332.7 304.6h0M216.9 308.5h0" stroke="#5a58c8" stroke-width="2.5"/>
<path d="M213.4 188h0M333.9 188h0M352.1 188.5h0M301.8 199.5h0M206.8 211.2h0M255.9 209.6h0M267.8 208.5h0M232.5 215.6h0M258.6 214.3h0M295.4 220.7h0M302 220.5h0M210 234.5h0M275 237h0M336.1 236.5h0M330.7 244.9h0M354.4 245.1h0M226 253h0M297.1 251.8h0M314.2 250.3h0M333.4 250.6h0M213.9 257.8h0M287.4 255.3h0M347.1 257.3h0M200.2 261.4h0M230.7 261.2h0M279.3 262.6h0M330.4 265.7h0M261 273.6h0M350.1 272.3h0M288 277.5h0M355 277.5h0M219.4 281.9h0M292 304.3h0M312.3 308.6h0M328.7 307.9h0" stroke="#4a46ba" stroke-width="3"/>
<path d="M219.5 189.7h0M314.6 187.9h0M344.7 187.4h0M235.9 198.7h0M315.1 198.8h0M350 200.8h0M358.1 199.5h0M215 205.9h0M221 205.5h0M274.1 210.4h0M284.2 209h0M326.1 209.8h0M243.9 214h0M256 221.1h0M265.8 218.5h0M345.5 219.9h0M301 224.6h0M244 236.4h0M293.8 234.6h0M352.9 236.8h0M327.6 239.7h0M338.6 241.6h0M209.1 245.7h0M250.5 246.9h0M205.8 250.7h0M317.9 257.1h0M334.7 255.9h0M260.5 262.5h0M315.9 261.1h0M320.4 260.5h0M351.3 261.9h0M250 266.5h0M241.5 271.2h0M321.7 272.1h0M351.2 284h0M280.1 287.4h0M334.6 287.7h0M313.8 293h0M228.3 299h0M256.8 298.5h0M328.4 298.8h0M220 310.4h0M251.9 308.7h0M256.2 308.4h0" stroke="#6c66d0" stroke-width="3"/>
<path d="M223.9 187.4h0M204.7 195.2h0M222.7 193.6h0M291.6 198.7h0M296 199.4h0M316.8 205.6h0M329.8 204.5h0M227.6 214.2h0M263.5 214.5h0M305.7 214.3h0M313 213.4h0M327.3 218.7h0M246.2 226.2h0M288 223.9h0M316.5 225.2h0M354.3 225.1h0M202.8 236.4h0M228.9 234.4h0M233.6 235.6h0M282.7 236.4h0M300.5 235.3h0M306 234.8h0M312.6 236.9h0M201.9 240.4h0M260.1 239.4h0M285.5 242.5h0M351.8 240.5h0M312.2 247.4h0M316.5 247.7h0M355.4 251.1h0M211.7 262.5h0M291.2 262h0M227.4 265.7h0M343 268.3h0M248.2 273.9h0M297.3 272.8h0M231.9 277.9h0M342 279.1h0M235.5 281.6h0M272.9 282.9h0M209.9 289.1h0M251 289.3h0M269.9 288.6h0M280.1 294.6h0M317.6 297.4h0M301.5 304.3h0M288.6 308.3h0" stroke="#5a58c8" stroke-width="3"/>
<path d="M231.3 188.6h0M319.7 187.4h0M300.6 192.9h0M306.4 195h0M360.9 195.6h0M200.5 199.1h0M319.1 198.5h0M227.4 204.6h0M329.4 214.5h0M218.4 219.8h0M347.7 224.4h0M217.1 230.5h0M264.9 236.4h0M324.6 236h0M268.4 244.6h0M323.7 247.4h0M212.8 252.2h0M203.6 255.1h0M210.6 258h0M298 256.5h0M300.9 261.7h0M235.9 271.3h0M289.9 273.2h0M309.6 273.5h0M315.9 279.1h0M272.8 292.9h0M320.7 294h0M307.1 299.4h0M312.8 298.7h0M199.5 305.2h0M248.8 302.1h0M363.8 303.6h0" stroke="#6460cc" stroke-width="2.5"/>
<path d="M237 189.4h0M259.9 199.2h0M358.5 203h0M199.3 210.4h0M243.5 210.1h0M252.5 214.8h0M277.9 220.6h0M337.5 219.2h0M294.2 225.6h0M272.8 241.6h0M360.3 247.3h0M236.5 251.8h0M358.9 257.2h0M217.8 261.6h0M223.1 261.1h0M309.3 262.2h0M310.6 268.4h0M202.3 276.6h0M269.8 276h0M276 276.4h0M260.3 283.2h0M309.7 281.2h0M226.2 288.8h0M265 288.9h0M275.5 289.4h0M277 299.1h0M232.5 308.2h0" stroke="#6c66d0" stroke-width="2.5"/>
<path d="M243.9 189.2h0M247.5 187.5h0M286 189.2h0M291.1 188.3h0M329.3 193.8h0M272.6 197.9h0M244.9 203.2h0M305.6 206h0M273.9 215.4h0M334.4 215.7h0M237.4 218.7h0M319 218.9h0M215.9 226.3h0M337.3 231.6h0M256.1 235.8h0M328.6 236.4h0M275.2 246.5h0M342.4 246.2h0M347.3 247.7h0M230 250.1h0M364.1 250.4h0M228.7 256.7h0M206.1 260.9h0M346.8 265.8h0M264.7 277.8h0M312.5 276.3h0M336.2 277.2h0M241.7 281.5h0M283.4 283h0M306.1 287.6h0M318 287.2h0M289.1 292.1h0M232.3 298.9h0M273.4 302.8h0M327.1 304.1h0M276.6 307.9h0M334 308.6h0M353 310.4h0" stroke="#7a70d4" stroke-width="3"/>
<path d="M253.7 188.4h0M339.1 189.6h0M332.2 197.7h0M363.1 198.9h0M347.9 203.6h0M277.1 210.7h0M299 247.6h0M237.2 261.9h0M294.8 267.6h0M345.8 273.3h0M246.8 276.5h0M256.4 278.5h0M315.7 283.7h0M220.9 287.6h0M257.1 286.4h0M292.3 298.7h0M349 298.1h0M206.4 303.1h0M210.5 307.8h0M292.5 310.3h0M340.5 309.9h0" stroke="#6460cc" stroke-width="3.5"/>
<path d="M259.3 189.1h0M249 200.2h0M211.9 209.1h0M291.7 209.4h0M295.1 209.7h0M349 208.3h0M342.7 214.4h0M290.2 219.4h0M362.9 219.6h0M201.5 230.2h0M253.1 230.1h0M347.3 234.3h0M344.6 240.7h0M305.8 258h0M268.5 267.1h0M299.4 265.6h0M322.9 267.3h0M217.1 273.7h0M231.5 271.5h0M339.6 281.2h0M209.4 297.7h0M216.8 298.2h0M211.6 302.7h0M304.3 309.3h0M347.9 309.5h0" stroke="#5450c4" stroke-width="3"/>
<path d="M265.4 189.6h0M279.8 187.4h0M286.5 194.5h0M341.5 193.2h0M213.6 199.3h0M282.3 204.4h0M221.9 224.8h0M251.8 224.4h0M314.5 231h0M216.1 236.3h0M264.9 245.4h0M199.1 250.8h0M269.3 257.5h0M265.6 261.7h0M296.4 262.5h0M287.7 266h0M354.1 267.8h0M270.9 272h0M301.6 281.2h0M320 281.6h0M326.5 293.8h0M278.3 303.2h0M284.4 304.6h0M227.5 308.8h0" stroke="#3e3aae" stroke-width="3.5"/>
<path d="M309 189.6h0M263.8 192.5h0M258.9 205.4h0M323.7 205.4h0M284 219.6h0M270.8 225.8h0M323.3 226.1h0M329.7 226.2h0M285.7 230h0M248.8 260.5h0M304.8 278.5h0M322.1 277.6h0M201.5 283.6h0M240.9 299.6h0M225.5 302.3h0M351.6 302.9h0" stroke="#5450c4" stroke-width="3.5"/>
<path d="M328 189.5h0M284.7 199.1h0M308.1 208.4h0M221.3 214.7h0M199.4 219h0M231 220.5h0M248.6 230.1h0M278.9 232h0M320.3 231.4h0M270 235.3h0M288.1 235.6h0M229.3 240.1h0M295.9 241.9h0M265.2 251.2h0M244.6 256h0M265 257h0M312.2 256h0M341.3 257.4h0M246.7 267.9h0M304 266.8h0M355.9 273.8h0M215.4 277.6h0M292.5 278.5h0M207.4 281.4h0M355.4 281.8h0M288.7 287.4h0M300.2 286.6h0M222.8 297.2h0M243.2 304.9h0" stroke="#5450c4" stroke-width="2.5"/>
<path d="M357.5 187.8h0M230 210.9h0M236.8 209.8h0M239.7 224h0M240.8 244.7h0M325 251.4h0M235 256h0M335.7 267.6h0M298.9 277.5h0M256.1 282.4h0M345 282.7h0M362.2 282.6h0M232.3 287.2h0M342.6 287.3h0M238 292.8h0M202.7 298.9h0M352.6 299.5h0M245.9 309.5h0M268 309.6h0" stroke="#7a70d4" stroke-width="3.5"/>
<path d="M363.2 189.1h0M339.3 197.7h0M294.4 205.2h0M310.5 203h0M314.5 210.7h0M203 214.2h0M318.4 215.7h0M256.2 223.9h0M205.7 230.5h0M267.2 232.2h0M320.2 252.9h0M344.7 250.1h0M258.7 255.3h0M331.2 262.3h0M325.8 273.6h0M251.9 278.2h0M247.7 283h0M251.4 297h0" stroke="#6c66d0" stroke-width="3.5"/>
<path d="M209.5 194.4h0M269.4 192.6h0M264.9 198.8h0M249.6 210.9h0M260.1 209.9h0M337 208.8h0M324.1 213.7h0M349 215.3h0M333.8 220.8h0M203 224h0M235.1 226h0M340.5 225.1h0M260.2 229.3h0M224.1 241.7h0M236.2 241.6h0M333.2 240.7h0M282.7 245.2h0M308.4 250.4h0M350.2 250.9h0M238.5 255.4h0M291.9 258.2h0M339.5 260.6h0M204.5 268.2h0M264.7 265.9h0M318.7 266.9h0M358.3 266.3h0M200.3 273.4h0M302.3 272.2h0M267 283.3h0M201.2 293.3h0M217.2 292.1h0M357.4 292.6h0M217.9 303h0M239.4 307.3h0M322.2 309.6h0M359.6 309.3h0" stroke="#6460cc" stroke-width="3"/>
<path d="M228.4 192.5h0M234.7 194.1h0M336.2 192.8h0M269.4 213.3h0M293.2 216.2h0M358.8 215.9h0M248.7 219.5h0M262.3 223.8h0M358.5 223.8h0M212.6 230.6h0M236.3 231.6h0M241 234.6h0M212.4 239.6h0M219.5 241.7h0M303.8 240.3h0M284 251.9h0M339.3 251.2h0M251.5 255.6h0M276.9 257.1h0M362.5 261.8h0M226.9 276.1h0M266.5 294.6h0M283.2 294.6h0M355.3 304.6h0M203.4 309.5h0M264.8 308.1h0" stroke="#7a70d4" stroke-width="2.5"/>
<path d="M239.1 193.6h0M242.7 198.6h0M279.5 200.5h0M308.9 200.5h0M208.8 204.4h0M264.6 204.4h0M226.1 209.3h0M320.5 209.9h0M206.5 221.1h0M243.3 220h0M316 219.7h0M334.6 223.8h0M221.9 235.1h0M279.8 242.5h0M322.1 240.3h0M361.5 241.5h0M256 251.6h0M280.8 257.1h0M357.7 261.5h0M256.4 267.3h0M275.7 268.3h0M225 273.7h0M338.2 272.8h0M325.1 288.4h0M358.3 289.1h0M206.9 291.9h0M230.8 292.2h0M247 292.3h0M255.9 291.9h0M338.2 292h0M229.3 304.3h0M255.6 305.1h0M282.9 309.4h0" stroke="#3e3aae" stroke-width="3"/>
<path d="M244 193.2h0M256.7 193.4h0M323.2 193h0M219.2 199.2h0M234.9 203.4h0M219.9 209.3h0M298.6 214.2h0M357.7 218.8h0M301.3 229.2h0M345.6 230h0M349.9 231.6h0M355.9 230.2h0M288.9 241.5h0M232.7 244.9h0M259.1 247.1h0M243.2 252.9h0M272.9 251.3h0M280.1 250.1h0M345.7 261.4h0M214.7 267.9h0M282.6 277h0M294.8 288.3h0M311.1 287.4h0M224.5 292h0M299.3 299.5h0M344.5 302.1h0M298.1 309.8h0" stroke="#4a46ba" stroke-width="2.5"/>
<path d="M292.5 193.7h0M204.5 203.6h0M341.5 204.2h0M208.4 214.2h0M350 219.4h0M242.8 230.4h0M273.1 229.1h0M308.4 232h0M342 235.1h0M313.8 241.7h0M215.8 247.8h0M227.6 247.8h0M354.6 255.5h0M273.1 261.2h0M281.5 267.9h0M285 271h0M346.9 277.1h0M331.3 282.7h0M246.6 299.8h0" stroke="#5a58c8" stroke-width="3.5"/>
<path d="M225.9 199.7h0M327.7 198.3h0M277.1 204.4h0M332.5 209.2h0M361.5 209.5h0M212.6 221.4h0M260.9 220.8h0M308.8 219.8h0M296.7 229.5h0M327.6 230.9h0M318.8 236.4h0M358.8 235.2h0M206.5 241.6h0M222.5 245.5h0M244 246h0M219.9 253h0M323.7 255.3h0M253.2 261.2h0M222.3 267.9h0M267.6 272.5h0M313.7 272.1h0M333.3 273h0M328.3 278.4h0M358.4 278.5h0M301.6 292.5h0M310.1 293.1h0M262.5 297.4h0M269.8 299.1h0M336.6 300h0" stroke="#3e3aae" stroke-width="2.5"/>
<path d="M245.9 227.2h0M245.8 232.9h0M232.5 296.3h0M235.2 293.1h0M206.8 276.6h0M240.3 268.2h0M260.5 272.6h0M234.1 305.5h0M211.2 217.8h0M298.5 245.6h0M231.1 243.2h0M217.1 242.3h0M343.8 285h0M284.6 194.8h0M348.3 218h0M217.2 283.2h0M316.3 270.1h0M329.3 267.8h0M275.2 283.4h0M323.8 215.9h0M318.3 285.1h0M341.4 271.1h0M211.2 231.4h0M325.3 266.5h0M346.7 280.2h0M268.9 213.8h0M243.7 257.1h0M276.8 288.1h0M349.8 223.5h0M328.1 230.3h0M248.7 233h0M257.1 232.7h0M269 197.6h0M349 261.6h0M205.8 221h0M354.1 227.1h0M312.3 259.7h0M316 244h0M255.5 257h0M347.8 304.6h0M232.3 212.5h0M265 271.4h0M240.4 243.5h0M349.2 227.7h0M334.6 284.4h0M296.8 290.5h0M210.2 218.9h0M301.6 289.6h0M235.5 243.8h0M296.7 263.4h0M344 281.6h0M346.5 237.8h0M350.8 235.4h0M228.7 223h0M323.5 238.1h0M267.5 292.3h0M286 271.5h0M332.4 209.3h0M313.6 227.4h0M269 232.1h0M280.6 264.6h0M243.5 297.4h0M351.9 222.6h0M229.7 265.1h0M346.7 221.7h0M227.1 218.6h0M227.2 243.7h0M257.6 266.9h0M325.2 210.8h0M238.1 289.7h0M268.5 273.4h0M211.7 212.5h0M355.4 277.5h0M284.3 247.4h0M353.4 283.4h0M338.1 217.3h0M303.3 278.8h0M209.2 209.6h0M277.7 237.8h0M308.8 231.6h0M346.4 268.3h0M224.9 224.6h0M235.3 242.2h0M239.4 287.2h0M291.2 294h0M303.7 246.4h0M218.2 214.5h0M203.7 209.2h0" stroke="#2a2470" stroke-width="1.5"/>
<path d="M317.8 237.2h0M246.5 263h0M233.1 205.3h0M221.2 234.3h0M211.4 239.4h0M318.4 257h0M239 255.5h0M240.2 248.3h0M288.9 255.1h0M308.8 305.5h0M307.8 298.5h0M311.5 252.4h0M268.5 276.4h0M203.6 207h0M211.9 226.2h0M349.7 223.9h0M320.1 261.6h0M258.5 226h0M310.3 270.2h0M312.3 248.9h0M215.2 291.3h0M337.4 199.2h0M230.7 210.6h0M295.1 303.9h0M331.5 220.9h0M251.2 252.6h0M320.5 254.5h0M309.9 284h0M328.5 211h0M223.9 283.8h0M210.3 285.9h0M314.5 252.5h0M270.3 266.8h0M340.2 260.5h0M214 192h0M272 212.4h0M232 259h0M293.1 290.8h0M241.2 197.9h0M273.1 199.2h0M262 234.9h0M268.6 255.5h0M274.7 196.1h0M280.7 259.7h0M247.1 244.6h0M247.5 196.1h0M265.1 198.9h0M256 228.9h0M241.3 234.7h0M299.4 282.2h0M297.9 247.6h0M335.2 209.9h0" stroke="#2a2470" stroke-width="1"/>
</g></g>
<g><clipPath id="h3"><rect x="368.9" y="192" width="153" height="115"/></clipPath>
<rect x="368.9" y="192" width="153" height="115" fill="#e29ce6"/>
<rect x="368.9" y="192" width="153" height="115" filter="url(#mottle3)"/>
<g clip-path="url(#h3)" filter="url(#hblur)" stroke-linecap="round" fill="none">
<polyline points="372,205 395,200 410,208" stroke="#c890dc" stroke-width="5" opacity="0.6"/>
<path d="M405.3 254.6h0M473.2 298.8h0M471.6 210.8h0M399.4 259.3h0M480.6 209.2h0M374.1 201.2h0M502.4 243.7h0M443.5 285.1h0M518.8 292.8h0M494 192.6h0M427.6 279h0M431.7 298.2h0M408.4 232h0M432.5 203h0M391.5 251.7h0M421.5 225.4h0M369.6 217.4h0M513 213.1h0M394.2 287.1h0M404.2 226.6h0M518.6 196.1h0" stroke="#fbe4fb" stroke-width="3" opacity="0.75"/>
<path d="M441.4 258.8h0M449.2 239.6h0M496.6 286.5h0M440.1 217.6h0M516.6 233.7h0M473.5 306.1h0M509.8 288.8h0M376.4 200.7h0M466.9 210.3h0M493.2 208.5h0M430.6 209.5h0M418.3 243.3h0M450.4 228h0M457.1 221.3h0M426.5 234.4h0" stroke="#f2c0f2" stroke-width="1" opacity="0.75"/>
<path d="M497 221.8h0M373 257.5h0M402.9 284.4h0M387.4 252.9h0M475.1 245h0M458.6 290.7h0M412.2 267.6h0M430.4 303.5h0M374.9 248.7h0M416.5 243.8h0M370.7 218.4h0M434.8 201.7h0M413.2 256.3h0M377.3 279.3h0M498.7 212.6h0M402.8 306.5h0M447 214.9h0M405.1 192.7h0M386.4 268.6h0M444.1 281.6h0M479.9 223.3h0M388.6 240.5h0M394.7 192.1h0M519.1 205.2h0M447 299.8h0M488.7 237.5h0M423.3 262.7h0M415.3 287.8h0M445.4 209.7h0M501.8 243.8h0M417.3 265.9h0M476.5 291.3h0M386.8 249.2h0M436.8 206.8h0" stroke="#f0b8f0" stroke-width="1.5" opacity="0.75"/>
<path d="M478.6 254.2h0M509.8 237.4h0M407.3 244.5h0M465.9 225.4h0M496.3 263.6h0M388.1 303.8h0M499.6 201.9h0M439.4 266.8h0M471 276.4h0M382.5 306.6h0M499.8 260.5h0M513.4 230.9h0M419.6 274.9h0M507.5 245.8h0M471.2 234.7h0M451.2 242.9h0M489.6 212.2h0M468.6 292.6h0M376.8 251.6h0M512.4 205.8h0M424.7 218.7h0M424.9 275.2h0M475.7 264.3h0M438.6 306.3h0M491.6 236.7h0M438.4 250.7h0M506.3 216h0M383.9 212.5h0M459.3 231.4h0M511.8 229.9h0M467.7 193.7h0M476.2 232.1h0M510.9 275.9h0M458.4 249.1h0M500.8 286.1h0M515.3 194.2h0M498.7 301.7h0M493.5 232.9h0M427.9 287.7h0M398.8 251.6h0M415.3 273.8h0M464.7 287.6h0M479.4 210.5h0M401.4 219.7h0M371.2 255.8h0" stroke="#f2c0f2" stroke-width="2" opacity="0.75"/>
<path d="M466.7 209.3h0M507.3 257.4h0M387.4 249.9h0M504.7 205.7h0M499.5 219.8h0M435.6 247.9h0M413.9 275.7h0M395.9 199.9h0M445.9 247.4h0M483.6 215.8h0M378.3 246.3h0M381 218.4h0M515.4 208.6h0M456.7 201.8h0M444.4 290.2h0M406.5 272.5h0M445.3 247.2h0M473.1 219.3h0M475.7 193.6h0M482.8 281.4h0M409 306h0M466.3 282h0M441.4 229.6h0M378.4 278.4h0M502.1 222.3h0M449.3 221.6h0M500.8 220h0" stroke="#f0b8f0" stroke-width="2.5" opacity="0.75"/>
<path d="M448.9 277.2h0M499.6 305.8h0M379.1 295.2h0M469.8 235.2h0M409.8 217h0M481.2 230.7h0M379.5 249.3h0M417.5 195.8h0M383 271.6h0M369.2 214.4h0M370.1 226.4h0M401.7 232.3h0M458.8 196h0M414.7 239.3h0M511.2 251.8h0M440.4 237.7h0M435.2 212.9h0M499.6 236.2h0M401.3 213.4h0M406.7 293.2h0M455 236.3h0M384 272.9h0M395.8 287.1h0M475.8 211.6h0M516.1 192.7h0M518.2 224.4h0M490.6 222h0M405.3 269.6h0M405.7 215.2h0M451 232h0M398.9 217.9h0M454.2 241h0M380.2 205.4h0M499.2 238h0M404.6 304.6h0M484.7 232.3h0M392.2 228.1h0M495.9 241.8h0M475.4 231.7h0" stroke="#f6cef6" stroke-width="1.5" opacity="0.75"/>
<path d="M515.4 196.9h0M409.3 282.5h0M452.1 294.3h0M487.7 192.2h0M434.5 206.7h0M499.3 194.9h0M398 264.9h0M484.7 247.8h0M430.3 212.8h0M421.9 206.3h0M375.4 211.7h0M475.7 205.2h0M483.3 215.6h0M503.4 280.1h0M484.1 286.3h0M394.8 229.7h0M452.8 201.3h0M399.7 204h0M521.7 202h0M380.8 303.7h0M445.9 194.7h0M385.8 282h0M463.9 246h0M401.3 242.3h0M456.8 257.3h0M416.4 229h0M460.9 266.4h0" stroke="#f6cef6" stroke-width="2.5" opacity="0.75"/>
<path d="M410.1 260.4h0M444.6 221.7h0M392.9 200.3h0M426.3 219.1h0M520.8 200.3h0M443.7 194.7h0M413.4 304.8h0M390.3 196.3h0M515.9 253.5h0M490.7 236h0M370.4 247.2h0M457.5 222.9h0M453.4 205.5h0M446.7 234.8h0M482.7 302h0M375.6 271.3h0M490.1 221.8h0M411.5 214.3h0M400.6 282.3h0M415.1 238.6h0M393.7 204.4h0M431.8 236.7h0M419.3 192.3h0M470.1 287h0" stroke="#c890e0" stroke-width="2.5" opacity="0.75"/>
<path d="M512 293.1h0M520.1 222.7h0M472.6 266.7h0M382.8 283.9h0M490.1 263.7h0M369.5 195.5h0M383.7 304.6h0M455.1 238.7h0M390 281.3h0M510.1 227.8h0M469.8 285.5h0M459.5 213.6h0" stroke="#f6cef6" stroke-width="1" opacity="0.75"/>
<path d="M499.7 240.4h0M515.6 295.1h0M463.5 250.2h0M400.9 211.6h0M443 280.9h0M434.9 300.1h0M408.9 269.3h0M389.7 279.2h0M513.3 228.5h0M474.8 241.6h0M499.6 242.9h0M377.5 282.5h0M429.2 214.6h0M416.1 199.2h0M480.2 203.9h0M426.8 249.9h0M461 263h0M432.3 284.8h0M417.2 204.2h0" stroke="#c890e0" stroke-width="2" opacity="0.75"/>
<path d="M450.6 238.9h0M507.2 271.8h0M458.7 233.5h0M503.8 197.3h0M450.1 253.6h0M429.6 197.7h0M479 261h0M467.5 285.9h0M516.6 250.7h0M445.1 270.7h0" stroke="#f0b8f0" stroke-width="3" opacity="0.75"/>
<path d="M486.5 292.4h0M374.4 192.8h0M432.4 258.7h0M509.8 209.9h0M506.6 258.3h0M509.9 284.7h0M463.5 251.8h0M487.4 197.1h0M504.6 296.5h0M443.9 198.9h0M377.6 242.1h0M442.1 232.4h0M413.8 289.7h0M381 286.9h0M424.7 282.2h0M496.7 261.4h0M417.3 260.7h0M431.5 292.4h0M518.3 223h0M436.5 263h0M401.7 255.1h0M418.4 192h0M494.9 260.9h0M447.8 237.7h0M393.1 304.8h0M486.7 194.3h0M488 219.4h0M396.5 283.8h0M483.9 305h0M455.4 248.1h0M385.6 202.1h0M434.7 193.7h0M379.5 264.4h0M403.6 200.6h0M474.9 303.4h0M410.7 263.7h0M514.5 273h0" stroke="#f6cef6" stroke-width="2" opacity="0.75"/>
<path d="M485.4 235.4h0M503.7 304.8h0M384.6 303.9h0M495.6 201.8h0M496.8 301.5h0M378.3 229.3h0M491.9 215.1h0M469.2 206.2h0M446.1 220.4h0M425 234.7h0M425.5 290.4h0M466.3 208h0M516 248.2h0M482.1 276.4h0M455 240.3h0M521.3 211h0M495.5 299.1h0M402.3 244.5h0M390.2 227.3h0M519.2 268.1h0M456.6 231.4h0M500.5 259.2h0M476.3 304.2h0M505.4 293.7h0M481.9 209.2h0M450.1 280.4h0M434.9 240.5h0M409.5 225.1h0M499.6 224h0M417.7 257.6h0M482.1 298.8h0M385.1 292.4h0M401.6 274.8h0M403.5 293.9h0M482.1 228.9h0M416.3 265.6h0M371.8 244h0M384.8 200.4h0M391.7 230.2h0M519.8 260.5h0M370.5 287.6h0M486.3 265.4h0" stroke="#f2c0f2" stroke-width="1.5" opacity="0.75"/>
<path d="M373.7 214.7h0M410.2 259.8h0M493.1 274.4h0M472 251.5h0M414.9 213.5h0M441.3 199.8h0M506.6 215.1h0M452.6 253.7h0M397 284.2h0M504 281.9h0M369.2 305.1h0M484 287.1h0M425.6 208.4h0M516.8 244.1h0M425.8 234.7h0M473.3 205.9h0M397 223.5h0M495 297.6h0M402.8 286h0M451.4 291.3h0M393.7 297.2h0M513.9 246.8h0M390.6 196.9h0M376.3 238.2h0M434.9 196.6h0M474.5 264.1h0M518.8 198.1h0M446.6 278.1h0M441.2 278.8h0M435.1 205.3h0M514.9 246.1h0M483.2 235.6h0M411.7 198.1h0M412.4 251.9h0M453.9 269.7h0" stroke="#c890e0" stroke-width="1.5" opacity="0.75"/>
<path d="M409.2 271.3h0M402.3 257.4h0M496.8 258.1h0M456.2 238h0M388.8 195.2h0M476 300.4h0M407.9 291.5h0M395 212.6h0M493.5 264.3h0M451.8 233.4h0M425.7 264.7h0M479.5 231.6h0M450.2 263.3h0M425 217.7h0M514.7 289.5h0M465 256.8h0M493.6 276h0M372.7 195h0M428.5 290.3h0M387.6 211.9h0M438 246.3h0M475.8 228.6h0M512.5 227.9h0M500.3 259.8h0M421.5 289.1h0M495.6 211.7h0M506.8 230.2h0M508.5 227h0M443.6 221.8h0M403.2 305.9h0" stroke="#fbe4fb" stroke-width="1.5" opacity="0.75"/>
<path d="M502 236.4h0M474.6 300h0M516.9 239.8h0M419.8 238.4h0M459.2 270.4h0M416.3 249.2h0M470.2 248.6h0M389.5 290.7h0M398.3 278.7h0M519.8 262.4h0M417.6 233.2h0M441.5 198.7h0M507.4 297.1h0M377.3 265.7h0M457.8 219.4h0M412.6 304.7h0M405.6 269.8h0M517.3 219.2h0M428.4 302.6h0M438.4 257.5h0M460.7 202.2h0" stroke="#f2c0f2" stroke-width="2.5" opacity="0.75"/>
<path d="M465.9 274.3h0M459 207.3h0M388.7 225.6h0M464.9 279.4h0M496.5 225.6h0M428.4 213.9h0M443.2 268.9h0M383.6 275.1h0M411.1 241.7h0M498.5 246.4h0M390.2 201.4h0M399 195.3h0M466.2 259.4h0M451.4 260.7h0M385.4 252.7h0M433.6 256.2h0M425.4 270.4h0M434.7 226h0M394.1 302.6h0M445.4 201.9h0M459.9 300.9h0M436.7 298.7h0M461.8 199.8h0M464.7 192.9h0M487.3 209.7h0M435.9 276.1h0M496.3 204.5h0M370.1 220.6h0M515.5 246h0M411.9 227.5h0M477.1 214.4h0" stroke="#fbe4fb" stroke-width="2" opacity="0.75"/>
<path d="M408.4 226.8h0M506.3 283h0M414.1 269.7h0M386.2 248.8h0M452 277.1h0M500.3 203.7h0M496 255.5h0M411.7 273.6h0M473.8 252.4h0M453 262.2h0M501.6 273.8h0M503.1 277.8h0M473.6 218.5h0M480 287.9h0M394.6 234.1h0M483.8 211.7h0M509.4 240.2h0M485.2 201.6h0M378.4 300.3h0M458.3 225.2h0M476 212.3h0M469.6 221.4h0M405.6 215.4h0" stroke="#fbe4fb" stroke-width="1" opacity="0.75"/>
<path d="M472.8 232.5h0M396 213.3h0M499.8 211.5h0M499.2 253.9h0M476.1 270h0M511.2 229.2h0M488.2 247.3h0M470 281.4h0M439.8 294h0M487.3 243.1h0M378.1 241.8h0M409.2 271.8h0M425.5 212.9h0M438.8 304.1h0M376.2 269.7h0M418.3 247.3h0M506.8 230.3h0M506.4 237.8h0M439.4 246.4h0M466.9 249.7h0M437 304.6h0M471.3 207.7h0M466.7 220.5h0M497 255.8h0M396.4 205.7h0M480.4 254.9h0M514.9 264.9h0M395.3 304.2h0M456.1 296.5h0M442.8 257.1h0" stroke="#fbe4fb" stroke-width="2.5" opacity="0.75"/>
<path d="M372.3 199h0M478.3 204.3h0M468.1 281.4h0M389.9 263.5h0M460.8 284.2h0M375.8 247.9h0M508.9 214.4h0M436.1 248.2h0M474 289.2h0M397.1 271.3h0M443.1 238.5h0M408.6 245.4h0M412.6 283.8h0" stroke="#f6cef6" stroke-width="3" opacity="0.75"/>
<path d="M418.2 230.4h0M380.7 306.8h0M418.2 281h0M475.6 272.7h0M482.5 248.3h0M480.2 213.3h0M471.4 237h0M391.3 237.8h0M400.3 199.3h0M431.4 289.2h0M376.4 209.6h0M438.1 302.3h0M389 208.7h0M451.6 242.7h0M481.7 287.3h0M400.7 226.9h0M433 291.4h0M375.3 231.9h0M428.3 197.4h0M369.1 283h0M471 229.6h0M412 218.9h0M420 284.7h0M481.6 220.2h0M485.1 237.1h0M394.8 280.1h0M419.8 203.7h0M521.5 204.5h0M482 211.9h0M447.5 249.8h0" stroke="#f0b8f0" stroke-width="2" opacity="0.75"/>
<path d="M514.3 298.6h0M517.5 205.8h0M488.6 232.5h0M427.1 201.2h0M430.3 294.1h0M410.3 198.1h0M399.3 281.9h0M459.8 285.7h0M399 281.9h0M468.1 207h0M512.4 261.4h0M521.2 247.6h0M399.7 250.1h0M464.5 293.7h0M435.9 249.7h0M421.3 212.3h0M520.1 283.1h0M516.8 280.1h0" stroke="#f0b8f0" stroke-width="1" opacity="0.75"/>
<path d="M438.8 278.6h0M483.4 297.4h0M514.1 236.1h0M425.2 214h0M497.4 207h0M384.2 298.6h0M428.7 245.5h0M438.4 220.9h0M409.1 207.3h0M517.4 258.3h0M474.3 216.5h0M387 241.1h0M388.7 262.7h0" stroke="#f2c0f2" stroke-width="3" opacity="0.75"/>
<path d="M376 197.7h0M429.6 232.3h0M413.7 288.9h0M446.5 278.6h0M397.2 193.5h0M509.8 212.8h0M374.3 240h0M393.1 206.1h0M383.3 267.9h0M403.5 229.1h0M446 271h0M369.6 273.5h0M372 242.9h0M490.6 306.9h0M398.7 257.6h0M485.1 252.8h0M380.4 193h0" stroke="#c890e0" stroke-width="3" opacity="0.75"/>
<path d="M491.5 263.6h0M387.1 223.6h0M414.7 290.9h0M445.5 266.3h0M483.9 264.6h0M408.7 197.1h0M423.1 301.3h0M496.4 215.9h0M373.3 216.2h0M438.4 269.1h0M388.1 284h0M482.8 202.2h0M494.7 274.2h0M448.5 249.8h0M436.9 225.8h0" stroke="#c890e0" stroke-width="1" opacity="0.75"/>
<path d="M365.4 188.7h0M372.6 189h0M381 188.8h0M400.8 189.8h0M409.8 187h0M424 189.6h0M479 187.1h0M489 189.2h0M502.8 187h0M510.6 188.2h0M516.8 188.8h0M382.7 195h0M405.3 195.6h0M442.4 194.4h0M462.8 194.8h0M491.1 194.8h0M507.3 195.5h0M527.3 195.8h0M386.9 202.5h0M393.7 201.9h0M416 201.7h0M422.8 201h0M437.1 200.2h0M474.3 200h0M503.2 199.4h0M509.3 200.8h0M518.1 200.3h0M368.5 208.6h0M382.5 207.6h0M410.6 207.8h0M420.3 205.9h0M425.8 207.6h0M448.4 205.7h0M483.1 206.9h0M513.5 206.1h0M364.4 211.9h0M371 213.1h0M378.7 213.3h0M386 212.5h0M394.3 214h0M402.1 214h0M444.1 214.3h0M466.8 212.2h0M509.4 213.4h0M367.7 219.1h0M396.1 219.3h0M441.9 219.5h0M448.6 218.9h0M462.3 220.1h0M469.4 218.3h0M475.6 219.7h0M371.4 226.4h0M450.7 224.5h0M489.1 226.9h0M508.8 225.8h0M516 226h0M369.3 232.5h0M384.6 233.2h0M390.8 232.9h0M440.5 232.1h0M447.2 231.3h0M468.2 230.9h0M521.4 231.4h0M527.4 231.5h0M379.5 239.5h0M386 239.2h0M392.7 238.6h0M417.3 237h0M438.6 237.8h0M467.2 239.2h0M524.8 237.1h0M383.3 244.2h0M389.4 244.9h0M397.3 245.1h0M446.5 243.4h0M464 245.5h0M468.6 244h0M483 245.1h0M492.4 246.2h0M513.8 245.6h0M408.2 250.5h0M416.6 251.5h0M429.7 249.4h0M443.9 250.3h0M465.3 250h0M480.4 251.4h0M487.2 252h0M494.3 251.8h0M503.1 252.2h0M516.3 252.2h0M389.9 258.1h0M448.2 256h0M490.2 256.8h0M504.6 255.7h0M519.9 257.3h0M366.1 263.3h0M373.9 262.5h0M385.3 263.6h0M421.5 262.8h0M431.4 263h0M467.1 262.2h0M480 263.7h0M496.3 262.2h0M368 268.5h0M417.8 268.7h0M428 271.1h0M439.7 270.8h0M454.7 270.5h0M498 270h0M506.1 269.5h0M379 277h0M386.6 276.5h0M409.4 275.5h0M423.5 276.2h0M429 277.2h0M445.2 276.6h0M466.2 276.1h0M473 277.5h0M487.2 276.5h0M525.1 277.7h0M419.2 283.3h0M425.1 283.9h0M447.6 282.1h0M520.2 281.9h0M417.1 288.8h0M452.1 287.7h0M493.9 289.7h0M503.1 288.2h0M515.9 289.7h0M384.4 293.8h0M434.3 295.8h0M448.6 293.3h0M455.9 295.8h0M476.1 295.9h0M491.8 294.7h0M497 295.9h0M371.3 301.3h0M387.2 302.4h0M393.5 302.2h0M408.8 302.7h0M430.6 302h0M438.5 302.3h0M444 301.9h0M479.8 300.6h0M494.4 302.2h0M502.4 299.9h0M516.4 301.8h0M375.4 306.5h0M389.7 307.4h0M404.3 306.6h0M410.6 306.9h0M418.8 307.1h0M440.3 306.2h0M499.8 308.2h0M511.5 308.5h0M519.1 308.6h0M527.2 308.7h0M371.5 314h0M386.6 312.2h0M424.4 314.1h0M437.3 313.7h0M465.6 313.6h0M480.5 313h0M508.8 313.4h0M515.8 313.7h0" stroke="#b88ce0" stroke-width="5" opacity="0.3"/>
<path d="M386.5 189.6h0M393.9 188.2h0M415.8 188.7h0M429.5 189.2h0M466.8 189.1h0M473.2 187.2h0M523.9 189.6h0M369.1 194.3h0M389.7 195.4h0M410.6 193.3h0M419.4 193.4h0M426.5 194.4h0M447.1 193.1h0M454.8 193.4h0M484.2 194.7h0M366.7 200.5h0M371.4 201h0M408.9 202.1h0M429.2 201.3h0M445.6 201.5h0M452.9 200.5h0M487.6 202.5h0M375.2 208.4h0M404.7 207.3h0M441.7 208h0M456.6 206.6h0M462.2 207h0M478.2 207.1h0M490.6 206.5h0M498.6 208.5h0M506.4 207.9h0M528.9 206.3h0M414.3 213.8h0M452.7 214.6h0M474.8 212.4h0M479.8 212.6h0M502.2 212h0M524 214.8h0M383.9 219.6h0M412.1 218.5h0M432.8 219.6h0M484.7 221.3h0M498.3 219.4h0M527.1 219.3h0M364.9 226.7h0M380.8 227.1h0M402.3 227.4h0M407.7 226.8h0M437.2 226.6h0M444.4 225.6h0M459.7 224.9h0M473.1 227h0M480.3 224.7h0M523.4 224.5h0M374.6 231h0M405.6 233.8h0M420.6 231.3h0M432.5 233.5h0M476.3 232h0M484.8 231.5h0M491.7 230.7h0M499.9 231.9h0M505.6 232.2h0M513.1 231h0M371 239.6h0M429.5 240h0M444 238.5h0M474.5 239.4h0M480.9 238.1h0M507.9 239.3h0M516.1 239.5h0M377.1 245.9h0M404.7 245.5h0M420.9 245.3h0M433 244.7h0M442.5 243.3h0M498.4 245.7h0M507.1 244.5h0M527.5 244.1h0M373.4 251.2h0M393.3 252.3h0M400.9 251.7h0M508.4 252.5h0M368.2 256.9h0M382.4 257.7h0M397.6 256.8h0M413.5 256.9h0M418.9 256h0M425.1 256.9h0M433.8 255.8h0M462.8 256.5h0M468.4 257.8h0M485.2 256.2h0M497.5 258.4h0M514.4 256.7h0M528.5 256h0M380.3 262.5h0M402.5 262.9h0M408.2 263.5h0M416.3 264.1h0M437.2 264.7h0M460.5 262.6h0M471.8 264.7h0M488.2 264.3h0M501.5 262.9h0M510.5 264.7h0M516.3 262.2h0M382.1 268.7h0M390.6 270.6h0M398.9 269.2h0M403.7 270.5h0M449.3 270.2h0M464 270h0M476.9 270.7h0M484.2 269.8h0M512.8 269.7h0M364.5 275.6h0M371.5 276h0M416.1 277h0M450.6 277.1h0M502.5 275.1h0M508.3 277.2h0M516.7 275.6h0M374.6 283.6h0M397.9 281.5h0M404.3 283h0M434.4 282.9h0M442.5 283.3h0M462.1 282h0M484.2 281.3h0M490.2 284h0M497.2 282.6h0M507 281.2h0M511.4 281.4h0M528.2 283.6h0M371.2 288.6h0M385.7 289.8h0M400.1 288.9h0M431.3 289.8h0M437.5 287.7h0M445.2 289.5h0M466.4 290.1h0M508.2 288.9h0M523.7 288.4h0M376.5 293.4h0M396.9 294h0M411.9 293.5h0M425.1 294.4h0M439.6 295.4h0M468.6 293.6h0M514 296.2h0M520.2 293.7h0M453 300.2h0M472.1 301.7h0M488.9 299.9h0M510.3 299.9h0M368.5 308.8h0M396.2 307.4h0M435.1 307.6h0M456.8 306.9h0M464 306h0M468.1 308.8h0M476.9 308.6h0M483.3 307.9h0M491.4 309h0M506.6 306.4h0M365.8 313.1h0M408.4 314.5h0M451.5 312.4h0M458.9 313.4h0M472.9 312.8h0M493.9 312.8h0M503.4 314.8h0" stroke="#b88ce0" stroke-width="5.5" opacity="0.3"/>
<path d="M437 187.9h0M450.7 189.8h0M377.1 193.1h0M398.7 193.9h0M434.4 196h0M471 195h0M511.6 194.6h0M521 195.7h0M399.8 201.5h0M458.8 202.4h0M495 201.3h0M389.1 206.5h0M396.3 205.7h0M435.3 205.9h0M469.5 207.8h0M521 208.5h0M408.4 214.6h0M424.4 212.4h0M429.4 212.3h0M457.4 215h0M495.4 213.2h0M516.6 212.3h0M376.1 218.3h0M391.2 218.9h0M403.8 221.1h0M427 218.9h0M453.7 220.5h0M491.9 219.5h0M512.9 218.4h0M519.1 221.2h0M387 224.6h0M393 226.4h0M415.7 225.9h0M430.5 227.5h0M466.3 225.1h0M501.5 226.1h0M398.1 231h0M411.4 232.1h0M427.6 233.4h0M454.8 232.4h0M366 238.2h0M402.7 239.7h0M408.5 239h0M423 239.5h0M459.5 237.2h0M489 239h0M503.5 239h0M370 245.8h0M412.3 245.1h0M455.1 244.9h0M366.9 250.2h0M385.7 252.4h0M422 251h0M437.8 252.6h0M457.7 250.2h0M473.6 251h0M523.9 250.4h0M377.3 258.8h0M440 256.3h0M454.4 258h0M475.9 257.5h0M450.5 265.1h0M376.9 271h0M434.4 270.1h0M468.2 270.2h0M491.1 268.2h0M526.2 270.4h0M395.1 274.9h0M400.4 275.8h0M437.7 275.2h0M460.3 276.2h0M370.3 283.5h0M382.5 282.5h0M388.9 282.5h0M453.9 282.3h0M470.2 283.5h0M395.2 287.9h0M408.5 287.8h0M424.4 287.7h0M460.2 289.7h0M481.2 289.9h0M488.2 288.2h0M390.6 294.6h0M420.2 293.3h0M462.5 294.4h0M485.4 296.5h0M525.8 293.6h0M380.1 300.1h0M399.8 300.5h0M415.9 302h0M422.8 299.7h0M460.1 301.3h0M382.1 307.9h0M447.6 308.4h0M378.4 313.7h0M393.2 314.4h0M402.1 314.2h0M429.8 314.7h0M522.3 313.4h0" stroke="#b88ce0" stroke-width="6" opacity="0.3"/>
<path d="M365.4 188.7h0M400.8 189.8h0M426.5 194.4h0M484.2 194.7h0M445.6 201.5h0M483.1 206.9h0M490.6 206.5h0M528.9 206.3h0M378.7 213.3h0M444.1 214.3h0M502.2 212h0M480.3 224.7h0M374.6 231h0M440.5 232.1h0M468.2 230.9h0M429.5 240h0M503.1 252.2h0M508.4 252.5h0M413.5 256.9h0M468.4 257.8h0M497.5 258.4h0M437.2 264.7h0M516.3 262.2h0M417.8 268.7h0M364.5 275.6h0M466.2 276.1h0M516.7 275.6h0M442.5 283.3h0M484.2 281.3h0M490.2 284h0M508.2 288.9h0M396.9 294h0M411.9 293.5h0M520.2 293.7h0M444 301.9h0M494.4 302.2h0M516.4 301.8h0M468.1 308.8h0M519.1 308.6h0M365.8 313.1h0M472.9 312.8h0M493.9 312.8h0" stroke="#7a74d4" stroke-width="3"/>
<path d="M372.6 189h0M409.8 187h0M510.6 188.2h0M382.7 195h0M437.1 200.2h0M474.3 200h0M513.5 206.1h0M371 213.1h0M448.6 218.9h0M475.6 219.7h0M371.4 226.4h0M489.1 226.9h0M516 226h0M392.7 238.6h0M446.5 243.4h0M492.4 246.2h0M516.3 252.2h0M366.1 263.3h0M421.5 262.8h0M473 277.5h0M520.2 281.9h0M417.1 288.8h0M503.1 288.2h0M515.9 289.7h0M384.4 293.8h0M479.8 300.6h0M502.4 299.9h0M465.6 313.6h0" stroke="#7a74d4" stroke-width="2.5"/>
<path d="M381 188.8h0M479 187.1h0M442.4 194.4h0M507.3 195.5h0M527.3 195.8h0M422.8 201h0M420.3 205.9h0M367.7 219.1h0M462.3 220.1h0M384.6 233.2h0M416.6 251.5h0M480.4 251.4h0M496.3 262.2h0M423.5 276.2h0M493.9 289.7h0M371.5 314h0" stroke="#5c58c4" stroke-width="2.5"/>
<path d="M386.5 189.6h0M408.9 202.1h0M429.2 201.3h0M375.2 208.4h0M478.2 207.1h0M412.1 218.5h0M527.1 219.3h0M364.9 226.7h0M437.2 226.6h0M459.7 224.9h0M505.6 232.2h0M527.4 231.5h0M379.5 239.5h0M474.5 239.4h0M507.9 239.3h0M373.9 262.5h0M416.3 264.1h0M471.8 264.7h0M464 270h0M512.8 269.7h0M416.1 277h0M450.6 277.1h0M487.2 276.5h0M502.5 275.1h0M404.3 283h0M434.4 282.9h0M462.1 282h0M523.7 288.4h0M439.6 295.4h0M497 295.9h0M491.4 309h0M515.8 313.7h0" stroke="#6c68cc" stroke-width="3"/>
<path d="M393.9 188.2h0M410.6 193.3h0M399.8 201.5h0M396.3 205.7h0M462.2 207h0M429.4 212.3h0M452.7 214.6h0M457.4 215h0M432.8 219.6h0M491.9 219.5h0M512.9 218.4h0M432.5 233.5h0M385.7 252.4h0M377.3 258.8h0M376.9 271h0M468.2 270.2h0M460.3 276.2h0M382.5 282.5h0M453.9 282.3h0M371.2 288.6h0M481.2 289.9h0M390.6 294.6h0M420.2 293.3h0M429.8 314.7h0" stroke="#8078d8" stroke-width="3.5"/>
<path d="M415.8 188.7h0M377.1 193.1h0M521 195.7h0M458.8 202.4h0M495 201.3h0M404.7 207.3h0M424.4 212.4h0M524 214.8h0M519.1 221.2h0M393 226.4h0M466.3 225.1h0M501.5 226.1h0M523.4 224.5h0M398.1 231h0M454.8 232.4h0M408.5 239h0M423 239.5h0M459.5 237.2h0M489 239h0M412.3 245.1h0M457.7 250.2h0M382.1 268.7h0M434.4 270.1h0M370.3 283.5h0M395.2 287.9h0M408.5 287.8h0M445.2 289.5h0M488.2 288.2h0M514 296.2h0M399.8 300.5h0M503.4 314.8h0" stroke="#7a74d4" stroke-width="3.5"/>
<path d="M424 189.6h0M382.5 207.6h0M364.4 211.9h0M369.3 232.5h0M521.4 231.4h0M386 239.2h0M483 245.1h0M429.7 249.4h0M443.9 250.3h0M389.9 258.1h0M448.2 256h0M490.2 256.8h0M504.6 255.7h0M385.3 263.6h0M480 263.7h0M428 271.1h0M386.6 276.5h0M419.2 283.3h0M425.1 283.9h0M447.6 282.1h0M476.1 295.9h0M393.5 302.2h0M389.7 307.4h0M418.8 307.1h0M440.3 306.2h0M386.6 312.2h0M437.3 313.7h0" stroke="#8078d8" stroke-width="2.5"/>
<path d="M429.5 189.2h0M487.6 202.5h0M503.2 199.4h0M441.7 208h0M456.6 206.6h0M498.6 208.5h0M414.3 213.8h0M484.7 221.3h0M498.3 219.4h0M420.6 231.3h0M499.9 231.9h0M373.4 251.2h0M400.9 251.7h0M382.4 257.7h0M433.8 255.8h0M408.2 263.5h0M501.5 262.9h0M403.7 270.5h0M484.2 269.8h0M429 277.2h0M507 281.2h0M511.4 281.4h0M437.5 287.7h0M376.5 293.4h0M455.9 295.8h0M510.3 299.9h0M464 306h0M506.6 306.4h0" stroke="#8078d8" stroke-width="3"/>
<path d="M437 187.9h0M434.4 196h0M471 195h0M511.6 194.6h0M389.1 206.5h0M408.4 214.6h0M516.6 212.3h0M403.8 221.1h0M427 218.9h0M453.7 220.5h0M415.7 225.9h0M411.4 232.1h0M427.6 233.4h0M370 245.8h0M498.4 245.7h0M393.3 252.3h0M422 251h0M437.8 252.6h0M473.6 251h0M462.8 256.5h0M475.9 257.5h0M460.5 262.6h0M526.2 270.4h0M395.1 274.9h0M437.7 275.2h0M388.9 282.5h0M497.2 282.6h0M400.1 288.9h0M460.2 289.7h0M525.8 293.6h0M422.8 299.7h0M382.1 307.9h0M435.1 307.6h0M393.2 314.4h0M402.1 314.2h0M522.3 313.4h0" stroke="#5450c0" stroke-width="3.5"/>
<path d="M450.7 189.8h0M371.4 201h0M469.5 207.8h0M495.4 213.2h0M376.1 218.3h0M391.2 218.9h0M387 224.6h0M407.7 226.8h0M430.5 227.5h0M473.1 227h0M476.3 232h0M513.1 231h0M366 238.2h0M444 238.5h0M503.5 239h0M390.6 270.6h0M470.2 283.5h0M385.7 289.8h0M424.4 287.7h0M462.5 294.4h0M468.6 293.6h0M485.4 296.5h0M447.6 308.4h0M378.4 313.7h0" stroke="#5c58c4" stroke-width="3.5"/>
<path d="M466.8 189.1h0M516.8 188.8h0M389.7 195.4h0M405.3 195.6h0M419.4 193.4h0M506.4 207.9h0M402.1 214h0M479.8 212.6h0M380.8 227.1h0M405.6 233.8h0M484.8 231.5h0M371 239.6h0M516.1 239.5h0M397.3 245.1h0M404.7 245.5h0M507.1 244.5h0M487.2 252h0M368.2 256.9h0M397.6 256.8h0M519.9 257.3h0M380.3 262.5h0M402.5 262.9h0M467.1 262.2h0M488.2 264.3h0M510.5 264.7h0M398.9 269.2h0M439.7 270.8h0M449.3 270.2h0M454.7 270.5h0M476.9 270.7h0M445.2 276.6h0M508.3 277.2h0M397.9 281.5h0M431.3 289.8h0M466.4 290.1h0M488.9 299.9h0M396.2 307.4h0M456.8 306.9h0M483.3 307.9h0M424.4 314.1h0M451.5 312.4h0M458.9 313.4h0" stroke="#5c58c4" stroke-width="3"/>
<path d="M473.2 187.2h0M369.1 194.3h0M454.8 193.4h0M462.8 194.8h0M366.7 200.5h0M452.9 200.5h0M518.1 200.3h0M394.3 214h0M474.8 212.4h0M444.4 225.6h0M491.7 230.7h0M480.9 238.1h0M377.1 245.9h0M420.9 245.3h0M442.5 243.3h0M513.8 245.6h0M527.5 244.1h0M418.9 256h0M425.1 256.9h0M485.2 256.2h0M514.4 256.7h0M528.5 256h0M371.5 276h0M374.6 283.6h0M528.2 283.6h0M425.1 294.4h0M453 300.2h0M472.1 301.7h0M368.5 308.8h0M404.3 306.6h0M476.9 308.6h0M408.4 314.5h0" stroke="#5450c0" stroke-width="3"/>
<path d="M489 189.2h0M502.8 187h0M393.7 201.9h0M509.3 200.8h0M425.8 207.6h0M448.4 205.7h0M386 212.5h0M396.1 219.3h0M469.4 218.3h0M450.7 224.5h0M447.2 231.3h0M417.3 237h0M438.6 237.8h0M383.3 244.2h0M389.4 244.9h0M464 245.5h0M408.2 250.5h0M498 270h0M506.1 269.5h0M525.1 277.7h0M448.6 293.3h0M491.8 294.7h0M371.3 301.3h0M408.8 302.7h0M430.6 302h0M438.5 302.3h0M375.4 306.5h0M410.6 306.9h0M480.5 313h0" stroke="#5450c0" stroke-width="2.5"/>
<path d="M523.9 189.6h0M398.7 193.9h0M447.1 193.1h0M435.3 205.9h0M521 208.5h0M383.9 219.6h0M402.3 227.4h0M402.7 239.7h0M433 244.7h0M455.1 244.9h0M366.9 250.2h0M523.9 250.4h0M440 256.3h0M454.4 258h0M450.5 265.1h0M491.1 268.2h0M400.4 275.8h0M380.1 300.1h0M415.9 302h0M460.1 301.3h0" stroke="#6c68cc" stroke-width="3.5"/>
<path d="M491.1 194.8h0M386.9 202.5h0M416 201.7h0M368.5 208.6h0M410.6 207.8h0M466.8 212.2h0M509.4 213.4h0M441.9 219.5h0M508.8 225.8h0M390.8 232.9h0M467.2 239.2h0M524.8 237.1h0M468.6 244h0M465.3 250h0M494.3 251.8h0M431.4 263h0M368 268.5h0M379 277h0M409.4 275.5h0M452.1 287.7h0M434.3 295.8h0M387.2 302.4h0M499.8 308.2h0M511.5 308.5h0M527.2 308.7h0M508.8 313.4h0" stroke="#6c68cc" stroke-width="2.5"/>
<path d="M389.5 201h0M447.8 202.3h0M413.8 270.9h0M395.9 218h0M392.7 255.3h0M403.7 219.7h0M369.8 223.1h0M413.7 273.6h0M423.9 257.7h0M452.8 231.4h0M519 294.3h0M485.8 264.3h0M435.1 255.3h0M411.3 305.6h0M480.3 212.3h0M449 274.4h0M450.5 234.8h0M476.6 285.7h0M499.6 306.6h0M427 222.6h0M448 286.3h0M507.6 295.2h0M491.4 193.7h0M369 253.4h0M517.5 299.8h0M518.1 222.7h0M390.1 267.1h0M498.8 243.9h0M414.6 229.7h0M369.1 248.2h0M478.3 212.9h0M415.6 232.7h0M369.2 275.7h0M448.1 199.1h0M514.3 291.4h0M373.4 225.8h0M377.3 246.6h0M506.8 237.4h0M433.6 251.3h0M461.3 304.7h0M515.2 241.9h0M452.4 306.5h0M471.6 214h0M390.2 282.4h0M464.6 209.7h0M481.5 249.5h0M497.3 254.9h0M429.4 260.2h0M513.9 244.8h0M490.3 289.1h0M433.3 197.6h0M484.3 253.3h0M391.9 282h0M403.2 222.2h0M478.3 247h0M468 213.1h0M458.5 264.7h0M469.9 207.5h0M517 285.1h0M409.8 214.2h0M381.4 192.4h0M437.1 268.8h0M519.9 238.3h0M483.5 294.8h0M378 196.3h0M377.6 249.7h0M447.9 227h0M452.2 280h0M470.4 226.9h0M513.1 292.4h0M490.3 248.8h0M429.5 284.9h0M396.8 249.8h0M521.3 219.5h0M404.3 266.6h0M473.7 284.2h0M440.2 298.4h0M404.4 259.1h0M469.7 262.1h0M422.5 229.4h0M451.3 264.6h0M393.9 222.1h0M510 239.1h0M377.7 297.3h0M426 215.1h0M429.7 208.5h0M405.9 296.1h0M507.6 285.2h0M373.3 251.7h0M475.5 236.4h0M425.8 281.8h0M434.4 212.8h0M492.9 230.8h0M479.9 299.8h0M481.4 235.8h0M399.7 274.5h0M487.3 296.7h0M445.5 193h0M503 222.3h0M414 288.3h0M401.5 243h0M511.3 302.6h0M451 193.8h0M428 215.9h0M474.5 203h0M424.7 201.7h0M435.2 246.4h0M488.5 281.1h0M471.9 283h0M405.8 289.8h0M469.7 197.1h0M422.9 256.8h0M455 235.7h0M396.1 216h0M489.2 238.4h0M454.4 223.2h0M420.1 280.5h0M504.5 230.2h0M437.6 305.5h0M488.8 293.3h0M487.7 270.9h0M493.1 285.6h0M517.3 237.5h0M511.4 195.9h0M415.3 204.3h0M384.9 262.3h0M461.9 233.5h0M431.7 282.1h0M383.5 262.4h0M489.1 218.8h0M442.6 194.5h0M468.7 254.1h0M374.5 194.3h0M374.2 298.1h0M469 228.3h0M400.4 275.5h0M496.9 253.6h0M473.6 302h0M399.5 299.1h0M450.2 200.3h0M405.7 260.4h0M415.7 233.2h0M509 253.7h0M398 194.7h0" stroke="#fbeefb" stroke-width="2"/>
<path d="M422.6 251.5h0M481.6 299.8h0M434.8 263.8h0M511.6 271h0M406.5 285.4h0M483.9 210h0M483 195.4h0M426 218.8h0M470.3 226.9h0M468.6 300h0M519.8 242.7h0M402.9 214.4h0M417.3 250h0M374.6 285.6h0M482 257.4h0M406.2 296.5h0M435.6 212.4h0M505.1 274.8h0M413.9 196.5h0M396.6 233.8h0M510.9 275.5h0M377.1 201.6h0M516 247.5h0M473.8 263.8h0M445.5 280h0M424 211h0M464.4 232.6h0M491.1 274.8h0M476.8 192.3h0M445.9 208.5h0M501.1 220.4h0M411.7 248.1h0M443.9 255.9h0M484.3 280.6h0M433.8 251.3h0M428.4 213.3h0M454.9 232.1h0M493.3 209.9h0M378.5 213.9h0M444.2 223.7h0M430.5 247.4h0M442.3 222.7h0M429.3 248.9h0M411.1 248.1h0M507.8 275.3h0M471.6 232.2h0M394.7 255.1h0M475.8 304.2h0M468.1 218.9h0M383.7 255.9h0M452.8 256.6h0M475.9 227.6h0M439.6 226.3h0M479 200.4h0M411 224.5h0M396.1 204.1h0M429.3 254.6h0M439.3 238.9h0M386 197.1h0M392.5 269h0M392.2 208.5h0M376.4 299.5h0M467.3 239.5h0M398.4 275.1h0M462.8 290.8h0M506.9 306h0M397.8 211.1h0M518.7 216.1h0M446.1 286.5h0M393 227.5h0M478.4 276.5h0M414.2 253.5h0M399 280.8h0M485 237.5h0M455 225.8h0M460.8 290.3h0M519.1 281h0M482.4 198.2h0M480 192.9h0M419.2 299.2h0M519.8 298.4h0M480.2 269.5h0M395.7 243.9h0M481 248.3h0M440.7 256.3h0M433.5 281.5h0M453.7 278.9h0M450.3 279.4h0M445 199h0M394.3 204h0M372.5 264.7h0M514.4 202.7h0M453.7 278.8h0M521.3 260.3h0M477.6 240.3h0M456.9 269.5h0M439 238.9h0M421.7 255h0M436.4 199.2h0M410.6 244.6h0M484.6 223.7h0M485.8 244.5h0M519.8 211.2h0M415.6 214.1h0M514.5 265.2h0M404.6 199.8h0M430.2 268.6h0M415.1 214h0M383.6 201.7h0M480.9 265.6h0M401.6 273h0M425.2 211.6h0M483.7 269.5h0M460.9 226.4h0M381.4 273.4h0M416 193h0M403.6 293.6h0M369.4 193.2h0M490.1 285.5h0M387.2 209.1h0M420.1 250.5h0M465.4 211.5h0M425 285.3h0M452.4 296.1h0M486.4 278.6h0M396.5 301h0M389.6 266.4h0M505.4 247.2h0M514.6 207.1h0M384.8 278.2h0M501.7 228.7h0M370.7 206.7h0M486 216.2h0M415.3 214.9h0M485.8 244.8h0M377.1 193.3h0M440.7 283.7h0M443.1 221.4h0M440 292.9h0M410.9 193.6h0M480.9 299.2h0M494.3 281.9h0M450.9 229.5h0M406.2 257.8h0M434.1 287h0M382.3 251.2h0M429.3 248.7h0M434.8 217.4h0M394.8 265.4h0M450.5 283.4h0M436.4 277.9h0M401.9 238.8h0" stroke="#fbeefb" stroke-width="1.5"/>
<path d="M455.4 210.8h0M376.3 217.2h0M429.5 221h0M472.9 207.1h0M439.7 211.6h0M432.8 228.5h0M433.7 295.9h0M389 197.3h0M385.5 219.5h0M503.3 194.5h0M411.1 306.5h0M519.4 195.4h0M518.4 209.9h0M425.1 272.9h0M411.7 224h0M376.4 214.2h0M398.5 193.5h0M399.1 198.1h0M508.6 268.6h0M378.8 194.1h0M449.5 283.5h0M453.9 206.2h0M490.8 302.3h0M412 248.7h0M394.8 296.1h0M445.9 289.5h0M396.7 246.9h0M448.4 277.8h0M370.4 197.9h0M498.7 208.5h0M464.3 199.2h0M371 225.1h0M449.6 229.5h0M390.6 255.9h0M508.1 267.7h0M478.4 225.6h0M493 268h0M420 196.1h0M430.1 244.3h0M383.4 255.2h0M442.8 269.1h0M455.9 266.7h0M423.6 302.8h0M442.6 198.4h0M412.9 238.2h0M432 218.3h0M443.1 300.9h0M440.3 240.5h0M479.8 202.6h0M425 199.3h0M428.4 209.8h0M387.6 278.9h0M384.7 201.8h0M495.4 274.9h0M503.6 238.8h0M446.6 281.7h0M446.1 299.8h0M473.7 262.9h0M520.8 292.2h0M424.4 217.4h0M427 206.6h0M383.6 211h0M396.1 269.8h0M450.7 254.2h0M385.4 263.3h0M498.2 300h0M383.1 282.8h0M380.4 293h0M420.9 259.7h0M478.1 283.7h0M445.4 275.1h0M503.7 232.9h0M384.6 209.2h0M517.7 205.4h0M438.1 303.4h0M463 236.7h0M451 291.1h0M507.4 235.9h0M461.8 238.5h0M416.4 268.6h0M494.5 227h0M417.6 279.5h0M435.6 205.1h0M452.7 279.3h0M430.1 296.2h0M480.2 227.1h0M483.4 195.7h0M405.9 288.4h0M516.9 229.5h0M466.3 241.3h0M442.6 219.8h0M442.1 222.7h0M406.2 300.4h0M373.1 299.2h0M393.8 249.1h0M433.1 216.3h0M394.3 278.7h0M389.2 265.8h0M503.6 229.9h0M382.6 263.6h0M521.8 282.3h0M369.5 288.8h0" stroke="#fbeefb" stroke-width="2.5"/>
<path d="M386.6 203h0M493.2 206.9h0M386.6 206.9h0M393.7 222.8h0M409.2 301.4h0M487.2 294.8h0M447.6 265.5h0M376.9 292.6h0M494.6 286.3h0M472.5 306.2h0M500.2 295.8h0M399.4 195.2h0M521.7 200.2h0M413.8 285.5h0M454.5 249.8h0M510.4 244.9h0M470.9 199.1h0M428.4 301.6h0M481.8 297h0M521.4 259.5h0M452.9 258.6h0M404.9 300.8h0" stroke="#fbeefb" stroke-width="1"/>
<path d="M372.9 216.8h0M400 289.5h0" stroke="#fdf4fd" stroke-width="5"/>
<path d="M376.7 222h0M478 265h0" stroke="#fdf4fd" stroke-width="6"/>
<path d="M509.2 247h0" stroke="#fdf4fd" stroke-width="8"/>
<path d="M505.5 263h0" stroke="#fdf4fd" stroke-width="9"/>
<path d="M445 206h0M388 250h0" stroke="#fdf4fd" stroke-width="3.5"/>
<path d="M430 300h0M462 300h0" stroke="#fdf4fd" stroke-width="3"/>
<path d="M372 282h0" stroke="#fdf4fd" stroke-width="4"/>
</g></g>
<rect x="168.4" y="299.3" width="22.3" height="3" fill="#000"/>
<text x="179.6" y="297.6" font-size="7.2" font-weight="bold" text-anchor="middle" fill="#111">20μm</text>
<rect x="331" y="299.3" width="22.4" height="3" fill="#000"/>
<text x="342.2" y="297.6" font-size="7.2" font-weight="bold" text-anchor="middle" fill="#111">20μm</text>
<rect x="496.4" y="298.7" width="22.2" height="3" fill="#000"/>
<text x="507.5" y="297" font-size="7.2" font-weight="bold" text-anchor="middle" fill="#111">20μm</text>
<line x1="61.5" y1="354.8" x2="61.5" y2="438.9" stroke="#5a5a5a" stroke-width="1.3"/>
<line x1="60.9" y1="438.3" x2="181" y2="438.3" stroke="#5a5a5a" stroke-width="1.3"/>
<line x1="58.9" y1="355.1" x2="61.5" y2="355.1" stroke="#5a5a5a" stroke-width="1"/>
<text x="59.1" y="358.1" font-size="8.2" font-weight="normal" text-anchor="end" fill="#444">0.6</text>
<line x1="58.9" y1="382.8" x2="61.5" y2="382.8" stroke="#5a5a5a" stroke-width="1"/>
<text x="59.1" y="385.8" font-size="8.2" font-weight="normal" text-anchor="end" fill="#444">0.4</text>
<line x1="58.9" y1="410.6" x2="61.5" y2="410.6" stroke="#5a5a5a" stroke-width="1"/>
<text x="59.1" y="413.6" font-size="8.2" font-weight="normal" text-anchor="end" fill="#444">0.2</text>
<line x1="58.9" y1="438.3" x2="61.5" y2="438.3" stroke="#5a5a5a" stroke-width="1"/>
<text x="59.1" y="441.3" font-size="8.2" font-weight="normal" text-anchor="end" fill="#444">0.0</text>
<line x1="81.5" y1="438.3" x2="81.5" y2="440.5" stroke="#5a5a5a" stroke-width="0.9"/>
<rect x="76.9" y="416.3" width="9.3" height="22" fill="#c6c6c6" stroke="#6a6a6a" stroke-width="1.25"/>
<line x1="81.5" y1="415.7" x2="81.5" y2="414.2" stroke="#333" stroke-width="1"/>
<line x1="78.2" y1="414.2" x2="84.9" y2="414.2" stroke="#333" stroke-width="1"/>
<circle cx="82.3" cy="412.5" r="1.05" fill="#111"/>
<circle cx="80.9" cy="415.2" r="1.05" fill="#111"/>
<circle cx="83.1" cy="417.8" r="1.05" fill="#111"/>
<circle cx="80.3" cy="420.5" r="1.05" fill="#111"/>
<circle cx="81.3" cy="423.2" r="1.05" fill="#111"/>
<line x1="121.4" y1="438.3" x2="121.4" y2="440.5" stroke="#5a5a5a" stroke-width="0.9"/>
<rect x="116.8" y="412.6" width="9.2" height="25.7" fill="#c6c6c6" stroke="#6a6a6a" stroke-width="1.25"/>
<line x1="121.4" y1="412" x2="121.4" y2="410.3" stroke="#333" stroke-width="1"/>
<line x1="118.1" y1="410.3" x2="124.7" y2="410.3" stroke="#333" stroke-width="1"/>
<circle cx="122.2" cy="407.7" r="1.05" fill="#111"/>
<circle cx="120.3" cy="410.7" r="1.05" fill="#111"/>
<circle cx="121.4" cy="413.4" r="1.05" fill="#111"/>
<circle cx="119.9" cy="416.1" r="1.05" fill="#111"/>
<circle cx="121.9" cy="419.1" r="1.05" fill="#111"/>
<line x1="160.8" y1="438.3" x2="160.8" y2="440.5" stroke="#5a5a5a" stroke-width="0.9"/>
<rect x="156" y="378.9" width="9.5" height="59.4" fill="#c6c6c6" stroke="#6a6a6a" stroke-width="1.25"/>
<line x1="160.8" y1="378.3" x2="160.8" y2="375.3" stroke="#333" stroke-width="1"/>
<line x1="157.3" y1="375.3" x2="164.2" y2="375.3" stroke="#333" stroke-width="1"/>
<circle cx="161.6" cy="361.7" r="1.05" fill="#111"/>
<circle cx="161" cy="370.2" r="1.05" fill="#111"/>
<circle cx="162" cy="376" r="1.05" fill="#111"/>
<circle cx="160.2" cy="383.1" r="1.05" fill="#111"/>
<circle cx="161.4" cy="392.4" r="1.05" fill="#111"/>
<circle cx="161.1" cy="397" r="1.05" fill="#111"/>
<polyline points="81,351.9 81.6,350.6 158.9,350.6 159.5,351.9" stroke="#8a8a8a" stroke-width="1" fill="none"/>
<text x="120.2" y="352.7" font-size="10" font-weight="normal" text-anchor="middle" fill="#444">*</text>
<polyline points="120.9,359.3 121.5,358 158.9,358 159.5,359.3" stroke="#8a8a8a" stroke-width="1" fill="none"/>
<text x="140.2" y="360.1" font-size="10" font-weight="normal" text-anchor="middle" fill="#444">*</text>
<text transform="translate(25.4,397.5) rotate(-90)" font-size="8.6" font-weight="bold" text-anchor="middle" dominant-baseline="central" fill="#111">Liver TBARS</text>
<text transform="translate(37.9,397.5) rotate(-90)" font-size="8.6" font-weight="bold" text-anchor="middle" dominant-baseline="central" fill="#111">(nmol/mg protein)</text>
<text x="62" y="449.7" font-size="6.8" font-weight="bold" text-anchor="end" fill="#111">C<tspan font-size="5.2">12</tspan></text>
<text x="81.5" y="450.5" font-size="8.8" font-weight="bold" text-anchor="middle" fill="#222">–</text>
<text x="121.4" y="450.5" font-size="8.8" font-weight="bold" text-anchor="middle" fill="#222">+</text>
<text x="160.8" y="450.5" font-size="8.8" font-weight="bold" text-anchor="middle" fill="#222">–</text>
<text x="62" y="459.4" font-size="6.8" font-weight="bold" text-anchor="end" fill="#111">DCA<tspan font-size="5.2">12</tspan></text>
<text x="81.5" y="460.2" font-size="8.8" font-weight="bold" text-anchor="middle" fill="#222">–</text>
<text x="121.4" y="460.2" font-size="8.8" font-weight="bold" text-anchor="middle" fill="#222">–</text>
<text x="160.8" y="460.2" font-size="8.8" font-weight="bold" text-anchor="middle" fill="#222">+</text>
<line x1="238.1" y1="354.3" x2="238.1" y2="438.9" stroke="#5a5a5a" stroke-width="1.3"/>
<line x1="237.5" y1="438.3" x2="357.6" y2="438.3" stroke="#5a5a5a" stroke-width="1.3"/>
<line x1="235.5" y1="354.6" x2="238.1" y2="354.6" stroke="#5a5a5a" stroke-width="1"/>
<text x="235.7" y="357.6" font-size="8.2" font-weight="normal" text-anchor="end" fill="#444">1.5</text>
<line x1="235.5" y1="382.5" x2="238.1" y2="382.5" stroke="#5a5a5a" stroke-width="1"/>
<text x="235.7" y="385.5" font-size="8.2" font-weight="normal" text-anchor="end" fill="#444">1.0</text>
<line x1="235.5" y1="410.4" x2="238.1" y2="410.4" stroke="#5a5a5a" stroke-width="1"/>
<text x="235.7" y="413.4" font-size="8.2" font-weight="normal" text-anchor="end" fill="#444">0.5</text>
<line x1="235.5" y1="438.3" x2="238.1" y2="438.3" stroke="#5a5a5a" stroke-width="1"/>
<text x="235.7" y="441.3" font-size="8.2" font-weight="normal" text-anchor="end" fill="#444">0.0</text>
<line x1="258" y1="438.3" x2="258" y2="440.5" stroke="#5a5a5a" stroke-width="0.9"/>
<rect x="253" y="403.8" width="10" height="34.5" fill="#c6c6c6" stroke="#6a6a6a" stroke-width="1.25"/>
<line x1="258" y1="403.2" x2="258" y2="400.9" stroke="#333" stroke-width="1"/>
<line x1="254.4" y1="400.9" x2="261.6" y2="400.9" stroke="#333" stroke-width="1"/>
<circle cx="258.3" cy="394.1" r="1.05" fill="#111"/>
<circle cx="257.9" cy="400.9" r="1.05" fill="#111"/>
<circle cx="259.1" cy="402.7" r="1.05" fill="#111"/>
<circle cx="259.4" cy="407.1" r="1.05" fill="#111"/>
<circle cx="257.9" cy="416.1" r="1.05" fill="#111"/>
<line x1="297.6" y1="438.3" x2="297.6" y2="440.5" stroke="#5a5a5a" stroke-width="0.9"/>
<rect x="293.1" y="409.9" width="9" height="28.4" fill="#c6c6c6" stroke="#6a6a6a" stroke-width="1.25"/>
<line x1="297.6" y1="409.3" x2="297.6" y2="407.4" stroke="#333" stroke-width="1"/>
<line x1="294.3" y1="407.4" x2="300.9" y2="407.4" stroke="#333" stroke-width="1"/>
<circle cx="298.1" cy="400.4" r="1.05" fill="#111"/>
<circle cx="296.2" cy="406.3" r="1.05" fill="#111"/>
<circle cx="298.2" cy="408.9" r="1.05" fill="#111"/>
<circle cx="298.1" cy="410.7" r="1.05" fill="#111"/>
<circle cx="299.2" cy="413.4" r="1.05" fill="#111"/>
<line x1="337.6" y1="438.3" x2="337.6" y2="440.5" stroke="#5a5a5a" stroke-width="0.9"/>
<rect x="332.8" y="374.8" width="9.6" height="63.5" fill="#c6c6c6" stroke="#6a6a6a" stroke-width="1.25"/>
<line x1="337.6" y1="374.2" x2="337.6" y2="370" stroke="#333" stroke-width="1"/>
<line x1="334.1" y1="370" x2="341.1" y2="370" stroke="#333" stroke-width="1"/>
<circle cx="338.6" cy="360.4" r="1.05" fill="#111"/>
<circle cx="336.9" cy="365.3" r="1.05" fill="#111"/>
<circle cx="337.2" cy="369.7" r="1.05" fill="#111"/>
<circle cx="338.1" cy="374.2" r="1.05" fill="#111"/>
<circle cx="336.1" cy="384.9" r="1.05" fill="#111"/>
<circle cx="337.5" cy="387" r="1.05" fill="#111"/>
<polyline points="258.3,352.8 258.9,351.5 336.6,351.5 337.2,352.8" stroke="#8a8a8a" stroke-width="1" fill="none"/>
<text x="297.8" y="353.6" font-size="10" font-weight="normal" text-anchor="middle" fill="#444">*</text>
<polyline points="297.5,359.4 298.1,358.1 336.6,358.1 337.2,359.4" stroke="#8a8a8a" stroke-width="1" fill="none"/>
<text x="317.4" y="360.2" font-size="10" font-weight="normal" text-anchor="middle" fill="#444">*</text>
<text transform="translate(205.9,397.3) rotate(-90)" font-size="8.6" font-weight="bold" text-anchor="middle" dominant-baseline="central" fill="#111">Body weight gain</text>
<text transform="translate(218.3,397.3) rotate(-90)" font-size="8.6" font-weight="bold" text-anchor="middle" dominant-baseline="central" fill="#111">(g/7d)</text>
<text x="238.6" y="449.7" font-size="6.8" font-weight="bold" text-anchor="end" fill="#111">C<tspan font-size="5.2">12</tspan></text>
<text x="258" y="450.5" font-size="8.8" font-weight="bold" text-anchor="middle" fill="#222">–</text>
<text x="297.6" y="450.5" font-size="8.8" font-weight="bold" text-anchor="middle" fill="#222">+</text>
<text x="337.6" y="450.5" font-size="8.8" font-weight="bold" text-anchor="middle" fill="#222">–</text>
<text x="238.6" y="459.4" font-size="6.8" font-weight="bold" text-anchor="end" fill="#111">DCA<tspan font-size="5.2">12</tspan></text>
<text x="258" y="460.2" font-size="8.8" font-weight="bold" text-anchor="middle" fill="#222">–</text>
<text x="297.6" y="460.2" font-size="8.8" font-weight="bold" text-anchor="middle" fill="#222">–</text>
<text x="337.6" y="460.2" font-size="8.8" font-weight="bold" text-anchor="middle" fill="#222">+</text>
<text x="571.1" y="19.3" font-size="19.4" font-weight="bold" text-anchor="start" fill="#000">A</text>
<text x="751.6" y="19.3" font-size="19.4" font-weight="bold" text-anchor="start" fill="#000">B</text>
<text x="934.3" y="19.3" font-size="19.4" font-weight="bold" text-anchor="start" fill="#000">C</text>
<text x="569.8" y="174" font-size="19.4" font-weight="bold" text-anchor="start" fill="#000">D</text>
<text x="751.1" y="174" font-size="19.4" font-weight="bold" text-anchor="start" fill="#000">E</text>
<text x="936.7" y="174" font-size="19.4" font-weight="bold" text-anchor="start" fill="#000">F</text>
<text x="571.1" y="326.7" font-size="19.4" font-weight="bold" text-anchor="start" fill="#000">G</text>
<text x="750.5" y="326.7" font-size="19.4" font-weight="bold" text-anchor="start" fill="#000">H</text>
<text x="937.2" y="326.7" font-size="19.4" font-weight="bold" text-anchor="start" fill="#000">I</text>
<line x1="617.4" y1="41.9" x2="617.4" y2="128.1" stroke="#5a5a5a" stroke-width="1.3"/>
<line x1="616.8" y1="127.5" x2="741.5" y2="127.5" stroke="#5a5a5a" stroke-width="1.3"/>
<line x1="614.8" y1="42.2" x2="617.4" y2="42.2" stroke="#5a5a5a" stroke-width="1"/>
<text x="615" y="45.2" font-size="8.2" font-weight="normal" text-anchor="end" fill="#444">4</text>
<line x1="614.8" y1="63.5" x2="617.4" y2="63.5" stroke="#5a5a5a" stroke-width="1"/>
<text x="615" y="66.5" font-size="8.2" font-weight="normal" text-anchor="end" fill="#444">3</text>
<line x1="614.8" y1="84.8" x2="617.4" y2="84.8" stroke="#5a5a5a" stroke-width="1"/>
<text x="615" y="87.8" font-size="8.2" font-weight="normal" text-anchor="end" fill="#444">2</text>
<line x1="614.8" y1="106.2" x2="617.4" y2="106.2" stroke="#5a5a5a" stroke-width="1"/>
<text x="615" y="109.1" font-size="8.2" font-weight="normal" text-anchor="end" fill="#444">1</text>
<line x1="614.8" y1="127.5" x2="617.4" y2="127.5" stroke="#5a5a5a" stroke-width="1"/>
<text x="615" y="130.5" font-size="8.2" font-weight="normal" text-anchor="end" fill="#444">0</text>
<line x1="638.6" y1="127.5" x2="638.6" y2="129.7" stroke="#5a5a5a" stroke-width="0.9"/>
<rect x="633.7" y="107.9" width="9.8" height="19.6" fill="#c6c6c6" stroke="#6a6a6a" stroke-width="1.25"/>
<line x1="638.6" y1="107.3" x2="638.6" y2="106" stroke="#333" stroke-width="1"/>
<line x1="635.1" y1="106" x2="642.1" y2="106" stroke="#333" stroke-width="1"/>
<circle cx="637.5" cy="106.4" r="1.05" fill="#111"/>
<circle cx="637.4" cy="107.5" r="1.05" fill="#111"/>
<circle cx="637.2" cy="108" r="1.05" fill="#111"/>
<circle cx="639.5" cy="109" r="1.05" fill="#111"/>
<line x1="679" y1="127.5" x2="679" y2="129.7" stroke="#5a5a5a" stroke-width="0.9"/>
<rect x="674.3" y="103.1" width="9.5" height="24.4" fill="#c6c6c6" stroke="#6a6a6a" stroke-width="1.25"/>
<line x1="679" y1="102.5" x2="679" y2="100.8" stroke="#333" stroke-width="1"/>
<line x1="675.6" y1="100.8" x2="682.5" y2="100.8" stroke="#333" stroke-width="1"/>
<circle cx="677.9" cy="99" r="1.05" fill="#111"/>
<circle cx="678.2" cy="101" r="1.05" fill="#111"/>
<circle cx="678.7" cy="103" r="1.05" fill="#111"/>
<circle cx="680.2" cy="105" r="1.05" fill="#111"/>
<circle cx="677.7" cy="107" r="1.05" fill="#111"/>
<line x1="720.4" y1="127.5" x2="720.4" y2="129.7" stroke="#5a5a5a" stroke-width="0.9"/>
<rect x="715.6" y="65.1" width="9.6" height="62.4" fill="#c6c6c6" stroke="#6a6a6a" stroke-width="1.25"/>
<line x1="720.4" y1="64.5" x2="720.4" y2="60.3" stroke="#333" stroke-width="1"/>
<line x1="716.9" y1="60.3" x2="723.9" y2="60.3" stroke="#333" stroke-width="1"/>
<circle cx="720.2" cy="48.1" r="1.05" fill="#111"/>
<circle cx="720.6" cy="56.1" r="1.05" fill="#111"/>
<circle cx="721.6" cy="60.2" r="1.05" fill="#111"/>
<circle cx="721.4" cy="62" r="1.05" fill="#111"/>
<circle cx="721.6" cy="74" r="1.05" fill="#111"/>
<circle cx="719.7" cy="80.2" r="1.05" fill="#111"/>
<polyline points="637.9,38.7 638.5,37.4 718.6,37.4 719.2,38.7" stroke="#8a8a8a" stroke-width="1" fill="none"/>
<text x="678.5" y="39.5" font-size="10" font-weight="normal" text-anchor="middle" fill="#444">*</text>
<polyline points="678.9,46.8 679.5,45.5 718.6,45.5 719.2,46.8" stroke="#8a8a8a" stroke-width="1" fill="none"/>
<text x="699" y="47.6" font-size="10" font-weight="normal" text-anchor="middle" fill="#444">*</text>
<text transform="translate(598.2,83.2) rotate(-90)" font-size="8.2" font-weight="bold" text-anchor="middle" dominant-baseline="central" fill="#111">mRNA level of ACOT12</text>
<text x="617.9" y="139.3" font-size="6.8" font-weight="bold" text-anchor="end" fill="#111">C<tspan font-size="5.2">12</tspan></text>
<text x="638.6" y="140.1" font-size="8.8" font-weight="bold" text-anchor="middle" fill="#222">–</text>
<text x="679" y="140.1" font-size="8.8" font-weight="bold" text-anchor="middle" fill="#222">+</text>
<text x="720.4" y="140.1" font-size="8.8" font-weight="bold" text-anchor="middle" fill="#222">–</text>
<text x="617.9" y="148.9" font-size="6.8" font-weight="bold" text-anchor="end" fill="#111">DCA<tspan font-size="5.2">12</tspan></text>
<text x="638.6" y="149.7" font-size="8.8" font-weight="bold" text-anchor="middle" fill="#222">–</text>
<text x="679" y="149.7" font-size="8.8" font-weight="bold" text-anchor="middle" fill="#222">–</text>
<text x="720.4" y="149.7" font-size="8.8" font-weight="bold" text-anchor="middle" fill="#222">+</text>
<line x1="797.9" y1="41.9" x2="797.9" y2="128.1" stroke="#5a5a5a" stroke-width="1.3"/>
<line x1="797.3" y1="127.5" x2="921.5" y2="127.5" stroke="#5a5a5a" stroke-width="1.3"/>
<line x1="795.3" y1="42.2" x2="797.9" y2="42.2" stroke="#5a5a5a" stroke-width="1"/>
<text x="795.5" y="45.2" font-size="8.2" font-weight="normal" text-anchor="end" fill="#444">60</text>
<line x1="795.3" y1="70.6" x2="797.9" y2="70.6" stroke="#5a5a5a" stroke-width="1"/>
<text x="795.5" y="73.6" font-size="8.2" font-weight="normal" text-anchor="end" fill="#444">40</text>
<line x1="795.3" y1="99.1" x2="797.9" y2="99.1" stroke="#5a5a5a" stroke-width="1"/>
<text x="795.5" y="102" font-size="8.2" font-weight="normal" text-anchor="end" fill="#444">20</text>
<line x1="795.3" y1="127.5" x2="797.9" y2="127.5" stroke="#5a5a5a" stroke-width="1"/>
<text x="795.5" y="130.5" font-size="8.2" font-weight="normal" text-anchor="end" fill="#444">0</text>
<line x1="819.1" y1="127.5" x2="819.1" y2="129.7" stroke="#5a5a5a" stroke-width="0.9"/>
<rect x="814.6" y="101" width="9.1" height="26.5" fill="#c6c6c6" stroke="#6a6a6a" stroke-width="1.25"/>
<line x1="819.1" y1="100.4" x2="819.1" y2="98.6" stroke="#333" stroke-width="1"/>
<line x1="815.9" y1="98.6" x2="822.4" y2="98.6" stroke="#333" stroke-width="1"/>
<circle cx="818.9" cy="96.3" r="1.05" fill="#111"/>
<circle cx="818.7" cy="99.8" r="1.05" fill="#111"/>
<circle cx="820.4" cy="103" r="1.05" fill="#111"/>
<circle cx="820.6" cy="108.7" r="1.05" fill="#111"/>
<line x1="859.8" y1="127.5" x2="859.8" y2="129.7" stroke="#5a5a5a" stroke-width="0.9"/>
<rect x="855" y="99.5" width="9.7" height="28" fill="#c6c6c6" stroke="#6a6a6a" stroke-width="1.25"/>
<line x1="859.8" y1="98.9" x2="859.8" y2="97" stroke="#333" stroke-width="1"/>
<line x1="856.4" y1="97" x2="863.3" y2="97" stroke="#333" stroke-width="1"/>
<circle cx="858.7" cy="90.9" r="1.05" fill="#111"/>
<circle cx="858.8" cy="98" r="1.05" fill="#111"/>
<circle cx="859" cy="103.4" r="1.05" fill="#111"/>
<circle cx="859" cy="107" r="1.05" fill="#111"/>
<line x1="901" y1="127.5" x2="901" y2="129.7" stroke="#5a5a5a" stroke-width="0.9"/>
<rect x="896" y="76" width="10.1" height="51.5" fill="#c6c6c6" stroke="#6a6a6a" stroke-width="1.25"/>
<line x1="901" y1="75.4" x2="901" y2="72.1" stroke="#333" stroke-width="1"/>
<line x1="897.4" y1="72.1" x2="904.7" y2="72.1" stroke="#333" stroke-width="1"/>
<circle cx="901" cy="58.5" r="1.05" fill="#111"/>
<circle cx="901.3" cy="62.4" r="1.05" fill="#111"/>
<circle cx="900.3" cy="67.7" r="1.05" fill="#111"/>
<circle cx="899.5" cy="74.9" r="1.05" fill="#111"/>
<circle cx="900.8" cy="80.2" r="1.05" fill="#111"/>
<circle cx="900.6" cy="87.3" r="1.05" fill="#111"/>
<circle cx="901.3" cy="97.1" r="1.05" fill="#111"/>
<polyline points="818.8,44.4 819.4,43.1 899.8,43.1 900.4,44.4" stroke="#8a8a8a" stroke-width="1" fill="none"/>
<text x="859.6" y="45.2" font-size="10" font-weight="normal" text-anchor="middle" fill="#444">*</text>
<polyline points="860.3,53 860.9,51.7 899.8,51.7 900.4,53" stroke="#8a8a8a" stroke-width="1" fill="none"/>
<text x="880.3" y="53.8" font-size="10" font-weight="normal" text-anchor="middle" fill="#444">*</text>
<text transform="translate(764.6,86.3) rotate(-90)" font-size="8.8" font-weight="bold" text-anchor="middle" dominant-baseline="central" fill="#111">Liver ACOT12 activity</text>
<text transform="translate(775.8,86.3) rotate(-90)" font-size="8.8" font-weight="bold" text-anchor="middle" dominant-baseline="central" fill="#111">(nmol/min/mg protein)</text>
<text x="798.4" y="139.3" font-size="6.8" font-weight="bold" text-anchor="end" fill="#111">C<tspan font-size="5.2">12</tspan></text>
<text x="819.1" y="140.1" font-size="8.8" font-weight="bold" text-anchor="middle" fill="#222">–</text>
<text x="859.8" y="140.1" font-size="8.8" font-weight="bold" text-anchor="middle" fill="#222">+</text>
<text x="901" y="140.1" font-size="8.8" font-weight="bold" text-anchor="middle" fill="#222">–</text>
<text x="798.4" y="148.9" font-size="6.8" font-weight="bold" text-anchor="end" fill="#111">DCA<tspan font-size="5.2">12</tspan></text>
<text x="819.1" y="149.7" font-size="8.8" font-weight="bold" text-anchor="middle" fill="#222">–</text>
<text x="859.8" y="149.7" font-size="8.8" font-weight="bold" text-anchor="middle" fill="#222">–</text>
<text x="901" y="149.7" font-size="8.8" font-weight="bold" text-anchor="middle" fill="#222">+</text>
<line x1="980.8" y1="41.9" x2="980.8" y2="128.1" stroke="#5a5a5a" stroke-width="1.3"/>
<line x1="980.2" y1="127.5" x2="1104.7" y2="127.5" stroke="#5a5a5a" stroke-width="1.3"/>
<line x1="978.2" y1="42.2" x2="980.8" y2="42.2" stroke="#5a5a5a" stroke-width="1"/>
<text x="978.4" y="45.2" font-size="8.2" font-weight="normal" text-anchor="end" fill="#444">1200</text>
<line x1="978.2" y1="70.6" x2="980.8" y2="70.6" stroke="#5a5a5a" stroke-width="1"/>
<text x="978.4" y="73.6" font-size="8.2" font-weight="normal" text-anchor="end" fill="#444">800</text>
<line x1="978.2" y1="99.1" x2="980.8" y2="99.1" stroke="#5a5a5a" stroke-width="1"/>
<text x="978.4" y="102" font-size="8.2" font-weight="normal" text-anchor="end" fill="#444">400</text>
<line x1="978.2" y1="127.5" x2="980.8" y2="127.5" stroke="#5a5a5a" stroke-width="1"/>
<text x="978.4" y="130.5" font-size="8.2" font-weight="normal" text-anchor="end" fill="#444">0</text>
<line x1="1002.2" y1="127.5" x2="1002.2" y2="129.7" stroke="#5a5a5a" stroke-width="0.9"/>
<rect x="997.5" y="87.1" width="9.5" height="40.4" fill="#c6c6c6" stroke="#6a6a6a" stroke-width="1.25"/>
<line x1="1002.2" y1="86.5" x2="1002.2" y2="82.9" stroke="#333" stroke-width="1"/>
<line x1="998.8" y1="82.9" x2="1005.7" y2="82.9" stroke="#333" stroke-width="1"/>
<circle cx="1003.7" cy="76.6" r="1.05" fill="#111"/>
<circle cx="1002.9" cy="83.8" r="1.05" fill="#111"/>
<circle cx="1002.3" cy="86.5" r="1.05" fill="#111"/>
<circle cx="1002.6" cy="90.9" r="1.05" fill="#111"/>
<circle cx="1002.8" cy="101.6" r="1.05" fill="#111"/>
<line x1="1043.6" y1="127.5" x2="1043.6" y2="129.7" stroke="#5a5a5a" stroke-width="0.9"/>
<rect x="1038.8" y="84.9" width="9.5" height="42.6" fill="#c6c6c6" stroke="#6a6a6a" stroke-width="1.25"/>
<line x1="1043.6" y1="84.3" x2="1043.6" y2="80.7" stroke="#333" stroke-width="1"/>
<line x1="1040.1" y1="80.7" x2="1047" y2="80.7" stroke="#333" stroke-width="1"/>
<circle cx="1042.1" cy="75.8" r="1.05" fill="#111"/>
<circle cx="1044.8" cy="81.1" r="1.05" fill="#111"/>
<circle cx="1044.4" cy="85.6" r="1.05" fill="#111"/>
<circle cx="1044.7" cy="93.6" r="1.05" fill="#111"/>
<circle cx="1044.5" cy="104.3" r="1.05" fill="#111"/>
<line x1="1084.4" y1="127.5" x2="1084.4" y2="129.7" stroke="#5a5a5a" stroke-width="0.9"/>
<rect x="1079.8" y="72.3" width="9.2" height="55.2" fill="#c6c6c6" stroke="#6a6a6a" stroke-width="1.25"/>
<line x1="1084.4" y1="71.7" x2="1084.4" y2="68.1" stroke="#333" stroke-width="1"/>
<line x1="1081.1" y1="68.1" x2="1087.7" y2="68.1" stroke="#333" stroke-width="1"/>
<circle cx="1084.1" cy="56.1" r="1.05" fill="#111"/>
<circle cx="1084.1" cy="62.4" r="1.05" fill="#111"/>
<circle cx="1083.1" cy="67.7" r="1.05" fill="#111"/>
<circle cx="1084.8" cy="75.8" r="1.05" fill="#111"/>
<circle cx="1083" cy="83.8" r="1.05" fill="#111"/>
<circle cx="1083" cy="96.3" r="1.05" fill="#111"/>
<polyline points="1002.6,44.4 1003.2,43.1 1083.1,43.1 1083.7,44.4" stroke="#8a8a8a" stroke-width="1" fill="none"/>
<text x="1043.2" y="45.2" font-size="10" font-weight="normal" text-anchor="middle" fill="#444">*</text>
<polyline points="1043.6,53.3 1044.2,52 1083.1,52 1083.7,53.3" stroke="#8a8a8a" stroke-width="1" fill="none"/>
<text x="1063.7" y="54.1" font-size="10" font-weight="normal" text-anchor="middle" fill="#444">*</text>
<text transform="translate(945.8,85.6) rotate(-90)" font-size="8.6" font-weight="bold" text-anchor="middle" dominant-baseline="central" fill="#111">Liver acetate</text>
<text transform="translate(957.3,85.6) rotate(-90)" font-size="8.6" font-weight="bold" text-anchor="middle" dominant-baseline="central" fill="#111">(nmol/g liver)</text>
<text x="981.3" y="139.3" font-size="6.8" font-weight="bold" text-anchor="end" fill="#111">C<tspan font-size="5.2">12</tspan></text>
<text x="1002.2" y="140.1" font-size="8.8" font-weight="bold" text-anchor="middle" fill="#222">–</text>
<text x="1043.6" y="140.1" font-size="8.8" font-weight="bold" text-anchor="middle" fill="#222">+</text>
<text x="1084.4" y="140.1" font-size="8.8" font-weight="bold" text-anchor="middle" fill="#222">–</text>
<text x="981.3" y="148.9" font-size="6.8" font-weight="bold" text-anchor="end" fill="#111">DCA<tspan font-size="5.2">12</tspan></text>
<text x="1002.2" y="149.7" font-size="8.8" font-weight="bold" text-anchor="middle" fill="#222">–</text>
<text x="1043.6" y="149.7" font-size="8.8" font-weight="bold" text-anchor="middle" fill="#222">–</text>
<text x="1084.4" y="149.7" font-size="8.8" font-weight="bold" text-anchor="middle" fill="#222">+</text>
<line x1="617.4" y1="196.2" x2="617.4" y2="282.9" stroke="#5a5a5a" stroke-width="1.3"/>
<line x1="616.8" y1="282.3" x2="741.5" y2="282.3" stroke="#5a5a5a" stroke-width="1.3"/>
<line x1="614.8" y1="196.5" x2="617.4" y2="196.5" stroke="#5a5a5a" stroke-width="1"/>
<text x="615" y="199.5" font-size="8.2" font-weight="normal" text-anchor="end" fill="#444">60</text>
<line x1="614.8" y1="225.1" x2="617.4" y2="225.1" stroke="#5a5a5a" stroke-width="1"/>
<text x="615" y="228.1" font-size="8.2" font-weight="normal" text-anchor="end" fill="#444">40</text>
<line x1="614.8" y1="253.7" x2="617.4" y2="253.7" stroke="#5a5a5a" stroke-width="1"/>
<text x="615" y="256.7" font-size="8.2" font-weight="normal" text-anchor="end" fill="#444">20</text>
<line x1="614.8" y1="282.3" x2="617.4" y2="282.3" stroke="#5a5a5a" stroke-width="1"/>
<text x="615" y="285.3" font-size="8.2" font-weight="normal" text-anchor="end" fill="#444">0</text>
<line x1="638.6" y1="282.3" x2="638.6" y2="284.5" stroke="#5a5a5a" stroke-width="0.9"/>
<rect x="633.7" y="241.2" width="9.8" height="41.1" fill="#c6c6c6" stroke="#6a6a6a" stroke-width="1.25"/>
<line x1="638.6" y1="240.6" x2="638.6" y2="237.6" stroke="#333" stroke-width="1"/>
<line x1="635.1" y1="237.6" x2="642.1" y2="237.6" stroke="#333" stroke-width="1"/>
<circle cx="637.7" cy="231.1" r="1.05" fill="#111"/>
<circle cx="637.5" cy="234.7" r="1.05" fill="#111"/>
<circle cx="638.1" cy="238.2" r="1.05" fill="#111"/>
<circle cx="637.2" cy="241.8" r="1.05" fill="#111"/>
<circle cx="637" cy="246.3" r="1.05" fill="#111"/>
<circle cx="637.5" cy="254.3" r="1.05" fill="#111"/>
<line x1="679" y1="282.3" x2="679" y2="284.5" stroke="#5a5a5a" stroke-width="0.9"/>
<rect x="674.3" y="239.7" width="9.5" height="42.6" fill="#c6c6c6" stroke="#6a6a6a" stroke-width="1.25"/>
<line x1="679" y1="239.1" x2="679" y2="236.1" stroke="#333" stroke-width="1"/>
<line x1="675.6" y1="236.1" x2="682.5" y2="236.1" stroke="#333" stroke-width="1"/>
<circle cx="677.8" cy="227.5" r="1.05" fill="#111"/>
<circle cx="678.6" cy="237.3" r="1.05" fill="#111"/>
<circle cx="677.5" cy="240.9" r="1.05" fill="#111"/>
<circle cx="680.2" cy="244.5" r="1.05" fill="#111"/>
<circle cx="679.4" cy="250.7" r="1.05" fill="#111"/>
<line x1="720.4" y1="282.3" x2="720.4" y2="284.5" stroke="#5a5a5a" stroke-width="0.9"/>
<rect x="715.6" y="231.7" width="9.6" height="50.6" fill="#c6c6c6" stroke="#6a6a6a" stroke-width="1.25"/>
<line x1="720.4" y1="231.1" x2="720.4" y2="228.1" stroke="#333" stroke-width="1"/>
<line x1="716.9" y1="228.1" x2="723.9" y2="228.1" stroke="#333" stroke-width="1"/>
<circle cx="719.3" cy="215.1" r="1.05" fill="#111"/>
<circle cx="719.6" cy="222.2" r="1.05" fill="#111"/>
<circle cx="719.9" cy="225.8" r="1.05" fill="#111"/>
<circle cx="720" cy="237.3" r="1.05" fill="#111"/>
<circle cx="719.2" cy="247.1" r="1.05" fill="#111"/>
<text transform="translate(584.8,240.2) rotate(-90)" font-size="8.6" font-weight="bold" text-anchor="middle" dominant-baseline="central" fill="#111">Liver ACS activity</text>
<text transform="translate(596.6,240.2) rotate(-90)" font-size="8.6" font-weight="bold" text-anchor="middle" dominant-baseline="central" fill="#111">(nmol/min/mg protein)</text>
<text x="617.9" y="294.1" font-size="6.8" font-weight="bold" text-anchor="end" fill="#111">C<tspan font-size="5.2">12</tspan></text>
<text x="638.6" y="294.9" font-size="8.8" font-weight="bold" text-anchor="middle" fill="#222">–</text>
<text x="679" y="294.9" font-size="8.8" font-weight="bold" text-anchor="middle" fill="#222">+</text>
<text x="720.4" y="294.9" font-size="8.8" font-weight="bold" text-anchor="middle" fill="#222">–</text>
<text x="617.9" y="303.9" font-size="6.8" font-weight="bold" text-anchor="end" fill="#111">DCA<tspan font-size="5.2">12</tspan></text>
<text x="638.6" y="304.7" font-size="8.8" font-weight="bold" text-anchor="middle" fill="#222">–</text>
<text x="679" y="304.7" font-size="8.8" font-weight="bold" text-anchor="middle" fill="#222">–</text>
<text x="720.4" y="304.7" font-size="8.8" font-weight="bold" text-anchor="middle" fill="#222">+</text>
<line x1="797.9" y1="196.2" x2="797.9" y2="282.9" stroke="#5a5a5a" stroke-width="1.3"/>
<line x1="797.3" y1="282.3" x2="921.5" y2="282.3" stroke="#5a5a5a" stroke-width="1.3"/>
<line x1="795.3" y1="196.5" x2="797.9" y2="196.5" stroke="#5a5a5a" stroke-width="1"/>
<text x="795.5" y="199.5" font-size="8.2" font-weight="normal" text-anchor="end" fill="#444">80</text>
<line x1="795.3" y1="217.9" x2="797.9" y2="217.9" stroke="#5a5a5a" stroke-width="1"/>
<text x="795.5" y="220.9" font-size="8.2" font-weight="normal" text-anchor="end" fill="#444">60</text>
<line x1="795.3" y1="239.4" x2="797.9" y2="239.4" stroke="#5a5a5a" stroke-width="1"/>
<text x="795.5" y="242.4" font-size="8.2" font-weight="normal" text-anchor="end" fill="#444">40</text>
<line x1="795.3" y1="260.9" x2="797.9" y2="260.9" stroke="#5a5a5a" stroke-width="1"/>
<text x="795.5" y="263.8" font-size="8.2" font-weight="normal" text-anchor="end" fill="#444">20</text>
<line x1="795.3" y1="282.3" x2="797.9" y2="282.3" stroke="#5a5a5a" stroke-width="1"/>
<text x="795.5" y="285.3" font-size="8.2" font-weight="normal" text-anchor="end" fill="#444">0</text>
<line x1="819.1" y1="282.3" x2="819.1" y2="284.5" stroke="#5a5a5a" stroke-width="0.9"/>
<rect x="814.6" y="251.8" width="9.1" height="30.5" fill="#c6c6c6" stroke="#6a6a6a" stroke-width="1.25"/>
<line x1="819.1" y1="251.2" x2="819.1" y2="248.8" stroke="#333" stroke-width="1"/>
<line x1="815.9" y1="248.8" x2="822.4" y2="248.8" stroke="#333" stroke-width="1"/>
<circle cx="820.3" cy="241.8" r="1.05" fill="#111"/>
<circle cx="820.7" cy="248.9" r="1.05" fill="#111"/>
<circle cx="819" cy="254.3" r="1.05" fill="#111"/>
<circle cx="819.1" cy="261.9" r="1.05" fill="#111"/>
<line x1="859.8" y1="282.3" x2="859.8" y2="284.5" stroke="#5a5a5a" stroke-width="0.9"/>
<rect x="855" y="247.4" width="9.7" height="34.9" fill="#c6c6c6" stroke="#6a6a6a" stroke-width="1.25"/>
<line x1="859.8" y1="246.8" x2="859.8" y2="244.4" stroke="#333" stroke-width="1"/>
<line x1="856.4" y1="244.4" x2="863.3" y2="244.4" stroke="#333" stroke-width="1"/>
<circle cx="858.5" cy="237.9" r="1.05" fill="#111"/>
<circle cx="858.6" cy="240.9" r="1.05" fill="#111"/>
<circle cx="859.3" cy="246.3" r="1.05" fill="#111"/>
<circle cx="859.1" cy="251.6" r="1.05" fill="#111"/>
<circle cx="860.9" cy="254.3" r="1.05" fill="#111"/>
<line x1="901" y1="282.3" x2="901" y2="284.5" stroke="#5a5a5a" stroke-width="0.9"/>
<rect x="896" y="227.6" width="10.1" height="54.7" fill="#c6c6c6" stroke="#6a6a6a" stroke-width="1.25"/>
<line x1="901" y1="227" x2="901" y2="223.4" stroke="#333" stroke-width="1"/>
<line x1="897.4" y1="223.4" x2="904.7" y2="223.4" stroke="#333" stroke-width="1"/>
<circle cx="900" cy="214.5" r="1.05" fill="#111"/>
<circle cx="899.5" cy="219.5" r="1.05" fill="#111"/>
<circle cx="902.5" cy="232" r="1.05" fill="#111"/>
<circle cx="901.1" cy="249.8" r="1.05" fill="#111"/>
<polyline points="818.8,194.1 819.4,192.8 899.8,192.8 900.4,194.1" stroke="#8a8a8a" stroke-width="1" fill="none"/>
<text x="859.6" y="194.9" font-size="10" font-weight="normal" text-anchor="middle" fill="#444">*</text>
<polyline points="860.3,203.5 860.9,202.2 899.8,202.2 900.4,203.5" stroke="#8a8a8a" stroke-width="1" fill="none"/>
<text x="880.3" y="204.3" font-size="10" font-weight="normal" text-anchor="middle" fill="#444">*</text>
<text transform="translate(764.4,240.2) rotate(-90)" font-size="8.6" font-weight="bold" text-anchor="middle" dominant-baseline="central" fill="#111">Liver acetyl-CoA</text>
<text transform="translate(775.3,240.2) rotate(-90)" font-size="8.6" font-weight="bold" text-anchor="middle" dominant-baseline="central" fill="#111">(nmol/g liver)</text>
<text x="798.4" y="294.1" font-size="6.8" font-weight="bold" text-anchor="end" fill="#111">C<tspan font-size="5.2">12</tspan></text>
<text x="819.1" y="294.9" font-size="8.8" font-weight="bold" text-anchor="middle" fill="#222">–</text>
<text x="859.8" y="294.9" font-size="8.8" font-weight="bold" text-anchor="middle" fill="#222">+</text>
<text x="901" y="294.9" font-size="8.8" font-weight="bold" text-anchor="middle" fill="#222">–</text>
<text x="798.4" y="303.9" font-size="6.8" font-weight="bold" text-anchor="end" fill="#111">DCA<tspan font-size="5.2">12</tspan></text>
<text x="819.1" y="304.7" font-size="8.8" font-weight="bold" text-anchor="middle" fill="#222">–</text>
<text x="859.8" y="304.7" font-size="8.8" font-weight="bold" text-anchor="middle" fill="#222">–</text>
<text x="901" y="304.7" font-size="8.8" font-weight="bold" text-anchor="middle" fill="#222">+</text>
<line x1="980.8" y1="196.2" x2="980.8" y2="282.9" stroke="#5a5a5a" stroke-width="1.3"/>
<line x1="980.2" y1="282.3" x2="1104.7" y2="282.3" stroke="#5a5a5a" stroke-width="1.3"/>
<line x1="978.2" y1="196.5" x2="980.8" y2="196.5" stroke="#5a5a5a" stroke-width="1"/>
<text x="978.4" y="199.5" font-size="8.2" font-weight="normal" text-anchor="end" fill="#444">400</text>
<line x1="978.2" y1="225.1" x2="980.8" y2="225.1" stroke="#5a5a5a" stroke-width="1"/>
<text x="978.4" y="228.1" font-size="8.2" font-weight="normal" text-anchor="end" fill="#444">300</text>
<line x1="978.2" y1="253.7" x2="980.8" y2="253.7" stroke="#5a5a5a" stroke-width="1"/>
<text x="978.4" y="256.7" font-size="8.2" font-weight="normal" text-anchor="end" fill="#444">200</text>
<line x1="978.2" y1="282.3" x2="980.8" y2="282.3" stroke="#5a5a5a" stroke-width="1"/>
<text x="978.4" y="285.3" font-size="8.2" font-weight="normal" text-anchor="end" fill="#444">100</text>
<line x1="1002.2" y1="282.3" x2="1002.2" y2="284.5" stroke="#5a5a5a" stroke-width="0.9"/>
<rect x="997.5" y="233" width="9.5" height="49.3" fill="#c6c6c6" stroke="#6a6a6a" stroke-width="1.25"/>
<line x1="1002.2" y1="232.4" x2="1002.2" y2="227.6" stroke="#333" stroke-width="1"/>
<line x1="998.8" y1="227.6" x2="1005.7" y2="227.6" stroke="#333" stroke-width="1"/>
<circle cx="1001.1" cy="203.8" r="1.05" fill="#111"/>
<circle cx="1002.4" cy="224" r="1.05" fill="#111"/>
<circle cx="1000.7" cy="227.5" r="1.05" fill="#111"/>
<circle cx="1002.3" cy="235.6" r="1.05" fill="#111"/>
<circle cx="1003.8" cy="240.9" r="1.05" fill="#111"/>
<circle cx="1003.4" cy="249.8" r="1.05" fill="#111"/>
<circle cx="1002.9" cy="252" r="1.05" fill="#111"/>
<line x1="1043.6" y1="282.3" x2="1043.6" y2="284.5" stroke="#5a5a5a" stroke-width="0.9"/>
<rect x="1038.8" y="230.8" width="9.5" height="51.5" fill="#c6c6c6" stroke="#6a6a6a" stroke-width="1.25"/>
<line x1="1043.6" y1="230.2" x2="1043.6" y2="225.4" stroke="#333" stroke-width="1"/>
<line x1="1040.1" y1="225.4" x2="1047" y2="225.4" stroke="#333" stroke-width="1"/>
<circle cx="1042.8" cy="203.1" r="1.05" fill="#111"/>
<circle cx="1043.1" cy="219.5" r="1.05" fill="#111"/>
<circle cx="1042.5" cy="226.6" r="1.05" fill="#111"/>
<circle cx="1044.4" cy="232.4" r="1.05" fill="#111"/>
<circle cx="1043.7" cy="238.6" r="1.05" fill="#111"/>
<circle cx="1044.4" cy="263.2" r="1.05" fill="#111"/>
<line x1="1084.4" y1="282.3" x2="1084.4" y2="284.5" stroke="#5a5a5a" stroke-width="0.9"/>
<rect x="1079.8" y="236.7" width="9.2" height="45.6" fill="#c6c6c6" stroke="#6a6a6a" stroke-width="1.25"/>
<line x1="1084.4" y1="236.1" x2="1084.4" y2="231.3" stroke="#333" stroke-width="1"/>
<line x1="1081.1" y1="231.3" x2="1087.7" y2="231.3" stroke="#333" stroke-width="1"/>
<circle cx="1083.9" cy="214.5" r="1.05" fill="#111"/>
<circle cx="1083.5" cy="226.3" r="1.05" fill="#111"/>
<circle cx="1085.4" cy="230.2" r="1.05" fill="#111"/>
<circle cx="1086" cy="237.3" r="1.05" fill="#111"/>
<circle cx="1085.5" cy="257.8" r="1.05" fill="#111"/>
<circle cx="1085.4" cy="262.3" r="1.05" fill="#111"/>
<text transform="translate(946.6,240.2) rotate(-90)" font-size="8.6" font-weight="bold" text-anchor="middle" dominant-baseline="central" fill="#111">Liver citrate</text>
<text transform="translate(958.2,240.2) rotate(-90)" font-size="8.6" font-weight="bold" text-anchor="middle" dominant-baseline="central" fill="#111">(nmol/g liver)</text>
<text x="981.3" y="294.1" font-size="6.8" font-weight="bold" text-anchor="end" fill="#111">C<tspan font-size="5.2">12</tspan></text>
<text x="1002.2" y="294.9" font-size="8.8" font-weight="bold" text-anchor="middle" fill="#222">–</text>
<text x="1043.6" y="294.9" font-size="8.8" font-weight="bold" text-anchor="middle" fill="#222">+</text>
<text x="1084.4" y="294.9" font-size="8.8" font-weight="bold" text-anchor="middle" fill="#222">–</text>
<text x="981.3" y="303.9" font-size="6.8" font-weight="bold" text-anchor="end" fill="#111">DCA<tspan font-size="5.2">12</tspan></text>
<text x="1002.2" y="304.7" font-size="8.8" font-weight="bold" text-anchor="middle" fill="#222">–</text>
<text x="1043.6" y="304.7" font-size="8.8" font-weight="bold" text-anchor="middle" fill="#222">–</text>
<text x="1084.4" y="304.7" font-size="8.8" font-weight="bold" text-anchor="middle" fill="#222">+</text>
<line x1="617.4" y1="348.2" x2="617.4" y2="435.2" stroke="#5a5a5a" stroke-width="1.3"/>
<line x1="616.8" y1="434.6" x2="741.5" y2="434.6" stroke="#5a5a5a" stroke-width="1.3"/>
<line x1="614.8" y1="348.5" x2="617.4" y2="348.5" stroke="#5a5a5a" stroke-width="1"/>
<text x="615" y="351.5" font-size="8.2" font-weight="normal" text-anchor="end" fill="#444">50</text>
<line x1="614.8" y1="365.7" x2="617.4" y2="365.7" stroke="#5a5a5a" stroke-width="1"/>
<text x="615" y="368.7" font-size="8.2" font-weight="normal" text-anchor="end" fill="#444">40</text>
<line x1="614.8" y1="382.9" x2="617.4" y2="382.9" stroke="#5a5a5a" stroke-width="1"/>
<text x="615" y="385.9" font-size="8.2" font-weight="normal" text-anchor="end" fill="#444">30</text>
<line x1="614.8" y1="400.2" x2="617.4" y2="400.2" stroke="#5a5a5a" stroke-width="1"/>
<text x="615" y="403.1" font-size="8.2" font-weight="normal" text-anchor="end" fill="#444">20</text>
<line x1="614.8" y1="417.4" x2="617.4" y2="417.4" stroke="#5a5a5a" stroke-width="1"/>
<text x="615" y="420.3" font-size="8.2" font-weight="normal" text-anchor="end" fill="#444">10</text>
<line x1="614.8" y1="434.6" x2="617.4" y2="434.6" stroke="#5a5a5a" stroke-width="1"/>
<text x="615" y="437.6" font-size="8.2" font-weight="normal" text-anchor="end" fill="#444">0</text>
<line x1="638.6" y1="434.6" x2="638.6" y2="436.8" stroke="#5a5a5a" stroke-width="0.9"/>
<rect x="633.7" y="388.8" width="9.8" height="45.8" fill="#c6c6c6" stroke="#6a6a6a" stroke-width="1.25"/>
<line x1="638.6" y1="388.2" x2="638.6" y2="385.5" stroke="#333" stroke-width="1"/>
<line x1="635.1" y1="385.5" x2="642.1" y2="385.5" stroke="#333" stroke-width="1"/>
<circle cx="639.6" cy="373.1" r="1.05" fill="#111"/>
<circle cx="639.4" cy="381.1" r="1.05" fill="#111"/>
<circle cx="637.7" cy="387.3" r="1.05" fill="#111"/>
<circle cx="638.7" cy="391.8" r="1.05" fill="#111"/>
<circle cx="638.1" cy="394.5" r="1.05" fill="#111"/>
<circle cx="637.1" cy="398" r="1.05" fill="#111"/>
<line x1="679" y1="434.6" x2="679" y2="436.8" stroke="#5a5a5a" stroke-width="0.9"/>
<rect x="674.3" y="383.8" width="9.5" height="50.8" fill="#c6c6c6" stroke="#6a6a6a" stroke-width="1.25"/>
<line x1="679" y1="383.2" x2="679" y2="380.2" stroke="#333" stroke-width="1"/>
<line x1="675.6" y1="380.2" x2="682.5" y2="380.2" stroke="#333" stroke-width="1"/>
<circle cx="677.5" cy="368.1" r="1.05" fill="#111"/>
<circle cx="678.3" cy="374" r="1.05" fill="#111"/>
<circle cx="678.3" cy="378.4" r="1.05" fill="#111"/>
<circle cx="679.7" cy="384.7" r="1.05" fill="#111"/>
<circle cx="680.5" cy="390" r="1.05" fill="#111"/>
<circle cx="678.9" cy="394.5" r="1.05" fill="#111"/>
<circle cx="680.4" cy="398.9" r="1.05" fill="#111"/>
<line x1="720.4" y1="434.6" x2="720.4" y2="436.8" stroke="#5a5a5a" stroke-width="0.9"/>
<rect x="715.6" y="382.1" width="9.6" height="52.5" fill="#c6c6c6" stroke="#6a6a6a" stroke-width="1.25"/>
<line x1="720.4" y1="381.5" x2="720.4" y2="378.5" stroke="#333" stroke-width="1"/>
<line x1="716.9" y1="378.5" x2="723.9" y2="378.5" stroke="#333" stroke-width="1"/>
<circle cx="722" cy="357.9" r="1.05" fill="#111"/>
<circle cx="721.9" cy="375.8" r="1.05" fill="#111"/>
<circle cx="720" cy="380.2" r="1.05" fill="#111"/>
<circle cx="719.5" cy="387" r="1.05" fill="#111"/>
<circle cx="719.5" cy="392.7" r="1.05" fill="#111"/>
<circle cx="719.4" cy="394.8" r="1.05" fill="#111"/>
<text transform="translate(584.2,392.4) rotate(-90)" font-size="8.6" font-weight="bold" text-anchor="middle" dominant-baseline="central" fill="#111">Liver citrate lyase</text>
<text transform="translate(595.3,392.4) rotate(-90)" font-size="8.6" font-weight="bold" text-anchor="middle" dominant-baseline="central" fill="#111">(nmol/min/mg protein)</text>
<text x="617.9" y="445.9" font-size="6.8" font-weight="bold" text-anchor="end" fill="#111">C<tspan font-size="5.2">12</tspan></text>
<text x="638.6" y="446.7" font-size="8.8" font-weight="bold" text-anchor="middle" fill="#222">–</text>
<text x="679" y="446.7" font-size="8.8" font-weight="bold" text-anchor="middle" fill="#222">+</text>
<text x="720.4" y="446.7" font-size="8.8" font-weight="bold" text-anchor="middle" fill="#222">–</text>
<text x="617.9" y="455.7" font-size="6.8" font-weight="bold" text-anchor="end" fill="#111">DCA<tspan font-size="5.2">12</tspan></text>
<text x="638.6" y="456.5" font-size="8.8" font-weight="bold" text-anchor="middle" fill="#222">–</text>
<text x="679" y="456.5" font-size="8.8" font-weight="bold" text-anchor="middle" fill="#222">–</text>
<text x="720.4" y="456.5" font-size="8.8" font-weight="bold" text-anchor="middle" fill="#222">+</text>
<line x1="797.4" y1="348.2" x2="797.4" y2="435.2" stroke="#5a5a5a" stroke-width="1.3"/>
<line x1="796.8" y1="434.6" x2="920.9" y2="434.6" stroke="#5a5a5a" stroke-width="1.3"/>
<line x1="794.8" y1="348.5" x2="797.4" y2="348.5" stroke="#5a5a5a" stroke-width="1"/>
<text x="795" y="351.5" font-size="8.2" font-weight="normal" text-anchor="end" fill="#444">1.2</text>
<line x1="794.8" y1="377.2" x2="797.4" y2="377.2" stroke="#5a5a5a" stroke-width="1"/>
<text x="795" y="380.2" font-size="8.2" font-weight="normal" text-anchor="end" fill="#444">0.8</text>
<line x1="794.8" y1="405.9" x2="797.4" y2="405.9" stroke="#5a5a5a" stroke-width="1"/>
<text x="795" y="408.9" font-size="8.2" font-weight="normal" text-anchor="end" fill="#444">0.4</text>
<line x1="794.8" y1="434.6" x2="797.4" y2="434.6" stroke="#5a5a5a" stroke-width="1"/>
<text x="795" y="437.6" font-size="8.2" font-weight="normal" text-anchor="end" fill="#444">0.0</text>
<line x1="819.1" y1="434.6" x2="819.1" y2="436.8" stroke="#5a5a5a" stroke-width="0.9"/>
<rect x="814.6" y="408.8" width="9.1" height="25.8" fill="#c6c6c6" stroke="#6a6a6a" stroke-width="1.25"/>
<line x1="819.1" y1="408.2" x2="819.1" y2="407" stroke="#333" stroke-width="1"/>
<line x1="815.9" y1="407" x2="822.4" y2="407" stroke="#333" stroke-width="1"/>
<circle cx="818.2" cy="405.2" r="1.05" fill="#111"/>
<circle cx="819.5" cy="406.5" r="1.05" fill="#111"/>
<circle cx="820.4" cy="407.5" r="1.05" fill="#111"/>
<circle cx="820.2" cy="409" r="1.05" fill="#111"/>
<line x1="859.8" y1="434.6" x2="859.8" y2="436.8" stroke="#5a5a5a" stroke-width="0.9"/>
<rect x="855" y="412.6" width="9.7" height="22" fill="#c6c6c6" stroke="#6a6a6a" stroke-width="1.25"/>
<line x1="859.8" y1="412" x2="859.8" y2="410.5" stroke="#333" stroke-width="1"/>
<line x1="856.4" y1="410.5" x2="863.3" y2="410.5" stroke="#333" stroke-width="1"/>
<circle cx="859.8" cy="407.8" r="1.05" fill="#111"/>
<circle cx="860.3" cy="410.5" r="1.05" fill="#111"/>
<circle cx="860.8" cy="414.1" r="1.05" fill="#111"/>
<circle cx="858.5" cy="417.6" r="1.05" fill="#111"/>
<line x1="901" y1="434.6" x2="901" y2="436.8" stroke="#5a5a5a" stroke-width="0.9"/>
<rect x="896" y="383.8" width="10.1" height="50.8" fill="#c6c6c6" stroke="#6a6a6a" stroke-width="1.25"/>
<line x1="901" y1="383.2" x2="901" y2="380.2" stroke="#333" stroke-width="1"/>
<line x1="897.4" y1="380.2" x2="904.7" y2="380.2" stroke="#333" stroke-width="1"/>
<circle cx="901.6" cy="368.6" r="1.05" fill="#111"/>
<circle cx="902.4" cy="373.1" r="1.05" fill="#111"/>
<circle cx="902" cy="383.8" r="1.05" fill="#111"/>
<circle cx="901.9" cy="388.2" r="1.05" fill="#111"/>
<circle cx="901" cy="398" r="1.05" fill="#111"/>
<polyline points="817.5,345.9 818.1,344.6 898.6,344.6 899.2,345.9" stroke="#8a8a8a" stroke-width="1" fill="none"/>
<text x="858.4" y="346.7" font-size="10" font-weight="normal" text-anchor="middle" fill="#444">*</text>
<polyline points="859,360.7 859.6,359.4 898.6,359.4 899.2,360.7" stroke="#8a8a8a" stroke-width="1" fill="none"/>
<text x="879.1" y="361.5" font-size="10" font-weight="normal" text-anchor="middle" fill="#444">*</text>
<text transform="translate(763.8,392.4) rotate(-90)" font-size="8.6" font-weight="bold" text-anchor="middle" dominant-baseline="central" fill="#111">Liver malonyl-CoA</text>
<text transform="translate(775.2,392.4) rotate(-90)" font-size="8.6" font-weight="bold" text-anchor="middle" dominant-baseline="central" fill="#111">(nmol/g liver)</text>
<text x="797.9" y="445.9" font-size="6.8" font-weight="bold" text-anchor="end" fill="#111">C<tspan font-size="5.2">12</tspan></text>
<text x="819.1" y="446.7" font-size="8.8" font-weight="bold" text-anchor="middle" fill="#222">–</text>
<text x="859.8" y="446.7" font-size="8.8" font-weight="bold" text-anchor="middle" fill="#222">+</text>
<text x="901" y="446.7" font-size="8.8" font-weight="bold" text-anchor="middle" fill="#222">–</text>
<text x="797.9" y="455.7" font-size="6.8" font-weight="bold" text-anchor="end" fill="#111">DCA<tspan font-size="5.2">12</tspan></text>
<text x="819.1" y="456.5" font-size="8.8" font-weight="bold" text-anchor="middle" fill="#222">–</text>
<text x="859.8" y="456.5" font-size="8.8" font-weight="bold" text-anchor="middle" fill="#222">–</text>
<text x="901" y="456.5" font-size="8.8" font-weight="bold" text-anchor="middle" fill="#222">+</text>
<line x1="980.8" y1="348.2" x2="980.8" y2="435.2" stroke="#5a5a5a" stroke-width="1.3"/>
<line x1="980.2" y1="434.6" x2="1104.7" y2="434.6" stroke="#5a5a5a" stroke-width="1.3"/>
<line x1="978.2" y1="348.5" x2="980.8" y2="348.5" stroke="#5a5a5a" stroke-width="1"/>
<text x="978.4" y="351.5" font-size="8.2" font-weight="normal" text-anchor="end" fill="#444">0.6</text>
<line x1="978.2" y1="377.2" x2="980.8" y2="377.2" stroke="#5a5a5a" stroke-width="1"/>
<text x="978.4" y="380.2" font-size="8.2" font-weight="normal" text-anchor="end" fill="#444">0.4</text>
<line x1="978.2" y1="405.9" x2="980.8" y2="405.9" stroke="#5a5a5a" stroke-width="1"/>
<text x="978.4" y="408.9" font-size="8.2" font-weight="normal" text-anchor="end" fill="#444">0.2</text>
<line x1="978.2" y1="434.6" x2="980.8" y2="434.6" stroke="#5a5a5a" stroke-width="1"/>
<text x="978.4" y="437.6" font-size="8.2" font-weight="normal" text-anchor="end" fill="#444">0.0</text>
<line x1="1002.2" y1="434.6" x2="1002.2" y2="436.8" stroke="#5a5a5a" stroke-width="0.9"/>
<rect x="997.5" y="386.5" width="9.5" height="48.1" fill="#c6c6c6" stroke="#6a6a6a" stroke-width="1.25"/>
<line x1="1002.2" y1="385.9" x2="1002.2" y2="384.7" stroke="#333" stroke-width="1"/>
<line x1="998.8" y1="384.7" x2="1005.7" y2="384.7" stroke="#333" stroke-width="1"/>
<circle cx="1001.2" cy="380.2" r="1.05" fill="#111"/>
<circle cx="1003.2" cy="383" r="1.05" fill="#111"/>
<circle cx="1001.7" cy="385" r="1.05" fill="#111"/>
<circle cx="1003.2" cy="387.5" r="1.05" fill="#111"/>
<circle cx="1003.8" cy="390" r="1.05" fill="#111"/>
<line x1="1043.6" y1="434.6" x2="1043.6" y2="436.8" stroke="#5a5a5a" stroke-width="0.9"/>
<rect x="1038.8" y="374" width="9.5" height="60.6" fill="#c6c6c6" stroke="#6a6a6a" stroke-width="1.25"/>
<line x1="1043.6" y1="373.4" x2="1043.6" y2="371.6" stroke="#333" stroke-width="1"/>
<line x1="1040.1" y1="371.6" x2="1047" y2="371.6" stroke="#333" stroke-width="1"/>
<circle cx="1043.2" cy="366" r="1.05" fill="#111"/>
<circle cx="1043.2" cy="369.5" r="1.05" fill="#111"/>
<circle cx="1045" cy="372.2" r="1.05" fill="#111"/>
<circle cx="1044.3" cy="385.6" r="1.05" fill="#111"/>
<circle cx="1042.5" cy="387.3" r="1.05" fill="#111"/>
<line x1="1084.4" y1="434.6" x2="1084.4" y2="436.8" stroke="#5a5a5a" stroke-width="0.9"/>
<rect x="1079.8" y="412" width="9.2" height="22.6" fill="#c6c6c6" stroke="#6a6a6a" stroke-width="1.25"/>
<line x1="1084.4" y1="411.4" x2="1084.4" y2="410.2" stroke="#333" stroke-width="1"/>
<line x1="1081.1" y1="410.2" x2="1087.7" y2="410.2" stroke="#333" stroke-width="1"/>
<circle cx="1083.2" cy="407.8" r="1.05" fill="#111"/>
<circle cx="1083.3" cy="410" r="1.05" fill="#111"/>
<circle cx="1085.7" cy="412.5" r="1.05" fill="#111"/>
<circle cx="1085.4" cy="415" r="1.05" fill="#111"/>
<circle cx="1083.3" cy="417.6" r="1.05" fill="#111"/>
<polyline points="1001.3,345.9 1001.9,344.6 1083.1,344.6 1083.7,345.9" stroke="#8a8a8a" stroke-width="1" fill="none"/>
<text x="1042.5" y="346.7" font-size="10" font-weight="normal" text-anchor="middle" fill="#444">*</text>
<polyline points="1042.9,360.7 1043.5,359.4 1083.1,359.4 1083.7,360.7" stroke="#8a8a8a" stroke-width="1" fill="none"/>
<text x="1063.3" y="361.5" font-size="10" font-weight="normal" text-anchor="middle" fill="#444">*</text>
<text transform="translate(947.4,392.4) rotate(-90)" font-size="8.6" font-weight="bold" text-anchor="middle" dominant-baseline="central" fill="#111">Plasma ketone body</text>
<text transform="translate(960,392.4) rotate(-90)" font-size="8.6" font-weight="bold" text-anchor="middle" dominant-baseline="central" fill="#111">(mM)</text>
<text x="981.3" y="445.9" font-size="6.8" font-weight="bold" text-anchor="end" fill="#111">C<tspan font-size="5.2">12</tspan></text>
<text x="1002.2" y="446.7" font-size="8.8" font-weight="bold" text-anchor="middle" fill="#222">–</text>
<text x="1043.6" y="446.7" font-size="8.8" font-weight="bold" text-anchor="middle" fill="#222">+</text>
<text x="1084.4" y="446.7" font-size="8.8" font-weight="bold" text-anchor="middle" fill="#222">–</text>
<text x="981.3" y="455.7" font-size="6.8" font-weight="bold" text-anchor="end" fill="#111">DCA<tspan font-size="5.2">12</tspan></text>
<text x="1002.2" y="456.5" font-size="8.8" font-weight="bold" text-anchor="middle" fill="#222">–</text>
<text x="1043.6" y="456.5" font-size="8.8" font-weight="bold" text-anchor="middle" fill="#222">–</text>
<text x="1084.4" y="456.5" font-size="8.8" font-weight="bold" text-anchor="middle" fill="#222">+</text>
<text x="25.9" y="522" font-size="17.3" font-weight="bold" text-anchor="start" fill="#000">A</text>
<text x="203.5" y="522" font-size="17.3" font-weight="bold" text-anchor="start" fill="#000">B</text>
<text x="381.9" y="522" font-size="17.3" font-weight="bold" text-anchor="start" fill="#000">C</text>
<text x="27.2" y="671.3" font-size="17.3" font-weight="bold" text-anchor="start" fill="#000">D</text>
<text x="203.5" y="671.3" font-size="17.3" font-weight="bold" text-anchor="start" fill="#000">E</text>
<text x="383.5" y="671.3" font-size="17.3" font-weight="bold" text-anchor="start" fill="#000">F</text>
<text x="26.2" y="821.8" font-size="17.3" font-weight="bold" text-anchor="start" fill="#000">G</text>
<text x="204" y="821.8" font-size="17.3" font-weight="bold" text-anchor="start" fill="#000">H</text>
<text x="383.5" y="821.3" font-size="17.3" font-weight="bold" text-anchor="start" fill="#000">I</text>
<text x="25.6" y="972.9" font-size="17.3" font-weight="bold" text-anchor="start" fill="#000">J</text>
<text x="202.9" y="973" font-size="17.3" font-weight="bold" text-anchor="start" fill="#000">K</text>
<rect x="73.5" y="536.9" width="10.2" height="4.9" fill="#fff" stroke="#6a6a6a" stroke-width="1.1"/>
<text x="86.6" y="542.1" font-size="7.6" font-weight="bold" text-anchor="start" fill="#222">N</text>
<rect x="95.1" y="536.9" width="9.4" height="4.9" fill="#c6c6c6" stroke="#6a6a6a" stroke-width="1.1"/>
<text x="108.2" y="542.1" font-size="7.6" font-weight="bold" text-anchor="start" fill="#222">F</text>
<rect x="116" y="536.9" width="9.7" height="4.9" fill="#8c8c8c" stroke="#6a6a6a" stroke-width="1.1"/>
<text x="129" y="542.1" font-size="7.6" font-weight="bold" text-anchor="start" fill="#222">F+CFB</text>
<line x1="71.7" y1="543.6" x2="71.7" y2="628.8" stroke="#5a5a5a" stroke-width="1.3"/>
<line x1="71.1" y1="628.2" x2="193" y2="628.2" stroke="#5a5a5a" stroke-width="1.3"/>
<line x1="69.1" y1="543.9" x2="71.7" y2="543.9" stroke="#5a5a5a" stroke-width="1"/>
<text x="69.3" y="546.9" font-size="8.2" font-weight="normal" text-anchor="end" fill="#444">15</text>
<line x1="69.1" y1="572" x2="71.7" y2="572" stroke="#5a5a5a" stroke-width="1"/>
<text x="69.3" y="575" font-size="8.2" font-weight="normal" text-anchor="end" fill="#444">10</text>
<line x1="69.1" y1="600.1" x2="71.7" y2="600.1" stroke="#5a5a5a" stroke-width="1"/>
<text x="69.3" y="603.1" font-size="8.2" font-weight="normal" text-anchor="end" fill="#444">5</text>
<line x1="69.1" y1="628.2" x2="71.7" y2="628.2" stroke="#5a5a5a" stroke-width="1"/>
<text x="69.3" y="631.2" font-size="8.2" font-weight="normal" text-anchor="end" fill="#444">0</text>
<rect x="78.6" y="622.8" width="8.2" height="5.4" fill="#ffffff" stroke="#6a6a6a" stroke-width="1.25"/>
<line x1="82.7" y1="622.2" x2="82.7" y2="621" stroke="#333" stroke-width="1"/>
<line x1="79.7" y1="621" x2="85.7" y2="621" stroke="#333" stroke-width="1"/>
<circle cx="83.2" cy="623.4" r="1.05" fill="#111"/>
<circle cx="82.2" cy="620.2" r="1.05" fill="#111"/>
<circle cx="81.1" cy="621.7" r="1.05" fill="#111"/>
<circle cx="84.2" cy="622.1" r="1.05" fill="#111"/>
<circle cx="84.1" cy="621.6" r="1.05" fill="#111"/>
<circle cx="82.5" cy="621.3" r="1.05" fill="#111"/>
<circle cx="81.8" cy="623.4" r="1.05" fill="#111"/>
<rect x="88" y="603.9" width="8.1" height="24.3" fill="#c6c6c6" stroke="#6a6a6a" stroke-width="1.25"/>
<line x1="92.1" y1="603.3" x2="92.1" y2="600.6" stroke="#333" stroke-width="1"/>
<line x1="89.1" y1="600.6" x2="95" y2="600.6" stroke="#333" stroke-width="1"/>
<circle cx="91.3" cy="596" r="1.05" fill="#111"/>
<circle cx="92.3" cy="602.2" r="1.05" fill="#111"/>
<circle cx="91.3" cy="607.2" r="1.05" fill="#111"/>
<circle cx="93.4" cy="600.8" r="1.05" fill="#111"/>
<circle cx="91.6" cy="604.7" r="1.05" fill="#111"/>
<circle cx="93.3" cy="596.4" r="1.05" fill="#111"/>
<circle cx="91.8" cy="605.2" r="1.05" fill="#111"/>
<rect x="97.6" y="578.7" width="8.4" height="49.5" fill="#8c8c8c" stroke="#6a6a6a" stroke-width="1.25"/>
<line x1="101.8" y1="578.1" x2="101.8" y2="574.8" stroke="#333" stroke-width="1"/>
<line x1="98.7" y1="574.8" x2="104.9" y2="574.8" stroke="#333" stroke-width="1"/>
<circle cx="101.9" cy="584.9" r="1.05" fill="#111"/>
<circle cx="101.9" cy="574.3" r="1.05" fill="#111"/>
<circle cx="100.8" cy="585.2" r="1.05" fill="#111"/>
<circle cx="100.2" cy="578.9" r="1.05" fill="#111"/>
<circle cx="101.7" cy="579.3" r="1.05" fill="#111"/>
<circle cx="102.5" cy="574.2" r="1.05" fill="#111"/>
<circle cx="101.9" cy="572.6" r="1.05" fill="#111"/>
<rect x="118.5" y="623.1" width="8.1" height="5.1" fill="#ffffff" stroke="#6a6a6a" stroke-width="1.25"/>
<line x1="122.6" y1="622.5" x2="122.6" y2="621.3" stroke="#333" stroke-width="1"/>
<line x1="119.6" y1="621.3" x2="125.5" y2="621.3" stroke="#333" stroke-width="1"/>
<circle cx="122.7" cy="622.2" r="1.05" fill="#111"/>
<circle cx="122.7" cy="622.6" r="1.05" fill="#111"/>
<circle cx="121.7" cy="622.1" r="1.05" fill="#111"/>
<circle cx="122.6" cy="622.2" r="1.05" fill="#111"/>
<circle cx="122.7" cy="624" r="1.05" fill="#111"/>
<circle cx="122.4" cy="622.6" r="1.05" fill="#111"/>
<circle cx="122.9" cy="620.5" r="1.05" fill="#111"/>
<rect x="128.1" y="607.9" width="8.1" height="20.3" fill="#c6c6c6" stroke="#6a6a6a" stroke-width="1.25"/>
<line x1="132.2" y1="607.3" x2="132.2" y2="604.6" stroke="#333" stroke-width="1"/>
<line x1="129.2" y1="604.6" x2="135.1" y2="604.6" stroke="#333" stroke-width="1"/>
<circle cx="132.8" cy="600.8" r="1.05" fill="#111"/>
<circle cx="132" cy="607.1" r="1.05" fill="#111"/>
<circle cx="133.6" cy="601.3" r="1.05" fill="#111"/>
<circle cx="132.8" cy="606" r="1.05" fill="#111"/>
<circle cx="131.4" cy="616.5" r="1.05" fill="#111"/>
<circle cx="132.3" cy="598.3" r="1.05" fill="#111"/>
<circle cx="131" cy="617" r="1.05" fill="#111"/>
<rect x="137.7" y="587" width="8.4" height="41.2" fill="#8c8c8c" stroke="#6a6a6a" stroke-width="1.25"/>
<line x1="141.9" y1="586.4" x2="141.9" y2="582.8" stroke="#333" stroke-width="1"/>
<line x1="138.8" y1="582.8" x2="145" y2="582.8" stroke="#333" stroke-width="1"/>
<circle cx="140.7" cy="581.6" r="1.05" fill="#111"/>
<circle cx="141.1" cy="583.8" r="1.05" fill="#111"/>
<circle cx="140.5" cy="587.4" r="1.05" fill="#111"/>
<circle cx="143.2" cy="580.3" r="1.05" fill="#111"/>
<circle cx="140.8" cy="575.4" r="1.05" fill="#111"/>
<circle cx="140.8" cy="584.2" r="1.05" fill="#111"/>
<circle cx="143.1" cy="576.1" r="1.05" fill="#111"/>
<rect x="158.3" y="623.6" width="8.4" height="4.6" fill="#ffffff" stroke="#6a6a6a" stroke-width="1.25"/>
<line x1="162.5" y1="623" x2="162.5" y2="621.8" stroke="#333" stroke-width="1"/>
<line x1="159.4" y1="621.8" x2="165.6" y2="621.8" stroke="#333" stroke-width="1"/>
<circle cx="163.9" cy="623.6" r="1.05" fill="#111"/>
<circle cx="162.2" cy="622.9" r="1.05" fill="#111"/>
<circle cx="163.6" cy="621" r="1.05" fill="#111"/>
<circle cx="161.4" cy="623.2" r="1.05" fill="#111"/>
<circle cx="162" cy="622" r="1.05" fill="#111"/>
<circle cx="161.5" cy="623.5" r="1.05" fill="#111"/>
<circle cx="161" cy="622.4" r="1.05" fill="#111"/>
<rect x="167.9" y="605.5" width="8.4" height="22.7" fill="#c6c6c6" stroke="#6a6a6a" stroke-width="1.25"/>
<line x1="172.1" y1="604.9" x2="172.1" y2="601.9" stroke="#333" stroke-width="1"/>
<line x1="169" y1="601.9" x2="175.2" y2="601.9" stroke="#333" stroke-width="1"/>
<circle cx="172.3" cy="613.6" r="1.05" fill="#111"/>
<circle cx="171.6" cy="603.8" r="1.05" fill="#111"/>
<circle cx="172.5" cy="605.3" r="1.05" fill="#111"/>
<circle cx="173.7" cy="602.7" r="1.05" fill="#111"/>
<circle cx="173" cy="604.7" r="1.05" fill="#111"/>
<circle cx="171.3" cy="607.7" r="1.05" fill="#111"/>
<circle cx="170.6" cy="604.4" r="1.05" fill="#111"/>
<rect x="177.5" y="576.6" width="8.8" height="51.6" fill="#8c8c8c" stroke="#6a6a6a" stroke-width="1.25"/>
<line x1="181.9" y1="576" x2="181.9" y2="572.4" stroke="#333" stroke-width="1"/>
<line x1="178.7" y1="572.4" x2="185.1" y2="572.4" stroke="#333" stroke-width="1"/>
<circle cx="180.7" cy="577" r="1.05" fill="#111"/>
<circle cx="181.7" cy="570.4" r="1.05" fill="#111"/>
<circle cx="181.1" cy="587.3" r="1.05" fill="#111"/>
<circle cx="180.8" cy="569" r="1.05" fill="#111"/>
<circle cx="182.5" cy="584.2" r="1.05" fill="#111"/>
<circle cx="180.6" cy="571.4" r="1.05" fill="#111"/>
<circle cx="181.7" cy="586.3" r="1.05" fill="#111"/>
<line x1="92.1" y1="628.2" x2="92.1" y2="630.4" stroke="#5a5a5a" stroke-width="0.9"/>
<line x1="132.2" y1="628.2" x2="132.2" y2="630.4" stroke="#5a5a5a" stroke-width="0.9"/>
<line x1="172.1" y1="628.2" x2="172.1" y2="630.4" stroke="#5a5a5a" stroke-width="0.9"/>
<polyline points="79.4,561.3 80,560 93.2,560 93.8,561.3" stroke="#8a8a8a" stroke-width="1" fill="none"/>
<text x="86.6" y="562.1" font-size="10" font-weight="normal" text-anchor="middle" fill="#444">*</text>
<polyline points="118.2,561.3 118.8,560 133,560 133.6,561.3" stroke="#8a8a8a" stroke-width="1" fill="none"/>
<text x="125.9" y="562.1" font-size="10" font-weight="normal" text-anchor="middle" fill="#444">*</text>
<polyline points="158,561.3 158.6,560 172.6,560 173.2,561.3" stroke="#8a8a8a" stroke-width="1" fill="none"/>
<text x="165.6" y="562.1" font-size="10" font-weight="normal" text-anchor="middle" fill="#444">*</text>
<text transform="translate(50.6,586.8) rotate(-90)" font-size="8.6" font-weight="bold" text-anchor="middle" dominant-baseline="central" fill="#111">Relative mRNA level</text>
<text x="91.9" y="640.2" font-size="7.4" font-weight="bold" text-anchor="middle" fill="#222">CYP4A1</text>
<text x="132" y="640.2" font-size="7.4" font-weight="bold" text-anchor="middle" fill="#222">LCADH</text>
<text x="171.6" y="640.2" font-size="7.4" font-weight="bold" text-anchor="middle" fill="#222">LCALDH</text>
<rect x="251.5" y="534.8" width="10.2" height="5.9" fill="#fff" stroke="#6a6a6a" stroke-width="1.1"/>
<text x="265" y="540.5" font-size="7.6" font-weight="bold" text-anchor="start" fill="#222">N</text>
<rect x="273" y="534.8" width="9.8" height="5.9" fill="#c6c6c6" stroke="#6a6a6a" stroke-width="1.1"/>
<text x="286.3" y="540.5" font-size="7.6" font-weight="bold" text-anchor="start" fill="#222">F</text>
<line x1="250" y1="543.6" x2="250" y2="628.8" stroke="#5a5a5a" stroke-width="1.3"/>
<line x1="249.4" y1="628.2" x2="371.3" y2="628.2" stroke="#5a5a5a" stroke-width="1.3"/>
<line x1="247.4" y1="543.9" x2="250" y2="543.9" stroke="#5a5a5a" stroke-width="1"/>
<text x="247.6" y="546.9" font-size="8.2" font-weight="normal" text-anchor="end" fill="#444">100</text>
<line x1="247.4" y1="565" x2="250" y2="565" stroke="#5a5a5a" stroke-width="1"/>
<text x="247.6" y="567.9" font-size="8.2" font-weight="normal" text-anchor="end" fill="#444">75</text>
<line x1="247.4" y1="586" x2="250" y2="586" stroke="#5a5a5a" stroke-width="1"/>
<text x="247.6" y="589" font-size="8.2" font-weight="normal" text-anchor="end" fill="#444">50</text>
<line x1="247.4" y1="607.1" x2="250" y2="607.1" stroke="#5a5a5a" stroke-width="1"/>
<text x="247.6" y="610.1" font-size="8.2" font-weight="normal" text-anchor="end" fill="#444">25</text>
<line x1="247.4" y1="628.2" x2="250" y2="628.2" stroke="#5a5a5a" stroke-width="1"/>
<text x="247.6" y="631.2" font-size="8.2" font-weight="normal" text-anchor="end" fill="#444">0</text>
<line x1="262.2" y1="628.2" x2="262.2" y2="630.4" stroke="#5a5a5a" stroke-width="0.9"/>
<rect x="258.4" y="615.1" width="7.6" height="13.1" fill="#ffffff" stroke="#6a6a6a" stroke-width="1.25"/>
<line x1="262.2" y1="614.5" x2="262.2" y2="613.1" stroke="#333" stroke-width="1"/>
<line x1="259.4" y1="613.1" x2="265" y2="613.1" stroke="#333" stroke-width="1"/>
<circle cx="260.8" cy="610.5" r="1.05" fill="#111"/>
<circle cx="263.6" cy="613.7" r="1.05" fill="#111"/>
<circle cx="262.6" cy="616.9" r="1.05" fill="#111"/>
<line x1="286.5" y1="628.2" x2="286.5" y2="630.4" stroke="#5a5a5a" stroke-width="0.9"/>
<rect x="282.4" y="601.8" width="8.1" height="26.4" fill="#c6c6c6" stroke="#6a6a6a" stroke-width="1.25"/>
<line x1="286.5" y1="601.2" x2="286.5" y2="598" stroke="#333" stroke-width="1"/>
<line x1="283.5" y1="598" x2="289.4" y2="598" stroke="#333" stroke-width="1"/>
<circle cx="287.4" cy="595.3" r="1.05" fill="#111"/>
<circle cx="285.1" cy="597.7" r="1.05" fill="#111"/>
<circle cx="287.6" cy="600.9" r="1.05" fill="#111"/>
<circle cx="285.1" cy="605.7" r="1.05" fill="#111"/>
<circle cx="287.6" cy="612.9" r="1.05" fill="#111"/>
<line x1="310.9" y1="628.2" x2="310.9" y2="630.4" stroke="#5a5a5a" stroke-width="0.9"/>
<rect x="306.8" y="622.3" width="8.1" height="5.9" fill="#c6c6c6" stroke="#6a6a6a" stroke-width="1.25"/>
<line x1="310.9" y1="621.7" x2="310.9" y2="620.5" stroke="#333" stroke-width="1"/>
<line x1="307.9" y1="620.5" x2="313.8" y2="620.5" stroke="#333" stroke-width="1"/>
<circle cx="310.7" cy="620.1" r="1.05" fill="#111"/>
<circle cx="310.3" cy="621" r="1.05" fill="#111"/>
<circle cx="311" cy="622.5" r="1.05" fill="#111"/>
<line x1="335" y1="628.2" x2="335" y2="630.4" stroke="#5a5a5a" stroke-width="0.9"/>
<rect x="330.9" y="580.3" width="8.1" height="47.9" fill="#c6c6c6" stroke="#6a6a6a" stroke-width="1.25"/>
<line x1="335" y1="579.7" x2="335" y2="574.8" stroke="#333" stroke-width="1"/>
<line x1="332" y1="574.8" x2="337.9" y2="574.8" stroke="#333" stroke-width="1"/>
<circle cx="336.3" cy="567.2" r="1.05" fill="#111"/>
<circle cx="334.2" cy="569.1" r="1.05" fill="#111"/>
<circle cx="333.8" cy="575.2" r="1.05" fill="#111"/>
<circle cx="335" cy="580" r="1.05" fill="#111"/>
<circle cx="334.1" cy="583.2" r="1.05" fill="#111"/>
<circle cx="333.7" cy="588.1" r="1.05" fill="#111"/>
<circle cx="333.9" cy="595.3" r="1.05" fill="#111"/>
<line x1="359" y1="628.2" x2="359" y2="630.4" stroke="#5a5a5a" stroke-width="0.9"/>
<rect x="354.9" y="614.3" width="8.1" height="13.9" fill="#c6c6c6" stroke="#6a6a6a" stroke-width="1.25"/>
<line x1="359" y1="613.7" x2="359" y2="611.8" stroke="#333" stroke-width="1"/>
<line x1="356" y1="611.8" x2="361.9" y2="611.8" stroke="#333" stroke-width="1"/>
<circle cx="357.5" cy="609.7" r="1.05" fill="#111"/>
<circle cx="358" cy="612.1" r="1.05" fill="#111"/>
<circle cx="358.3" cy="615.3" r="1.05" fill="#111"/>
<circle cx="358.3" cy="618.2" r="1.05" fill="#111"/>
<polyline points="285.8,552 286.4,550.7 332.6,550.7 333.2,552" stroke="#8a8a8a" stroke-width="1" fill="none"/>
<text x="309.5" y="552.8" font-size="10" font-weight="normal" text-anchor="middle" fill="#444">*</text>
<polyline points="336,552 336.6,550.7 359.5,550.7 360.1,552" stroke="#8a8a8a" stroke-width="1" fill="none"/>
<text x="348.1" y="552.8" font-size="10" font-weight="normal" text-anchor="middle" fill="#444">*</text>
<polyline points="259,560.2 259.6,558.9 282,558.9 282.6,560.2" stroke="#8a8a8a" stroke-width="1" fill="none"/>
<text x="270.8" y="561" font-size="10" font-weight="normal" text-anchor="middle" fill="#444">*</text>
<polyline points="285.8,560.2 286.4,558.9 309,558.9 309.6,560.2" stroke="#8a8a8a" stroke-width="1" fill="none"/>
<text x="297.7" y="561" font-size="10" font-weight="normal" text-anchor="middle" fill="#444">*</text>
<text transform="translate(214,586.8) rotate(-90)" font-size="8.6" font-weight="bold" text-anchor="middle" dominant-baseline="central" fill="#111">Liver ADH activity</text>
<text transform="translate(225.7,586.8) rotate(-90)" font-size="8.6" font-weight="bold" text-anchor="middle" dominant-baseline="central" fill="#111">(nmol/min/mg protein)</text>
<text x="250.5" y="639.4" font-size="6.8" font-weight="bold" text-anchor="end" fill="#111">CFB</text>
<text x="262.2" y="640.2" font-size="8.8" font-weight="bold" text-anchor="middle" fill="#222">–</text>
<text x="286.5" y="640.2" font-size="8.8" font-weight="bold" text-anchor="middle" fill="#222">–</text>
<text x="310.9" y="640.2" font-size="8.8" font-weight="bold" text-anchor="middle" fill="#222">–</text>
<text x="335" y="640.2" font-size="8.8" font-weight="bold" text-anchor="middle" fill="#222">+</text>
<text x="359" y="640.2" font-size="8.8" font-weight="bold" text-anchor="middle" fill="#222">+</text>
<text x="250.5" y="649.4" font-size="6.8" font-weight="bold" text-anchor="end" fill="#111">4-MP</text>
<text x="262.2" y="650.2" font-size="8.8" font-weight="bold" text-anchor="middle" fill="#222">–</text>
<text x="286.5" y="650.2" font-size="8.8" font-weight="bold" text-anchor="middle" fill="#222">–</text>
<text x="310.9" y="650.2" font-size="8.8" font-weight="bold" text-anchor="middle" fill="#222">+</text>
<text x="335" y="650.2" font-size="8.8" font-weight="bold" text-anchor="middle" fill="#222">–</text>
<text x="359" y="650.2" font-size="8.8" font-weight="bold" text-anchor="middle" fill="#222">+</text>
<rect x="441.1" y="534.8" width="10.2" height="5.9" fill="#fff" stroke="#6a6a6a" stroke-width="1.1"/>
<text x="454.6" y="540.5" font-size="7.6" font-weight="bold" text-anchor="start" fill="#222">N</text>
<rect x="462.6" y="534.8" width="9.8" height="5.9" fill="#c6c6c6" stroke="#6a6a6a" stroke-width="1.1"/>
<text x="475.9" y="540.5" font-size="7.6" font-weight="bold" text-anchor="start" fill="#222">F</text>
<line x1="439.7" y1="543.6" x2="439.7" y2="628.8" stroke="#5a5a5a" stroke-width="1.3"/>
<line x1="439.1" y1="628.2" x2="561.7" y2="628.2" stroke="#5a5a5a" stroke-width="1.3"/>
<line x1="437.1" y1="543.9" x2="439.7" y2="543.9" stroke="#5a5a5a" stroke-width="1"/>
<text x="437.3" y="546.9" font-size="8.2" font-weight="normal" text-anchor="end" fill="#444">3</text>
<line x1="437.1" y1="572" x2="439.7" y2="572" stroke="#5a5a5a" stroke-width="1"/>
<text x="437.3" y="575" font-size="8.2" font-weight="normal" text-anchor="end" fill="#444">2</text>
<line x1="437.1" y1="600.1" x2="439.7" y2="600.1" stroke="#5a5a5a" stroke-width="1"/>
<text x="437.3" y="603.1" font-size="8.2" font-weight="normal" text-anchor="end" fill="#444">1</text>
<line x1="437.1" y1="628.2" x2="439.7" y2="628.2" stroke="#5a5a5a" stroke-width="1"/>
<text x="437.3" y="631.2" font-size="8.2" font-weight="normal" text-anchor="end" fill="#444">0</text>
<line x1="452.6" y1="628.2" x2="452.6" y2="630.4" stroke="#5a5a5a" stroke-width="0.9"/>
<rect x="448.8" y="622" width="7.6" height="6.2" fill="#ffffff" stroke="#6a6a6a" stroke-width="1.25"/>
<line x1="452.6" y1="621.4" x2="452.6" y2="620.2" stroke="#333" stroke-width="1"/>
<line x1="449.8" y1="620.2" x2="455.4" y2="620.2" stroke="#333" stroke-width="1"/>
<circle cx="453.4" cy="622" r="1.05" fill="#111"/>
<circle cx="451.6" cy="621.1" r="1.05" fill="#111"/>
<circle cx="452.1" cy="622.6" r="1.05" fill="#111"/>
<circle cx="451" cy="622.2" r="1.05" fill="#111"/>
<circle cx="453.3" cy="621.5" r="1.05" fill="#111"/>
<circle cx="452.5" cy="620.7" r="1.05" fill="#111"/>
<circle cx="454" cy="621.2" r="1.05" fill="#111"/>
<line x1="476.6" y1="628.2" x2="476.6" y2="630.4" stroke="#5a5a5a" stroke-width="0.9"/>
<rect x="472.8" y="608.7" width="7.7" height="19.5" fill="#c6c6c6" stroke="#6a6a6a" stroke-width="1.25"/>
<line x1="476.6" y1="608.1" x2="476.6" y2="606.5" stroke="#333" stroke-width="1"/>
<line x1="473.8" y1="606.5" x2="479.5" y2="606.5" stroke="#333" stroke-width="1"/>
<circle cx="476.4" cy="612.8" r="1.05" fill="#111"/>
<circle cx="476.6" cy="611.8" r="1.05" fill="#111"/>
<circle cx="476.7" cy="609.7" r="1.05" fill="#111"/>
<circle cx="477.3" cy="605.3" r="1.05" fill="#111"/>
<circle cx="477.7" cy="611.1" r="1.05" fill="#111"/>
<circle cx="477.3" cy="607.8" r="1.05" fill="#111"/>
<circle cx="476.2" cy="605.9" r="1.05" fill="#111"/>
<line x1="500.9" y1="628.2" x2="500.9" y2="630.4" stroke="#5a5a5a" stroke-width="0.9"/>
<rect x="496.9" y="618" width="8" height="10.2" fill="#c6c6c6" stroke="#6a6a6a" stroke-width="1.25"/>
<line x1="500.9" y1="617.4" x2="500.9" y2="616.2" stroke="#333" stroke-width="1"/>
<line x1="498" y1="616.2" x2="503.8" y2="616.2" stroke="#333" stroke-width="1"/>
<circle cx="499.5" cy="616.2" r="1.05" fill="#111"/>
<circle cx="501.7" cy="617.8" r="1.05" fill="#111"/>
<circle cx="500.1" cy="617.9" r="1.05" fill="#111"/>
<circle cx="502" cy="617.8" r="1.05" fill="#111"/>
<circle cx="502.1" cy="618" r="1.05" fill="#111"/>
<circle cx="500.1" cy="616.8" r="1.05" fill="#111"/>
<circle cx="500.2" cy="616.2" r="1.05" fill="#111"/>
<line x1="525.6" y1="628.2" x2="525.6" y2="630.4" stroke="#5a5a5a" stroke-width="0.9"/>
<rect x="521.8" y="583" width="7.6" height="45.2" fill="#c6c6c6" stroke="#6a6a6a" stroke-width="1.25"/>
<line x1="525.6" y1="582.4" x2="525.6" y2="578.1" stroke="#333" stroke-width="1"/>
<line x1="522.8" y1="578.1" x2="528.4" y2="578.1" stroke="#333" stroke-width="1"/>
<circle cx="525.4" cy="577.5" r="1.05" fill="#111"/>
<circle cx="524.8" cy="583.7" r="1.05" fill="#111"/>
<circle cx="525.8" cy="601.1" r="1.05" fill="#111"/>
<circle cx="524.8" cy="576.9" r="1.05" fill="#111"/>
<circle cx="525.1" cy="589.7" r="1.05" fill="#111"/>
<circle cx="524" cy="580.8" r="1.05" fill="#111"/>
<circle cx="525.6" cy="575.2" r="1.05" fill="#111"/>
<line x1="549.4" y1="628.2" x2="549.4" y2="630.4" stroke="#5a5a5a" stroke-width="0.9"/>
<rect x="545.6" y="609.8" width="7.6" height="18.4" fill="#c6c6c6" stroke="#6a6a6a" stroke-width="1.25"/>
<line x1="549.4" y1="609.2" x2="549.4" y2="607.6" stroke="#333" stroke-width="1"/>
<line x1="546.6" y1="607.6" x2="552.2" y2="607.6" stroke="#333" stroke-width="1"/>
<circle cx="548.4" cy="611.7" r="1.05" fill="#111"/>
<circle cx="548.6" cy="608.9" r="1.05" fill="#111"/>
<circle cx="548.1" cy="609.2" r="1.05" fill="#111"/>
<circle cx="547.9" cy="608.4" r="1.05" fill="#111"/>
<circle cx="548.8" cy="609.8" r="1.05" fill="#111"/>
<circle cx="549.5" cy="609.7" r="1.05" fill="#111"/>
<circle cx="550.2" cy="613.5" r="1.05" fill="#111"/>
<polyline points="476,552 476.6,550.7 522.7,550.7 523.3,552" stroke="#8a8a8a" stroke-width="1" fill="none"/>
<text x="499.6" y="552.8" font-size="10" font-weight="normal" text-anchor="middle" fill="#444">*</text>
<polyline points="525.7,552 526.3,550.7 549.1,550.7 549.7,552" stroke="#8a8a8a" stroke-width="1" fill="none"/>
<text x="537.7" y="552.8" font-size="10" font-weight="normal" text-anchor="middle" fill="#444">*</text>
<polyline points="450.6,560.2 451.2,558.9 473.3,558.9 473.9,560.2" stroke="#8a8a8a" stroke-width="1" fill="none"/>
<text x="462.2" y="561" font-size="10" font-weight="normal" text-anchor="middle" fill="#444">*</text>
<polyline points="476.3,560.2 476.9,558.9 498.9,558.9 499.5,560.2" stroke="#8a8a8a" stroke-width="1" fill="none"/>
<text x="487.9" y="561" font-size="10" font-weight="normal" text-anchor="middle" fill="#444">*</text>
<text transform="translate(409.7,586.8) rotate(-90)" font-size="8.6" font-weight="bold" text-anchor="middle" dominant-baseline="central" fill="#111">Liver LC-DCAs</text>
<text transform="translate(422.9,586.8) rotate(-90)" font-size="8.6" font-weight="bold" text-anchor="middle" dominant-baseline="central" fill="#111">(μmol/g liver)</text>
<text x="440.2" y="639.4" font-size="6.8" font-weight="bold" text-anchor="end" fill="#111">CFB</text>
<text x="452.6" y="640.2" font-size="8.8" font-weight="bold" text-anchor="middle" fill="#222">–</text>
<text x="476.6" y="640.2" font-size="8.8" font-weight="bold" text-anchor="middle" fill="#222">–</text>
<text x="500.9" y="640.2" font-size="8.8" font-weight="bold" text-anchor="middle" fill="#222">–</text>
<text x="525.6" y="640.2" font-size="8.8" font-weight="bold" text-anchor="middle" fill="#222">+</text>
<text x="549.4" y="640.2" font-size="8.8" font-weight="bold" text-anchor="middle" fill="#222">+</text>
<text x="440.2" y="649.4" font-size="6.8" font-weight="bold" text-anchor="end" fill="#111">4-MP</text>
<text x="452.6" y="650.2" font-size="8.8" font-weight="bold" text-anchor="middle" fill="#222">–</text>
<text x="476.6" y="650.2" font-size="8.8" font-weight="bold" text-anchor="middle" fill="#222">–</text>
<text x="500.9" y="650.2" font-size="8.8" font-weight="bold" text-anchor="middle" fill="#222">+</text>
<text x="525.6" y="650.2" font-size="8.8" font-weight="bold" text-anchor="middle" fill="#222">–</text>
<text x="549.4" y="650.2" font-size="8.8" font-weight="bold" text-anchor="middle" fill="#222">+</text>
<rect x="72.2" y="683" width="10.2" height="5.5" fill="#fff" stroke="#6a6a6a" stroke-width="1.1"/>
<text x="85.7" y="688.5" font-size="7.6" font-weight="bold" text-anchor="start" fill="#222">N</text>
<rect x="93.7" y="683" width="9.8" height="5.5" fill="#c6c6c6" stroke="#6a6a6a" stroke-width="1.1"/>
<text x="107" y="688.5" font-size="7.6" font-weight="bold" text-anchor="start" fill="#222">F</text>
<line x1="71.7" y1="691.8" x2="71.7" y2="777.8" stroke="#5a5a5a" stroke-width="1.3"/>
<line x1="71.1" y1="777.2" x2="193" y2="777.2" stroke="#5a5a5a" stroke-width="1.3"/>
<line x1="69.1" y1="692.1" x2="71.7" y2="692.1" stroke="#5a5a5a" stroke-width="1"/>
<text x="69.3" y="695.1" font-size="8.2" font-weight="normal" text-anchor="end" fill="#444">12</text>
<line x1="69.1" y1="720.5" x2="71.7" y2="720.5" stroke="#5a5a5a" stroke-width="1"/>
<text x="69.3" y="723.4" font-size="8.2" font-weight="normal" text-anchor="end" fill="#444">8</text>
<line x1="69.1" y1="748.8" x2="71.7" y2="748.8" stroke="#5a5a5a" stroke-width="1"/>
<text x="69.3" y="751.8" font-size="8.2" font-weight="normal" text-anchor="end" fill="#444">4</text>
<line x1="69.1" y1="777.2" x2="71.7" y2="777.2" stroke="#5a5a5a" stroke-width="1"/>
<text x="69.3" y="780.2" font-size="8.2" font-weight="normal" text-anchor="end" fill="#444">0</text>
<line x1="84.2" y1="777.2" x2="84.2" y2="779.4" stroke="#5a5a5a" stroke-width="0.9"/>
<rect x="80.3" y="770.6" width="7.8" height="6.6" fill="#ffffff" stroke="#6a6a6a" stroke-width="1.25"/>
<line x1="84.2" y1="770" x2="84.2" y2="768.8" stroke="#333" stroke-width="1"/>
<line x1="81.3" y1="768.8" x2="87.1" y2="768.8" stroke="#333" stroke-width="1"/>
<circle cx="85.4" cy="769.1" r="1.05" fill="#111"/>
<circle cx="83.8" cy="768.6" r="1.05" fill="#111"/>
<circle cx="83.1" cy="768.6" r="1.05" fill="#111"/>
<circle cx="84.9" cy="772.3" r="1.05" fill="#111"/>
<circle cx="85.3" cy="769.8" r="1.05" fill="#111"/>
<circle cx="85.5" cy="769.7" r="1.05" fill="#111"/>
<circle cx="85.2" cy="768.8" r="1.05" fill="#111"/>
<line x1="108.1" y1="777.2" x2="108.1" y2="779.4" stroke="#5a5a5a" stroke-width="0.9"/>
<rect x="104" y="755.8" width="8.1" height="21.4" fill="#c6c6c6" stroke="#6a6a6a" stroke-width="1.25"/>
<line x1="108.1" y1="755.2" x2="108.1" y2="753" stroke="#333" stroke-width="1"/>
<line x1="105.1" y1="753" x2="111" y2="753" stroke="#333" stroke-width="1"/>
<circle cx="106.9" cy="750.2" r="1.05" fill="#111"/>
<circle cx="109.1" cy="750.1" r="1.05" fill="#111"/>
<circle cx="109" cy="754.4" r="1.05" fill="#111"/>
<circle cx="109.3" cy="757.8" r="1.05" fill="#111"/>
<circle cx="108.6" cy="750.1" r="1.05" fill="#111"/>
<circle cx="106.5" cy="754.1" r="1.05" fill="#111"/>
<circle cx="106.9" cy="752.3" r="1.05" fill="#111"/>
<line x1="132.3" y1="777.2" x2="132.3" y2="779.4" stroke="#5a5a5a" stroke-width="0.9"/>
<rect x="128.4" y="763" width="7.8" height="14.2" fill="#c6c6c6" stroke="#6a6a6a" stroke-width="1.25"/>
<line x1="132.3" y1="762.4" x2="132.3" y2="761.2" stroke="#333" stroke-width="1"/>
<line x1="129.4" y1="761.2" x2="135.2" y2="761.2" stroke="#333" stroke-width="1"/>
<circle cx="133.4" cy="761.7" r="1.05" fill="#111"/>
<circle cx="132.5" cy="763.2" r="1.05" fill="#111"/>
<circle cx="132.9" cy="760.3" r="1.05" fill="#111"/>
<circle cx="132.3" cy="760.2" r="1.05" fill="#111"/>
<circle cx="133.1" cy="766.3" r="1.05" fill="#111"/>
<circle cx="132.3" cy="762.5" r="1.05" fill="#111"/>
<circle cx="130.9" cy="759.3" r="1.05" fill="#111"/>
<line x1="156.4" y1="777.2" x2="156.4" y2="779.4" stroke="#5a5a5a" stroke-width="0.9"/>
<rect x="152.5" y="726.8" width="7.8" height="50.4" fill="#c6c6c6" stroke="#6a6a6a" stroke-width="1.25"/>
<line x1="156.4" y1="726.2" x2="156.4" y2="721.3" stroke="#333" stroke-width="1"/>
<line x1="153.5" y1="721.3" x2="159.3" y2="721.3" stroke="#333" stroke-width="1"/>
<circle cx="157.2" cy="723.1" r="1.05" fill="#111"/>
<circle cx="155.6" cy="726.1" r="1.05" fill="#111"/>
<circle cx="157.1" cy="730" r="1.05" fill="#111"/>
<circle cx="157.9" cy="730.6" r="1.05" fill="#111"/>
<circle cx="156.4" cy="741.5" r="1.05" fill="#111"/>
<circle cx="157" cy="718" r="1.05" fill="#111"/>
<circle cx="157.3" cy="733.7" r="1.05" fill="#111"/>
<line x1="181" y1="777.2" x2="181" y2="779.4" stroke="#5a5a5a" stroke-width="0.9"/>
<rect x="177" y="751.8" width="8" height="25.4" fill="#c6c6c6" stroke="#6a6a6a" stroke-width="1.25"/>
<line x1="181" y1="751.2" x2="181" y2="749.6" stroke="#333" stroke-width="1"/>
<line x1="178.1" y1="749.6" x2="183.9" y2="749.6" stroke="#333" stroke-width="1"/>
<circle cx="179.6" cy="747.8" r="1.05" fill="#111"/>
<circle cx="179.9" cy="748.1" r="1.05" fill="#111"/>
<circle cx="180.4" cy="751.1" r="1.05" fill="#111"/>
<circle cx="181.2" cy="756.5" r="1.05" fill="#111"/>
<circle cx="180.3" cy="752.3" r="1.05" fill="#111"/>
<circle cx="181.6" cy="751.3" r="1.05" fill="#111"/>
<circle cx="180.3" cy="749.5" r="1.05" fill="#111"/>
<polyline points="107,700.7 107.6,699.4 154.2,699.4 154.8,700.7" stroke="#8a8a8a" stroke-width="1" fill="none"/>
<text x="130.9" y="701.5" font-size="10" font-weight="normal" text-anchor="middle" fill="#444">*</text>
<polyline points="156.4,700.7 157,699.4 179.4,699.4 180,700.7" stroke="#8a8a8a" stroke-width="1" fill="none"/>
<text x="168.2" y="701.5" font-size="10" font-weight="normal" text-anchor="middle" fill="#444">*</text>
<polyline points="82.2,707.4 82.8,706.1 105.2,706.1 105.8,707.4" stroke="#8a8a8a" stroke-width="1" fill="none"/>
<text x="94" y="708.2" font-size="10" font-weight="normal" text-anchor="middle" fill="#444">*</text>
<polyline points="107,707.4 107.6,706.1 130.1,706.1 130.7,707.4" stroke="#8a8a8a" stroke-width="1" fill="none"/>
<text x="118.8" y="708.2" font-size="10" font-weight="normal" text-anchor="middle" fill="#444">*</text>
<text transform="translate(47.7,735.5) rotate(-90)" font-size="8.6" font-weight="bold" text-anchor="middle" dominant-baseline="central" fill="#111">mRNA level of ACSLC</text>
<text x="72.2" y="788.1" font-size="6.8" font-weight="bold" text-anchor="end" fill="#111">CFB</text>
<text x="84.2" y="788.9" font-size="8.8" font-weight="bold" text-anchor="middle" fill="#222">–</text>
<text x="108.1" y="788.9" font-size="8.8" font-weight="bold" text-anchor="middle" fill="#222">–</text>
<text x="132.3" y="788.9" font-size="8.8" font-weight="bold" text-anchor="middle" fill="#222">–</text>
<text x="156.4" y="788.9" font-size="8.8" font-weight="bold" text-anchor="middle" fill="#222">+</text>
<text x="181" y="788.9" font-size="8.8" font-weight="bold" text-anchor="middle" fill="#222">+</text>
<text x="72.2" y="797.7" font-size="6.8" font-weight="bold" text-anchor="end" fill="#111">4-MP</text>
<text x="84.2" y="798.5" font-size="8.8" font-weight="bold" text-anchor="middle" fill="#222">–</text>
<text x="108.1" y="798.5" font-size="8.8" font-weight="bold" text-anchor="middle" fill="#222">–</text>
<text x="132.3" y="798.5" font-size="8.8" font-weight="bold" text-anchor="middle" fill="#222">+</text>
<text x="156.4" y="798.5" font-size="8.8" font-weight="bold" text-anchor="middle" fill="#222">–</text>
<text x="181" y="798.5" font-size="8.8" font-weight="bold" text-anchor="middle" fill="#222">+</text>
<rect x="249.9" y="683" width="10.2" height="5.5" fill="#fff" stroke="#6a6a6a" stroke-width="1.1"/>
<text x="263.4" y="688.5" font-size="7.6" font-weight="bold" text-anchor="start" fill="#222">N</text>
<rect x="271.4" y="683" width="9.8" height="5.5" fill="#c6c6c6" stroke="#6a6a6a" stroke-width="1.1"/>
<text x="284.7" y="688.5" font-size="7.6" font-weight="bold" text-anchor="start" fill="#222">F</text>
<line x1="248.9" y1="691.8" x2="248.9" y2="777.8" stroke="#5a5a5a" stroke-width="1.3"/>
<line x1="248.3" y1="777.2" x2="370.4" y2="777.2" stroke="#5a5a5a" stroke-width="1.3"/>
<line x1="246.3" y1="692.1" x2="248.9" y2="692.1" stroke="#5a5a5a" stroke-width="1"/>
<text x="246.5" y="695.1" font-size="8.2" font-weight="normal" text-anchor="end" fill="#444">12</text>
<line x1="246.3" y1="720.5" x2="248.9" y2="720.5" stroke="#5a5a5a" stroke-width="1"/>
<text x="246.5" y="723.4" font-size="8.2" font-weight="normal" text-anchor="end" fill="#444">8</text>
<line x1="246.3" y1="748.8" x2="248.9" y2="748.8" stroke="#5a5a5a" stroke-width="1"/>
<text x="246.5" y="751.8" font-size="8.2" font-weight="normal" text-anchor="end" fill="#444">4</text>
<line x1="246.3" y1="777.2" x2="248.9" y2="777.2" stroke="#5a5a5a" stroke-width="1"/>
<text x="246.5" y="780.2" font-size="8.2" font-weight="normal" text-anchor="end" fill="#444">0</text>
<line x1="261.1" y1="777.2" x2="261.1" y2="779.4" stroke="#5a5a5a" stroke-width="0.9"/>
<rect x="257.1" y="768.9" width="8.1" height="8.3" fill="#ffffff" stroke="#6a6a6a" stroke-width="1.25"/>
<line x1="261.1" y1="768.3" x2="261.1" y2="767.1" stroke="#333" stroke-width="1"/>
<line x1="258.2" y1="767.1" x2="264.1" y2="767.1" stroke="#333" stroke-width="1"/>
<circle cx="261.2" cy="766.8" r="1.05" fill="#111"/>
<circle cx="259.9" cy="767.1" r="1.05" fill="#111"/>
<circle cx="262.4" cy="768.6" r="1.05" fill="#111"/>
<circle cx="262.5" cy="769.2" r="1.05" fill="#111"/>
<circle cx="259.6" cy="770.6" r="1.05" fill="#111"/>
<circle cx="262.6" cy="766.4" r="1.05" fill="#111"/>
<circle cx="261" cy="768.8" r="1.05" fill="#111"/>
<line x1="285.4" y1="777.2" x2="285.4" y2="779.4" stroke="#5a5a5a" stroke-width="0.9"/>
<rect x="281.6" y="756.9" width="7.6" height="20.3" fill="#c6c6c6" stroke="#6a6a6a" stroke-width="1.25"/>
<line x1="285.4" y1="756.3" x2="285.4" y2="754.7" stroke="#333" stroke-width="1"/>
<line x1="282.6" y1="754.7" x2="288.2" y2="754.7" stroke="#333" stroke-width="1"/>
<circle cx="286.8" cy="756" r="1.05" fill="#111"/>
<circle cx="284.5" cy="758.5" r="1.05" fill="#111"/>
<circle cx="285.5" cy="754.7" r="1.05" fill="#111"/>
<circle cx="286.8" cy="755.4" r="1.05" fill="#111"/>
<circle cx="285.4" cy="760.3" r="1.05" fill="#111"/>
<circle cx="286.6" cy="760.7" r="1.05" fill="#111"/>
<circle cx="286.7" cy="755.6" r="1.05" fill="#111"/>
<line x1="309.9" y1="777.2" x2="309.9" y2="779.4" stroke="#5a5a5a" stroke-width="0.9"/>
<rect x="306" y="767" width="7.8" height="10.2" fill="#c6c6c6" stroke="#6a6a6a" stroke-width="1.25"/>
<line x1="309.9" y1="766.4" x2="309.9" y2="765.2" stroke="#333" stroke-width="1"/>
<line x1="307" y1="765.2" x2="312.8" y2="765.2" stroke="#333" stroke-width="1"/>
<circle cx="309.9" cy="765.3" r="1.05" fill="#111"/>
<circle cx="309.9" cy="766.5" r="1.05" fill="#111"/>
<circle cx="309.7" cy="766.4" r="1.05" fill="#111"/>
<circle cx="309.4" cy="766.1" r="1.05" fill="#111"/>
<circle cx="309.3" cy="767.2" r="1.05" fill="#111"/>
<circle cx="310.7" cy="766.5" r="1.05" fill="#111"/>
<circle cx="311" cy="766.3" r="1.05" fill="#111"/>
<line x1="334.1" y1="777.2" x2="334.1" y2="779.4" stroke="#5a5a5a" stroke-width="0.9"/>
<rect x="330.2" y="728.8" width="7.7" height="48.4" fill="#c6c6c6" stroke="#6a6a6a" stroke-width="1.25"/>
<line x1="334.1" y1="728.2" x2="334.1" y2="723.3" stroke="#333" stroke-width="1"/>
<line x1="331.2" y1="723.3" x2="336.9" y2="723.3" stroke="#333" stroke-width="1"/>
<circle cx="334.7" cy="744.4" r="1.05" fill="#111"/>
<circle cx="335.3" cy="743.4" r="1.05" fill="#111"/>
<circle cx="333.7" cy="725.9" r="1.05" fill="#111"/>
<circle cx="335.6" cy="737.3" r="1.05" fill="#111"/>
<circle cx="333.8" cy="720.4" r="1.05" fill="#111"/>
<circle cx="333.3" cy="723.3" r="1.05" fill="#111"/>
<circle cx="335.1" cy="732.5" r="1.05" fill="#111"/>
<line x1="358" y1="777.2" x2="358" y2="779.4" stroke="#5a5a5a" stroke-width="0.9"/>
<rect x="354.1" y="757.7" width="7.8" height="19.5" fill="#c6c6c6" stroke="#6a6a6a" stroke-width="1.25"/>
<line x1="358" y1="757.1" x2="358" y2="755.5" stroke="#333" stroke-width="1"/>
<line x1="355.1" y1="755.5" x2="360.9" y2="755.5" stroke="#333" stroke-width="1"/>
<circle cx="357.3" cy="757.5" r="1.05" fill="#111"/>
<circle cx="357.3" cy="759.4" r="1.05" fill="#111"/>
<circle cx="358" cy="756.1" r="1.05" fill="#111"/>
<circle cx="359.5" cy="758.3" r="1.05" fill="#111"/>
<circle cx="359.2" cy="760" r="1.05" fill="#111"/>
<circle cx="359.3" cy="758.8" r="1.05" fill="#111"/>
<circle cx="359.4" cy="752.9" r="1.05" fill="#111"/>
<polyline points="285,696.3 285.6,695 332.2,695 332.8,696.3" stroke="#8a8a8a" stroke-width="1" fill="none"/>
<text x="308.9" y="697.1" font-size="10" font-weight="normal" text-anchor="middle" fill="#444">*</text>
<polyline points="335.2,696.3 335.8,695 358.2,695 358.8,696.3" stroke="#8a8a8a" stroke-width="1" fill="none"/>
<text x="347" y="697.1" font-size="10" font-weight="normal" text-anchor="middle" fill="#444">*</text>
<polyline points="259.7,703.5 260.3,702.2 282.8,702.2 283.4,703.5" stroke="#8a8a8a" stroke-width="1" fill="none"/>
<text x="271.5" y="704.3" font-size="10" font-weight="normal" text-anchor="middle" fill="#444">*</text>
<polyline points="285,703.5 285.6,702.2 308.2,702.2 308.8,703.5" stroke="#8a8a8a" stroke-width="1" fill="none"/>
<text x="296.9" y="704.3" font-size="10" font-weight="normal" text-anchor="middle" fill="#444">*</text>
<text transform="translate(228.5,735.5) rotate(-90)" font-size="8.6" font-weight="bold" text-anchor="middle" dominant-baseline="central" fill="#111">mRNA level of ABCD1</text>
<text x="249.4" y="788.1" font-size="6.8" font-weight="bold" text-anchor="end" fill="#111">CFB</text>
<text x="261.1" y="788.9" font-size="8.8" font-weight="bold" text-anchor="middle" fill="#222">–</text>
<text x="285.4" y="788.9" font-size="8.8" font-weight="bold" text-anchor="middle" fill="#222">–</text>
<text x="309.9" y="788.9" font-size="8.8" font-weight="bold" text-anchor="middle" fill="#222">–</text>
<text x="334.1" y="788.9" font-size="8.8" font-weight="bold" text-anchor="middle" fill="#222">+</text>
<text x="358" y="788.9" font-size="8.8" font-weight="bold" text-anchor="middle" fill="#222">+</text>
<text x="249.4" y="797.7" font-size="6.8" font-weight="bold" text-anchor="end" fill="#111">4-MP</text>
<text x="261.1" y="798.5" font-size="8.8" font-weight="bold" text-anchor="middle" fill="#222">–</text>
<text x="285.4" y="798.5" font-size="8.8" font-weight="bold" text-anchor="middle" fill="#222">–</text>
<text x="309.9" y="798.5" font-size="8.8" font-weight="bold" text-anchor="middle" fill="#222">+</text>
<text x="334.1" y="798.5" font-size="8.8" font-weight="bold" text-anchor="middle" fill="#222">–</text>
<text x="358" y="798.5" font-size="8.8" font-weight="bold" text-anchor="middle" fill="#222">+</text>
<rect x="441.1" y="678.2" width="10.2" height="5.4" fill="#fff" stroke="#6a6a6a" stroke-width="1.1"/>
<text x="454.6" y="683.6" font-size="7.6" font-weight="bold" text-anchor="start" fill="#222">N</text>
<rect x="462.6" y="678.2" width="9.8" height="5.4" fill="#c6c6c6" stroke="#6a6a6a" stroke-width="1.1"/>
<text x="475.9" y="683.6" font-size="7.6" font-weight="bold" text-anchor="start" fill="#222">F</text>
<line x1="440.2" y1="687.5" x2="440.2" y2="772.5" stroke="#5a5a5a" stroke-width="1.3"/>
<line x1="439.6" y1="771.9" x2="561.7" y2="771.9" stroke="#5a5a5a" stroke-width="1.3"/>
<line x1="437.6" y1="687.8" x2="440.2" y2="687.8" stroke="#5a5a5a" stroke-width="1"/>
<text x="437.8" y="690.8" font-size="8.2" font-weight="normal" text-anchor="end" fill="#444">15</text>
<line x1="437.6" y1="715.8" x2="440.2" y2="715.8" stroke="#5a5a5a" stroke-width="1"/>
<text x="437.8" y="718.8" font-size="8.2" font-weight="normal" text-anchor="end" fill="#444">10</text>
<line x1="437.6" y1="743.9" x2="440.2" y2="743.9" stroke="#5a5a5a" stroke-width="1"/>
<text x="437.8" y="746.8" font-size="8.2" font-weight="normal" text-anchor="end" fill="#444">5</text>
<line x1="437.6" y1="771.9" x2="440.2" y2="771.9" stroke="#5a5a5a" stroke-width="1"/>
<text x="437.8" y="774.9" font-size="8.2" font-weight="normal" text-anchor="end" fill="#444">0</text>
<line x1="452.9" y1="771.9" x2="452.9" y2="774.1" stroke="#5a5a5a" stroke-width="0.9"/>
<rect x="448.8" y="766.6" width="8.1" height="5.3" fill="#ffffff" stroke="#6a6a6a" stroke-width="1.25"/>
<line x1="452.9" y1="766" x2="452.9" y2="764.8" stroke="#333" stroke-width="1"/>
<line x1="449.9" y1="764.8" x2="455.8" y2="764.8" stroke="#333" stroke-width="1"/>
<circle cx="451.4" cy="764.4" r="1.05" fill="#111"/>
<circle cx="453.6" cy="765.5" r="1.05" fill="#111"/>
<circle cx="453.3" cy="764.3" r="1.05" fill="#111"/>
<circle cx="452.2" cy="766.5" r="1.05" fill="#111"/>
<circle cx="451.7" cy="768.3" r="1.05" fill="#111"/>
<circle cx="452.8" cy="766.7" r="1.05" fill="#111"/>
<circle cx="453.6" cy="765.5" r="1.05" fill="#111"/>
<line x1="476.8" y1="771.9" x2="476.8" y2="774.1" stroke="#5a5a5a" stroke-width="0.9"/>
<rect x="472.8" y="748.6" width="8" height="23.3" fill="#c6c6c6" stroke="#6a6a6a" stroke-width="1.25"/>
<line x1="476.8" y1="748" x2="476.8" y2="746.4" stroke="#333" stroke-width="1"/>
<line x1="473.9" y1="746.4" x2="479.7" y2="746.4" stroke="#333" stroke-width="1"/>
<circle cx="478.3" cy="750.3" r="1.05" fill="#111"/>
<circle cx="476.2" cy="747.7" r="1.05" fill="#111"/>
<circle cx="477" cy="752.7" r="1.05" fill="#111"/>
<circle cx="475.7" cy="746.5" r="1.05" fill="#111"/>
<circle cx="475.9" cy="749.2" r="1.05" fill="#111"/>
<circle cx="475.9" cy="751.2" r="1.05" fill="#111"/>
<circle cx="478.1" cy="745.9" r="1.05" fill="#111"/>
<line x1="501.2" y1="771.9" x2="501.2" y2="774.1" stroke="#5a5a5a" stroke-width="0.9"/>
<rect x="497.4" y="760.9" width="7.6" height="11" fill="#c6c6c6" stroke="#6a6a6a" stroke-width="1.25"/>
<line x1="501.2" y1="760.3" x2="501.2" y2="759.1" stroke="#333" stroke-width="1"/>
<line x1="498.4" y1="759.1" x2="504" y2="759.1" stroke="#333" stroke-width="1"/>
<circle cx="500" cy="762.1" r="1.05" fill="#111"/>
<circle cx="500.2" cy="760.3" r="1.05" fill="#111"/>
<circle cx="499.9" cy="761.5" r="1.05" fill="#111"/>
<circle cx="500.4" cy="761.1" r="1.05" fill="#111"/>
<circle cx="502.4" cy="760.2" r="1.05" fill="#111"/>
<circle cx="502" cy="762.4" r="1.05" fill="#111"/>
<circle cx="501.3" cy="758.9" r="1.05" fill="#111"/>
<line x1="525.6" y1="771.9" x2="525.6" y2="774.1" stroke="#5a5a5a" stroke-width="0.9"/>
<rect x="521.8" y="722.4" width="7.6" height="49.5" fill="#c6c6c6" stroke="#6a6a6a" stroke-width="1.25"/>
<line x1="525.6" y1="721.8" x2="525.6" y2="718" stroke="#333" stroke-width="1"/>
<line x1="522.8" y1="718" x2="528.4" y2="718" stroke="#333" stroke-width="1"/>
<circle cx="525.2" cy="725.9" r="1.05" fill="#111"/>
<circle cx="524.9" cy="720.4" r="1.05" fill="#111"/>
<circle cx="527.1" cy="724.1" r="1.05" fill="#111"/>
<circle cx="526" cy="728.1" r="1.05" fill="#111"/>
<circle cx="526.8" cy="728.2" r="1.05" fill="#111"/>
<circle cx="524.8" cy="723.1" r="1.05" fill="#111"/>
<circle cx="525.3" cy="727.7" r="1.05" fill="#111"/>
<line x1="549.6" y1="771.9" x2="549.6" y2="774.1" stroke="#5a5a5a" stroke-width="0.9"/>
<rect x="545.8" y="754.5" width="7.6" height="17.4" fill="#c6c6c6" stroke="#6a6a6a" stroke-width="1.25"/>
<line x1="549.6" y1="753.9" x2="549.6" y2="752.3" stroke="#333" stroke-width="1"/>
<line x1="546.8" y1="752.3" x2="552.4" y2="752.3" stroke="#333" stroke-width="1"/>
<circle cx="550.7" cy="746.9" r="1.05" fill="#111"/>
<circle cx="550.8" cy="756.6" r="1.05" fill="#111"/>
<circle cx="550.3" cy="754.7" r="1.05" fill="#111"/>
<circle cx="550.9" cy="754" r="1.05" fill="#111"/>
<circle cx="548" cy="749.7" r="1.05" fill="#111"/>
<circle cx="549.3" cy="754.6" r="1.05" fill="#111"/>
<circle cx="550.7" cy="759.3" r="1.05" fill="#111"/>
<polyline points="476.3,695.5 476.9,694.2 523,694.2 523.6,695.5" stroke="#8a8a8a" stroke-width="1" fill="none"/>
<text x="500" y="696.3" font-size="10" font-weight="normal" text-anchor="middle" fill="#444">*</text>
<polyline points="525.2,695.5 525.8,694.2 547.9,694.2 548.5,695.5" stroke="#8a8a8a" stroke-width="1" fill="none"/>
<text x="536.9" y="696.3" font-size="10" font-weight="normal" text-anchor="middle" fill="#444">*</text>
<polyline points="451.4,703.5 452,702.2 474.9,702.2 475.5,703.5" stroke="#8a8a8a" stroke-width="1" fill="none"/>
<text x="463.4" y="704.3" font-size="10" font-weight="normal" text-anchor="middle" fill="#444">*</text>
<polyline points="476.3,703.5 476.9,702.2 498.9,702.2 499.5,703.5" stroke="#8a8a8a" stroke-width="1" fill="none"/>
<text x="487.9" y="704.3" font-size="10" font-weight="normal" text-anchor="middle" fill="#444">*</text>
<text transform="translate(419.3,730.6) rotate(-90)" font-size="8.6" font-weight="bold" text-anchor="middle" dominant-baseline="central" fill="#111">mRNA level of ACOX1</text>
<text x="440.7" y="783.3" font-size="6.8" font-weight="bold" text-anchor="end" fill="#111">CFB</text>
<text x="452.9" y="784.1" font-size="8.8" font-weight="bold" text-anchor="middle" fill="#222">–</text>
<text x="476.8" y="784.1" font-size="8.8" font-weight="bold" text-anchor="middle" fill="#222">–</text>
<text x="501.2" y="784.1" font-size="8.8" font-weight="bold" text-anchor="middle" fill="#222">–</text>
<text x="525.6" y="784.1" font-size="8.8" font-weight="bold" text-anchor="middle" fill="#222">+</text>
<text x="549.6" y="784.1" font-size="8.8" font-weight="bold" text-anchor="middle" fill="#222">+</text>
<text x="440.7" y="792.9" font-size="6.8" font-weight="bold" text-anchor="end" fill="#111">4-MP</text>
<text x="452.9" y="793.7" font-size="8.8" font-weight="bold" text-anchor="middle" fill="#222">–</text>
<text x="476.8" y="793.7" font-size="8.8" font-weight="bold" text-anchor="middle" fill="#222">–</text>
<text x="501.2" y="793.7" font-size="8.8" font-weight="bold" text-anchor="middle" fill="#222">+</text>
<text x="525.6" y="793.7" font-size="8.8" font-weight="bold" text-anchor="middle" fill="#222">–</text>
<text x="549.6" y="793.7" font-size="8.8" font-weight="bold" text-anchor="middle" fill="#222">+</text>
<rect x="72.2" y="834.6" width="10.2" height="5.4" fill="#fff" stroke="#6a6a6a" stroke-width="1.1"/>
<text x="85.7" y="840" font-size="7.6" font-weight="bold" text-anchor="start" fill="#222">N</text>
<rect x="93.7" y="834.6" width="9.8" height="5.4" fill="#c6c6c6" stroke="#6a6a6a" stroke-width="1.1"/>
<text x="107" y="840" font-size="7.6" font-weight="bold" text-anchor="start" fill="#222">F</text>
<line x1="71.7" y1="843" x2="71.7" y2="928.9" stroke="#5a5a5a" stroke-width="1.3"/>
<line x1="71.1" y1="928.3" x2="193" y2="928.3" stroke="#5a5a5a" stroke-width="1.3"/>
<line x1="69.1" y1="843.3" x2="71.7" y2="843.3" stroke="#5a5a5a" stroke-width="1"/>
<text x="69.3" y="846.3" font-size="8.2" font-weight="normal" text-anchor="end" fill="#444">15</text>
<line x1="69.1" y1="871.6" x2="71.7" y2="871.6" stroke="#5a5a5a" stroke-width="1"/>
<text x="69.3" y="874.6" font-size="8.2" font-weight="normal" text-anchor="end" fill="#444">10</text>
<line x1="69.1" y1="900" x2="71.7" y2="900" stroke="#5a5a5a" stroke-width="1"/>
<text x="69.3" y="902.9" font-size="8.2" font-weight="normal" text-anchor="end" fill="#444">5</text>
<line x1="69.1" y1="928.3" x2="71.7" y2="928.3" stroke="#5a5a5a" stroke-width="1"/>
<text x="69.3" y="931.3" font-size="8.2" font-weight="normal" text-anchor="end" fill="#444">0</text>
<line x1="84.2" y1="928.3" x2="84.2" y2="930.5" stroke="#5a5a5a" stroke-width="0.9"/>
<rect x="80.3" y="923.4" width="7.8" height="4.9" fill="#ffffff" stroke="#6a6a6a" stroke-width="1.25"/>
<line x1="84.2" y1="922.8" x2="84.2" y2="921.6" stroke="#333" stroke-width="1"/>
<line x1="81.3" y1="921.6" x2="87.1" y2="921.6" stroke="#333" stroke-width="1"/>
<circle cx="85.7" cy="921.9" r="1.05" fill="#111"/>
<circle cx="83.1" cy="922.8" r="1.05" fill="#111"/>
<circle cx="84.3" cy="923.3" r="1.05" fill="#111"/>
<circle cx="84.9" cy="921.7" r="1.05" fill="#111"/>
<circle cx="84.7" cy="920.5" r="1.05" fill="#111"/>
<circle cx="84.4" cy="922.9" r="1.05" fill="#111"/>
<circle cx="82.7" cy="921.6" r="1.05" fill="#111"/>
<line x1="108.1" y1="928.3" x2="108.1" y2="930.5" stroke="#5a5a5a" stroke-width="0.9"/>
<rect x="104" y="907.7" width="8.1" height="20.6" fill="#c6c6c6" stroke="#6a6a6a" stroke-width="1.25"/>
<line x1="108.1" y1="907.1" x2="108.1" y2="904.9" stroke="#333" stroke-width="1"/>
<line x1="105.1" y1="904.9" x2="111" y2="904.9" stroke="#333" stroke-width="1"/>
<circle cx="109.4" cy="907.7" r="1.05" fill="#111"/>
<circle cx="108.5" cy="904" r="1.05" fill="#111"/>
<circle cx="107.3" cy="906.4" r="1.05" fill="#111"/>
<circle cx="108.5" cy="909.2" r="1.05" fill="#111"/>
<circle cx="106.7" cy="906.4" r="1.05" fill="#111"/>
<circle cx="108.1" cy="905.1" r="1.05" fill="#111"/>
<circle cx="107.2" cy="903.4" r="1.05" fill="#111"/>
<line x1="132.3" y1="928.3" x2="132.3" y2="930.5" stroke="#5a5a5a" stroke-width="0.9"/>
<rect x="128.4" y="919.8" width="7.8" height="8.5" fill="#c6c6c6" stroke="#6a6a6a" stroke-width="1.25"/>
<line x1="132.3" y1="919.2" x2="132.3" y2="918" stroke="#333" stroke-width="1"/>
<line x1="129.4" y1="918" x2="135.2" y2="918" stroke="#333" stroke-width="1"/>
<circle cx="132.6" cy="918.1" r="1.05" fill="#111"/>
<circle cx="132.2" cy="921" r="1.05" fill="#111"/>
<circle cx="133.8" cy="919.3" r="1.05" fill="#111"/>
<circle cx="132.2" cy="916.4" r="1.05" fill="#111"/>
<circle cx="131.5" cy="915.7" r="1.05" fill="#111"/>
<circle cx="133" cy="919.3" r="1.05" fill="#111"/>
<circle cx="131.7" cy="923.9" r="1.05" fill="#111"/>
<line x1="156.4" y1="928.3" x2="156.4" y2="930.5" stroke="#5a5a5a" stroke-width="0.9"/>
<rect x="152.5" y="880.8" width="7.8" height="47.5" fill="#c6c6c6" stroke="#6a6a6a" stroke-width="1.25"/>
<line x1="156.4" y1="880.2" x2="156.4" y2="875.9" stroke="#333" stroke-width="1"/>
<line x1="153.5" y1="875.9" x2="159.3" y2="875.9" stroke="#333" stroke-width="1"/>
<circle cx="157" cy="890.3" r="1.05" fill="#111"/>
<circle cx="156.1" cy="881.6" r="1.05" fill="#111"/>
<circle cx="157.8" cy="879.6" r="1.05" fill="#111"/>
<circle cx="155.5" cy="893" r="1.05" fill="#111"/>
<circle cx="156.1" cy="887.9" r="1.05" fill="#111"/>
<circle cx="157" cy="881.9" r="1.05" fill="#111"/>
<circle cx="157.2" cy="885.1" r="1.05" fill="#111"/>
<line x1="181" y1="928.3" x2="181" y2="930.5" stroke="#5a5a5a" stroke-width="0.9"/>
<rect x="177" y="912.2" width="8" height="16.1" fill="#c6c6c6" stroke="#6a6a6a" stroke-width="1.25"/>
<line x1="181" y1="911.6" x2="181" y2="910.2" stroke="#333" stroke-width="1"/>
<line x1="178.1" y1="910.2" x2="183.9" y2="910.2" stroke="#333" stroke-width="1"/>
<circle cx="181" cy="916.2" r="1.05" fill="#111"/>
<circle cx="180.4" cy="913.6" r="1.05" fill="#111"/>
<circle cx="182" cy="917.5" r="1.05" fill="#111"/>
<circle cx="181.8" cy="911.8" r="1.05" fill="#111"/>
<circle cx="180.3" cy="913.5" r="1.05" fill="#111"/>
<circle cx="180" cy="914.6" r="1.05" fill="#111"/>
<circle cx="180.1" cy="910.7" r="1.05" fill="#111"/>
<polyline points="107,851.9 107.6,850.6 154.2,850.6 154.8,851.9" stroke="#8a8a8a" stroke-width="1" fill="none"/>
<text x="130.9" y="852.7" font-size="10" font-weight="normal" text-anchor="middle" fill="#444">*</text>
<polyline points="156.4,851.9 157,850.6 179.5,850.6 180.1,851.9" stroke="#8a8a8a" stroke-width="1" fill="none"/>
<text x="168.2" y="852.7" font-size="10" font-weight="normal" text-anchor="middle" fill="#444">*</text>
<polyline points="82.6,859.5 83.2,858.2 105.2,858.2 105.8,859.5" stroke="#8a8a8a" stroke-width="1" fill="none"/>
<text x="94.2" y="860.3" font-size="10" font-weight="normal" text-anchor="middle" fill="#444">*</text>
<polyline points="107,859.5 107.6,858.2 130.4,858.2 131,859.5" stroke="#8a8a8a" stroke-width="1" fill="none"/>
<text x="119" y="860.3" font-size="10" font-weight="normal" text-anchor="middle" fill="#444">*</text>
<text transform="translate(49.3,886.6) rotate(-90)" font-size="8.6" font-weight="bold" text-anchor="middle" dominant-baseline="central" fill="#111">mRNA level of L-BP</text>
<text x="72.2" y="939.7" font-size="6.8" font-weight="bold" text-anchor="end" fill="#111">CFB</text>
<text x="84.2" y="940.5" font-size="8.8" font-weight="bold" text-anchor="middle" fill="#222">–</text>
<text x="108.1" y="940.5" font-size="8.8" font-weight="bold" text-anchor="middle" fill="#222">–</text>
<text x="132.3" y="940.5" font-size="8.8" font-weight="bold" text-anchor="middle" fill="#222">–</text>
<text x="156.4" y="940.5" font-size="8.8" font-weight="bold" text-anchor="middle" fill="#222">+</text>
<text x="181" y="940.5" font-size="8.8" font-weight="bold" text-anchor="middle" fill="#222">+</text>
<text x="72.2" y="948.8" font-size="6.8" font-weight="bold" text-anchor="end" fill="#111">4-MP</text>
<text x="84.2" y="949.6" font-size="8.8" font-weight="bold" text-anchor="middle" fill="#222">–</text>
<text x="108.1" y="949.6" font-size="8.8" font-weight="bold" text-anchor="middle" fill="#222">–</text>
<text x="132.3" y="949.6" font-size="8.8" font-weight="bold" text-anchor="middle" fill="#222">+</text>
<text x="156.4" y="949.6" font-size="8.8" font-weight="bold" text-anchor="middle" fill="#222">–</text>
<text x="181" y="949.6" font-size="8.8" font-weight="bold" text-anchor="middle" fill="#222">+</text>
<rect x="251" y="834.6" width="10.2" height="5.4" fill="#fff" stroke="#6a6a6a" stroke-width="1.1"/>
<text x="264.5" y="840" font-size="7.6" font-weight="bold" text-anchor="start" fill="#222">N</text>
<rect x="272.5" y="834.6" width="9.8" height="5.4" fill="#c6c6c6" stroke="#6a6a6a" stroke-width="1.1"/>
<text x="285.8" y="840" font-size="7.6" font-weight="bold" text-anchor="start" fill="#222">F</text>
<line x1="250" y1="843" x2="250" y2="928.9" stroke="#5a5a5a" stroke-width="1.3"/>
<line x1="249.4" y1="928.3" x2="371.3" y2="928.3" stroke="#5a5a5a" stroke-width="1.3"/>
<line x1="247.4" y1="843.3" x2="250" y2="843.3" stroke="#5a5a5a" stroke-width="1"/>
<text x="247.6" y="846.3" font-size="8.2" font-weight="normal" text-anchor="end" fill="#444">12</text>
<line x1="247.4" y1="871.6" x2="250" y2="871.6" stroke="#5a5a5a" stroke-width="1"/>
<text x="247.6" y="874.6" font-size="8.2" font-weight="normal" text-anchor="end" fill="#444">8</text>
<line x1="247.4" y1="900" x2="250" y2="900" stroke="#5a5a5a" stroke-width="1"/>
<text x="247.6" y="902.9" font-size="8.2" font-weight="normal" text-anchor="end" fill="#444">4</text>
<line x1="247.4" y1="928.3" x2="250" y2="928.3" stroke="#5a5a5a" stroke-width="1"/>
<text x="247.6" y="931.3" font-size="8.2" font-weight="normal" text-anchor="end" fill="#444">0</text>
<line x1="262.2" y1="928.3" x2="262.2" y2="930.5" stroke="#5a5a5a" stroke-width="0.9"/>
<rect x="258.4" y="920.9" width="7.6" height="7.4" fill="#ffffff" stroke="#6a6a6a" stroke-width="1.25"/>
<line x1="262.2" y1="920.3" x2="262.2" y2="919.1" stroke="#333" stroke-width="1"/>
<line x1="259.4" y1="919.1" x2="265" y2="919.1" stroke="#333" stroke-width="1"/>
<circle cx="263.6" cy="918.9" r="1.05" fill="#111"/>
<circle cx="261.1" cy="921.1" r="1.05" fill="#111"/>
<circle cx="263.7" cy="919.7" r="1.05" fill="#111"/>
<circle cx="261.1" cy="920.8" r="1.05" fill="#111"/>
<circle cx="261.9" cy="920.7" r="1.05" fill="#111"/>
<circle cx="263.5" cy="920.4" r="1.05" fill="#111"/>
<circle cx="263.8" cy="921.6" r="1.05" fill="#111"/>
<line x1="286.5" y1="928.3" x2="286.5" y2="930.5" stroke="#5a5a5a" stroke-width="0.9"/>
<rect x="282.4" y="904.8" width="8.1" height="23.5" fill="#c6c6c6" stroke="#6a6a6a" stroke-width="1.25"/>
<line x1="286.5" y1="904.2" x2="286.5" y2="902" stroke="#333" stroke-width="1"/>
<line x1="283.5" y1="902" x2="289.4" y2="902" stroke="#333" stroke-width="1"/>
<circle cx="287.8" cy="899.5" r="1.05" fill="#111"/>
<circle cx="287.8" cy="902.9" r="1.05" fill="#111"/>
<circle cx="287.2" cy="906.6" r="1.05" fill="#111"/>
<circle cx="286.1" cy="910.5" r="1.05" fill="#111"/>
<circle cx="286" cy="905.5" r="1.05" fill="#111"/>
<circle cx="284.9" cy="902.9" r="1.05" fill="#111"/>
<circle cx="285.7" cy="906.5" r="1.05" fill="#111"/>
<line x1="310.9" y1="928.3" x2="310.9" y2="930.5" stroke="#5a5a5a" stroke-width="0.9"/>
<rect x="306.8" y="916.9" width="8.1" height="11.4" fill="#c6c6c6" stroke="#6a6a6a" stroke-width="1.25"/>
<line x1="310.9" y1="916.3" x2="310.9" y2="915.1" stroke="#333" stroke-width="1"/>
<line x1="307.9" y1="915.1" x2="313.8" y2="915.1" stroke="#333" stroke-width="1"/>
<circle cx="309.6" cy="913.1" r="1.05" fill="#111"/>
<circle cx="312.3" cy="920.6" r="1.05" fill="#111"/>
<circle cx="311.9" cy="916.8" r="1.05" fill="#111"/>
<circle cx="311.9" cy="918.3" r="1.05" fill="#111"/>
<circle cx="310.8" cy="915.7" r="1.05" fill="#111"/>
<circle cx="310.4" cy="916.6" r="1.05" fill="#111"/>
<circle cx="310.4" cy="917.5" r="1.05" fill="#111"/>
<line x1="335" y1="928.3" x2="335" y2="930.5" stroke="#5a5a5a" stroke-width="0.9"/>
<rect x="330.9" y="874" width="8.1" height="54.3" fill="#c6c6c6" stroke="#6a6a6a" stroke-width="1.25"/>
<line x1="335" y1="873.4" x2="335" y2="868" stroke="#333" stroke-width="1"/>
<line x1="332" y1="868" x2="337.9" y2="868" stroke="#333" stroke-width="1"/>
<circle cx="336.2" cy="870" r="1.05" fill="#111"/>
<circle cx="335.9" cy="884.3" r="1.05" fill="#111"/>
<circle cx="335.8" cy="875.5" r="1.05" fill="#111"/>
<circle cx="333.6" cy="876.2" r="1.05" fill="#111"/>
<circle cx="336.3" cy="874.1" r="1.05" fill="#111"/>
<circle cx="336.2" cy="872.6" r="1.05" fill="#111"/>
<circle cx="334.4" cy="891.3" r="1.05" fill="#111"/>
<line x1="359" y1="928.3" x2="359" y2="930.5" stroke="#5a5a5a" stroke-width="0.9"/>
<rect x="354.9" y="905.6" width="8.1" height="22.7" fill="#c6c6c6" stroke="#6a6a6a" stroke-width="1.25"/>
<line x1="359" y1="905" x2="359" y2="903.4" stroke="#333" stroke-width="1"/>
<line x1="356" y1="903.4" x2="361.9" y2="903.4" stroke="#333" stroke-width="1"/>
<circle cx="359.3" cy="903.9" r="1.05" fill="#111"/>
<circle cx="358.2" cy="912" r="1.05" fill="#111"/>
<circle cx="358.2" cy="904.4" r="1.05" fill="#111"/>
<circle cx="357.4" cy="902.2" r="1.05" fill="#111"/>
<circle cx="359.4" cy="905.3" r="1.05" fill="#111"/>
<circle cx="360.4" cy="898" r="1.05" fill="#111"/>
<circle cx="358.9" cy="907.3" r="1.05" fill="#111"/>
<polyline points="285.8,848.3 286.4,847 332.2,847 332.8,848.3" stroke="#8a8a8a" stroke-width="1" fill="none"/>
<text x="309.3" y="849.1" font-size="10" font-weight="normal" text-anchor="middle" fill="#444">*</text>
<polyline points="335.6,848.3 336.2,847 358.6,847 359.2,848.3" stroke="#8a8a8a" stroke-width="1" fill="none"/>
<text x="347.4" y="849.1" font-size="10" font-weight="normal" text-anchor="middle" fill="#444">*</text>
<polyline points="260.5,856.6 261.1,855.3 283.6,855.3 284.2,856.6" stroke="#8a8a8a" stroke-width="1" fill="none"/>
<text x="272.4" y="857.4" font-size="10" font-weight="normal" text-anchor="middle" fill="#444">*</text>
<polyline points="285.8,856.6 286.4,855.3 309,855.3 309.6,856.6" stroke="#8a8a8a" stroke-width="1" fill="none"/>
<text x="297.7" y="857.4" font-size="10" font-weight="normal" text-anchor="middle" fill="#444">*</text>
<text transform="translate(228.5,886.6) rotate(-90)" font-size="8.6" font-weight="bold" text-anchor="middle" dominant-baseline="central" fill="#111">mRNA level of Thiolase</text>
<text x="250.5" y="939.7" font-size="6.8" font-weight="bold" text-anchor="end" fill="#111">CFB</text>
<text x="262.2" y="940.5" font-size="8.8" font-weight="bold" text-anchor="middle" fill="#222">–</text>
<text x="286.5" y="940.5" font-size="8.8" font-weight="bold" text-anchor="middle" fill="#222">–</text>
<text x="310.9" y="940.5" font-size="8.8" font-weight="bold" text-anchor="middle" fill="#222">–</text>
<text x="335" y="940.5" font-size="8.8" font-weight="bold" text-anchor="middle" fill="#222">+</text>
<text x="359" y="940.5" font-size="8.8" font-weight="bold" text-anchor="middle" fill="#222">+</text>
<text x="250.5" y="948.8" font-size="6.8" font-weight="bold" text-anchor="end" fill="#111">4-MP</text>
<text x="262.2" y="949.6" font-size="8.8" font-weight="bold" text-anchor="middle" fill="#222">–</text>
<text x="286.5" y="949.6" font-size="8.8" font-weight="bold" text-anchor="middle" fill="#222">–</text>
<text x="310.9" y="949.6" font-size="8.8" font-weight="bold" text-anchor="middle" fill="#222">+</text>
<text x="335" y="949.6" font-size="8.8" font-weight="bold" text-anchor="middle" fill="#222">–</text>
<text x="359" y="949.6" font-size="8.8" font-weight="bold" text-anchor="middle" fill="#222">+</text>
<rect x="442.3" y="836.2" width="10.2" height="5.4" fill="#fff" stroke="#6a6a6a" stroke-width="1.1"/>
<text x="455.8" y="841.6" font-size="7.6" font-weight="bold" text-anchor="start" fill="#222">N</text>
<rect x="463.8" y="836.2" width="9.8" height="5.4" fill="#c6c6c6" stroke="#6a6a6a" stroke-width="1.1"/>
<text x="477.1" y="841.6" font-size="7.6" font-weight="bold" text-anchor="start" fill="#222">F</text>
<line x1="441" y1="845.1" x2="441" y2="930.5" stroke="#5a5a5a" stroke-width="1.3"/>
<line x1="440.4" y1="929.9" x2="561.7" y2="929.9" stroke="#5a5a5a" stroke-width="1.3"/>
<line x1="438.4" y1="845.4" x2="441" y2="845.4" stroke="#5a5a5a" stroke-width="1"/>
<text x="438.6" y="848.4" font-size="8.2" font-weight="normal" text-anchor="end" fill="#444">8</text>
<line x1="438.4" y1="866.5" x2="441" y2="866.5" stroke="#5a5a5a" stroke-width="1"/>
<text x="438.6" y="869.5" font-size="8.2" font-weight="normal" text-anchor="end" fill="#444">6</text>
<line x1="438.4" y1="887.6" x2="441" y2="887.6" stroke="#5a5a5a" stroke-width="1"/>
<text x="438.6" y="890.6" font-size="8.2" font-weight="normal" text-anchor="end" fill="#444">4</text>
<line x1="438.4" y1="908.8" x2="441" y2="908.8" stroke="#5a5a5a" stroke-width="1"/>
<text x="438.6" y="911.7" font-size="8.2" font-weight="normal" text-anchor="end" fill="#444">2</text>
<line x1="438.4" y1="929.9" x2="441" y2="929.9" stroke="#5a5a5a" stroke-width="1"/>
<text x="438.6" y="932.9" font-size="8.2" font-weight="normal" text-anchor="end" fill="#444">0</text>
<line x1="453.7" y1="929.9" x2="453.7" y2="932.1" stroke="#5a5a5a" stroke-width="0.9"/>
<rect x="449.9" y="916.1" width="7.6" height="13.8" fill="#ffffff" stroke="#6a6a6a" stroke-width="1.25"/>
<line x1="453.7" y1="915.5" x2="453.7" y2="914.3" stroke="#333" stroke-width="1"/>
<line x1="450.9" y1="914.3" x2="456.5" y2="914.3" stroke="#333" stroke-width="1"/>
<circle cx="455.2" cy="915.7" r="1.05" fill="#111"/>
<circle cx="452.9" cy="917.5" r="1.05" fill="#111"/>
<circle cx="453.5" cy="914.9" r="1.05" fill="#111"/>
<circle cx="452.7" cy="910.8" r="1.05" fill="#111"/>
<circle cx="454.7" cy="915.7" r="1.05" fill="#111"/>
<circle cx="454.6" cy="915.2" r="1.05" fill="#111"/>
<circle cx="454" cy="911.5" r="1.05" fill="#111"/>
<line x1="478" y1="929.9" x2="478" y2="932.1" stroke="#5a5a5a" stroke-width="0.9"/>
<rect x="474" y="904.5" width="8.1" height="25.4" fill="#c6c6c6" stroke="#6a6a6a" stroke-width="1.25"/>
<line x1="478" y1="903.9" x2="478" y2="901.7" stroke="#333" stroke-width="1"/>
<line x1="475.1" y1="901.7" x2="481" y2="901.7" stroke="#333" stroke-width="1"/>
<circle cx="477.6" cy="902.1" r="1.05" fill="#111"/>
<circle cx="479" cy="907.2" r="1.05" fill="#111"/>
<circle cx="478.9" cy="906.4" r="1.05" fill="#111"/>
<circle cx="477.2" cy="905.3" r="1.05" fill="#111"/>
<circle cx="478.2" cy="904.9" r="1.05" fill="#111"/>
<circle cx="477.5" cy="904.3" r="1.05" fill="#111"/>
<circle cx="479.6" cy="912.8" r="1.05" fill="#111"/>
<line x1="502.3" y1="929.9" x2="502.3" y2="932.1" stroke="#5a5a5a" stroke-width="0.9"/>
<rect x="498.5" y="913" width="7.6" height="16.9" fill="#c6c6c6" stroke="#6a6a6a" stroke-width="1.25"/>
<line x1="502.3" y1="912.4" x2="502.3" y2="910.8" stroke="#333" stroke-width="1"/>
<line x1="499.5" y1="910.8" x2="505.1" y2="910.8" stroke="#333" stroke-width="1"/>
<circle cx="501.5" cy="911.6" r="1.05" fill="#111"/>
<circle cx="502.3" cy="913.7" r="1.05" fill="#111"/>
<circle cx="503" cy="913.1" r="1.05" fill="#111"/>
<circle cx="502" cy="910.2" r="1.05" fill="#111"/>
<circle cx="502.7" cy="913.2" r="1.05" fill="#111"/>
<circle cx="503.4" cy="909.9" r="1.05" fill="#111"/>
<circle cx="502.8" cy="907.6" r="1.05" fill="#111"/>
<line x1="526.4" y1="929.9" x2="526.4" y2="932.1" stroke="#5a5a5a" stroke-width="0.9"/>
<rect x="522.6" y="878.5" width="7.6" height="51.4" fill="#c6c6c6" stroke="#6a6a6a" stroke-width="1.25"/>
<line x1="526.4" y1="877.9" x2="526.4" y2="873.6" stroke="#333" stroke-width="1"/>
<line x1="523.6" y1="873.6" x2="529.2" y2="873.6" stroke="#333" stroke-width="1"/>
<circle cx="525.7" cy="889.9" r="1.05" fill="#111"/>
<circle cx="526.6" cy="889.3" r="1.05" fill="#111"/>
<circle cx="525.4" cy="868" r="1.05" fill="#111"/>
<circle cx="525.6" cy="888" r="1.05" fill="#111"/>
<circle cx="527.6" cy="878" r="1.05" fill="#111"/>
<circle cx="526.7" cy="882.9" r="1.05" fill="#111"/>
<circle cx="528" cy="873.9" r="1.05" fill="#111"/>
<line x1="550.5" y1="929.9" x2="550.5" y2="932.1" stroke="#5a5a5a" stroke-width="0.9"/>
<rect x="546.6" y="906.9" width="7.7" height="23" fill="#c6c6c6" stroke="#6a6a6a" stroke-width="1.25"/>
<line x1="550.5" y1="906.3" x2="550.5" y2="904.1" stroke="#333" stroke-width="1"/>
<line x1="547.6" y1="904.1" x2="553.3" y2="904.1" stroke="#333" stroke-width="1"/>
<circle cx="550.5" cy="910.1" r="1.05" fill="#111"/>
<circle cx="550.9" cy="907.2" r="1.05" fill="#111"/>
<circle cx="552" cy="914.1" r="1.05" fill="#111"/>
<circle cx="551.5" cy="910.2" r="1.05" fill="#111"/>
<circle cx="551.5" cy="909.2" r="1.05" fill="#111"/>
<circle cx="549.8" cy="907.4" r="1.05" fill="#111"/>
<circle cx="549.2" cy="905.7" r="1.05" fill="#111"/>
<polyline points="477,852.6 477.6,851.3 523.8,851.3 524.4,852.6" stroke="#8a8a8a" stroke-width="1" fill="none"/>
<text x="500.7" y="853.4" font-size="10" font-weight="normal" text-anchor="middle" fill="#444">*</text>
<polyline points="527.3,852.6 527.9,851.3 549.8,851.3 550.4,852.6" stroke="#8a8a8a" stroke-width="1" fill="none"/>
<text x="538.8" y="853.4" font-size="10" font-weight="normal" text-anchor="middle" fill="#444">*</text>
<polyline points="454.1,860 454.7,858.7 476.9,858.7 477.5,860" stroke="#8a8a8a" stroke-width="1" fill="none"/>
<text x="465.8" y="860.8" font-size="10" font-weight="normal" text-anchor="middle" fill="#444">*</text>
<polyline points="479.8,860 480.4,858.7 502.9,858.7 503.5,860" stroke="#8a8a8a" stroke-width="1" fill="none"/>
<text x="491.6" y="860.8" font-size="10" font-weight="normal" text-anchor="middle" fill="#444">*</text>
<text transform="translate(407.7,888.4) rotate(-90)" font-size="8.6" font-weight="bold" text-anchor="middle" dominant-baseline="central" fill="#111">Peroxisomal FAO</text>
<text transform="translate(419.3,888.4) rotate(-90)" font-size="8.6" font-weight="bold" text-anchor="middle" dominant-baseline="central" fill="#111">(nmol/min/mg protein)</text>
<text x="441.5" y="940.8" font-size="6.8" font-weight="bold" text-anchor="end" fill="#111">CFB</text>
<text x="453.7" y="941.6" font-size="8.8" font-weight="bold" text-anchor="middle" fill="#222">–</text>
<text x="478" y="941.6" font-size="8.8" font-weight="bold" text-anchor="middle" fill="#222">–</text>
<text x="502.3" y="941.6" font-size="8.8" font-weight="bold" text-anchor="middle" fill="#222">–</text>
<text x="526.4" y="941.6" font-size="8.8" font-weight="bold" text-anchor="middle" fill="#222">+</text>
<text x="550.5" y="941.6" font-size="8.8" font-weight="bold" text-anchor="middle" fill="#222">+</text>
<text x="441.5" y="950.4" font-size="6.8" font-weight="bold" text-anchor="end" fill="#111">4-MP</text>
<text x="453.7" y="951.2" font-size="8.8" font-weight="bold" text-anchor="middle" fill="#222">–</text>
<text x="478" y="951.2" font-size="8.8" font-weight="bold" text-anchor="middle" fill="#222">–</text>
<text x="502.3" y="951.2" font-size="8.8" font-weight="bold" text-anchor="middle" fill="#222">+</text>
<text x="526.4" y="951.2" font-size="8.8" font-weight="bold" text-anchor="middle" fill="#222">–</text>
<text x="550.5" y="951.2" font-size="8.8" font-weight="bold" text-anchor="middle" fill="#222">+</text>
<line x1="71.7" y1="995.1" x2="71.7" y2="1080.2" stroke="#5a5a5a" stroke-width="1.3"/>
<line x1="71.1" y1="1079.6" x2="193" y2="1079.6" stroke="#5a5a5a" stroke-width="1.3"/>
<line x1="69.1" y1="995.4" x2="71.7" y2="995.4" stroke="#5a5a5a" stroke-width="1"/>
<text x="69.3" y="998.4" font-size="8.2" font-weight="normal" text-anchor="end" fill="#444">3</text>
<line x1="69.1" y1="1023.5" x2="71.7" y2="1023.5" stroke="#5a5a5a" stroke-width="1"/>
<text x="69.3" y="1026.4" font-size="8.2" font-weight="normal" text-anchor="end" fill="#444">2</text>
<line x1="69.1" y1="1051.5" x2="71.7" y2="1051.5" stroke="#5a5a5a" stroke-width="1"/>
<text x="69.3" y="1054.5" font-size="8.2" font-weight="normal" text-anchor="end" fill="#444">1</text>
<line x1="69.1" y1="1079.6" x2="71.7" y2="1079.6" stroke="#5a5a5a" stroke-width="1"/>
<text x="69.3" y="1082.6" font-size="8.2" font-weight="normal" text-anchor="end" fill="#444">0</text>
<line x1="102" y1="1079.6" x2="102" y2="1081.8" stroke="#5a5a5a" stroke-width="0.9"/>
<rect x="92" y="1030.1" width="20" height="49.5" fill="#c6c6c6" stroke="#6a6a6a" stroke-width="1.25"/>
<line x1="102" y1="1029.5" x2="102" y2="1027.1" stroke="#333" stroke-width="1"/>
<line x1="95.2" y1="1027.1" x2="108.8" y2="1027.1" stroke="#333" stroke-width="1"/>
<circle cx="101" cy="1016.7" r="1.05" fill="#111"/>
<circle cx="103.5" cy="1021.8" r="1.05" fill="#111"/>
<circle cx="102.3" cy="1027.4" r="1.05" fill="#111"/>
<circle cx="103.4" cy="1033.1" r="1.05" fill="#111"/>
<circle cx="101.6" cy="1041.9" r="1.05" fill="#111"/>
<line x1="162.3" y1="1079.6" x2="162.3" y2="1081.8" stroke="#5a5a5a" stroke-width="0.9"/>
<rect x="152.6" y="1032.5" width="19.5" height="47.1" fill="#c6c6c6" stroke="#6a6a6a" stroke-width="1.25"/>
<line x1="162.3" y1="1031.9" x2="162.3" y2="1029.5" stroke="#333" stroke-width="1"/>
<line x1="155.7" y1="1029.5" x2="169" y2="1029.5" stroke="#333" stroke-width="1"/>
<circle cx="163.5" cy="1021" r="1.05" fill="#111"/>
<circle cx="162.2" cy="1024.2" r="1.05" fill="#111"/>
<circle cx="161.6" cy="1037.1" r="1.05" fill="#111"/>
<circle cx="163.2" cy="1040.3" r="1.05" fill="#111"/>
<circle cx="163.8" cy="1044.3" r="1.05" fill="#111"/>
<text transform="translate(40,1038.3) rotate(-90)" font-size="8.6" font-weight="bold" text-anchor="middle" dominant-baseline="central" fill="#111">Peroxisomal β-oxidation</text>
<text transform="translate(51.7,1038.3) rotate(-90)" font-size="8.6" font-weight="bold" text-anchor="middle" dominant-baseline="central" fill="#111">(nmol/min/mg protein)</text>
<text x="72.2" y="1090.8" font-size="6.8" font-weight="bold" text-anchor="end" fill="#111">4-MP</text>
<text x="102" y="1091.6" font-size="8.8" font-weight="bold" text-anchor="middle" fill="#222">–</text>
<text x="162.3" y="1091.6" font-size="8.8" font-weight="bold" text-anchor="middle" fill="#222">+</text>
<rect x="250.2" y="986" width="10.2" height="5.5" fill="#fff" stroke="#6a6a6a" stroke-width="1.1"/>
<text x="263.7" y="991.5" font-size="7.6" font-weight="bold" text-anchor="start" fill="#222">N</text>
<rect x="271.7" y="986" width="9.8" height="5.5" fill="#c6c6c6" stroke="#6a6a6a" stroke-width="1.1"/>
<text x="285" y="991.5" font-size="7.6" font-weight="bold" text-anchor="start" fill="#222">F</text>
<line x1="248.8" y1="995.1" x2="248.8" y2="1080.2" stroke="#5a5a5a" stroke-width="1.3"/>
<line x1="248.2" y1="1079.6" x2="370.4" y2="1079.6" stroke="#5a5a5a" stroke-width="1.3"/>
<line x1="246.2" y1="995.4" x2="248.8" y2="995.4" stroke="#5a5a5a" stroke-width="1"/>
<text x="246.4" y="998.4" font-size="8.2" font-weight="normal" text-anchor="end" fill="#444">360</text>
<line x1="246.2" y1="1023.5" x2="248.8" y2="1023.5" stroke="#5a5a5a" stroke-width="1"/>
<text x="246.4" y="1026.4" font-size="8.2" font-weight="normal" text-anchor="end" fill="#444">240</text>
<line x1="246.2" y1="1051.5" x2="248.8" y2="1051.5" stroke="#5a5a5a" stroke-width="1"/>
<text x="246.4" y="1054.5" font-size="8.2" font-weight="normal" text-anchor="end" fill="#444">120</text>
<line x1="246.2" y1="1079.6" x2="248.8" y2="1079.6" stroke="#5a5a5a" stroke-width="1"/>
<text x="246.4" y="1082.6" font-size="8.2" font-weight="normal" text-anchor="end" fill="#444">0</text>
<line x1="261.1" y1="1079.6" x2="261.1" y2="1081.8" stroke="#5a5a5a" stroke-width="0.9"/>
<rect x="257.1" y="1031.5" width="8.1" height="48.1" fill="#ffffff" stroke="#6a6a6a" stroke-width="1.25"/>
<line x1="261.1" y1="1030.9" x2="261.1" y2="1027.4" stroke="#333" stroke-width="1"/>
<line x1="258.2" y1="1027.4" x2="264.1" y2="1027.4" stroke="#333" stroke-width="1"/>
<circle cx="259.9" cy="1018.4" r="1.05" fill="#111"/>
<circle cx="261.5" cy="1022.9" r="1.05" fill="#111"/>
<circle cx="261.5" cy="1036.3" r="1.05" fill="#111"/>
<circle cx="260.2" cy="1045.2" r="1.05" fill="#111"/>
<line x1="285.4" y1="1079.6" x2="285.4" y2="1081.8" stroke="#5a5a5a" stroke-width="0.9"/>
<rect x="281.6" y="1036" width="7.6" height="43.6" fill="#c6c6c6" stroke="#6a6a6a" stroke-width="1.25"/>
<line x1="285.4" y1="1035.4" x2="285.4" y2="1031.9" stroke="#333" stroke-width="1"/>
<line x1="282.6" y1="1031.9" x2="288.2" y2="1031.9" stroke="#333" stroke-width="1"/>
<circle cx="285" cy="1013.1" r="1.05" fill="#111"/>
<circle cx="284.3" cy="1032.7" r="1.05" fill="#111"/>
<circle cx="284.5" cy="1037.1" r="1.05" fill="#111"/>
<circle cx="284.6" cy="1039.8" r="1.05" fill="#111"/>
<circle cx="285.7" cy="1048.7" r="1.05" fill="#111"/>
<line x1="309.9" y1="1079.6" x2="309.9" y2="1081.8" stroke="#5a5a5a" stroke-width="0.9"/>
<rect x="306" y="1033.3" width="7.8" height="46.3" fill="#c6c6c6" stroke="#6a6a6a" stroke-width="1.25"/>
<line x1="309.9" y1="1032.7" x2="309.9" y2="1029.2" stroke="#333" stroke-width="1"/>
<line x1="307" y1="1029.2" x2="312.8" y2="1029.2" stroke="#333" stroke-width="1"/>
<circle cx="310.4" cy="1020.6" r="1.05" fill="#111"/>
<circle cx="309" cy="1025.6" r="1.05" fill="#111"/>
<circle cx="308.3" cy="1032.7" r="1.05" fill="#111"/>
<circle cx="309.3" cy="1039.8" r="1.05" fill="#111"/>
<circle cx="310.5" cy="1047.8" r="1.05" fill="#111"/>
<line x1="334.1" y1="1079.6" x2="334.1" y2="1081.8" stroke="#5a5a5a" stroke-width="0.9"/>
<rect x="330.2" y="1039.9" width="7.7" height="39.7" fill="#c6c6c6" stroke="#6a6a6a" stroke-width="1.25"/>
<line x1="334.1" y1="1039.3" x2="334.1" y2="1035.8" stroke="#333" stroke-width="1"/>
<line x1="331.2" y1="1035.8" x2="336.9" y2="1035.8" stroke="#333" stroke-width="1"/>
<circle cx="333" cy="1017.9" r="1.05" fill="#111"/>
<circle cx="333.4" cy="1036.3" r="1.05" fill="#111"/>
<circle cx="333.1" cy="1043.4" r="1.05" fill="#111"/>
<circle cx="335" cy="1051.9" r="1.05" fill="#111"/>
<line x1="358" y1="1079.6" x2="358" y2="1081.8" stroke="#5a5a5a" stroke-width="0.9"/>
<rect x="354.1" y="1036" width="7.8" height="43.6" fill="#c6c6c6" stroke="#6a6a6a" stroke-width="1.25"/>
<line x1="358" y1="1035.4" x2="358" y2="1031.9" stroke="#333" stroke-width="1"/>
<line x1="355.1" y1="1031.9" x2="360.9" y2="1031.9" stroke="#333" stroke-width="1"/>
<circle cx="358.2" cy="1016.6" r="1.05" fill="#111"/>
<circle cx="356.6" cy="1022.9" r="1.05" fill="#111"/>
<circle cx="356.7" cy="1036.3" r="1.05" fill="#111"/>
<circle cx="357.7" cy="1039.8" r="1.05" fill="#111"/>
<circle cx="358.2" cy="1046.9" r="1.05" fill="#111"/>
<text transform="translate(213.6,1038.3) rotate(-90)" font-size="8.6" font-weight="bold" text-anchor="middle" dominant-baseline="central" fill="#111">Liver catalase activity</text>
<text transform="translate(225,1038.3) rotate(-90)" font-size="8.6" font-weight="bold" text-anchor="middle" dominant-baseline="central" fill="#111">(nmol/min/mg protein)</text>
<text x="249.3" y="1090.7" font-size="6.8" font-weight="bold" text-anchor="end" fill="#111">CFB</text>
<text x="261.1" y="1091.5" font-size="8.8" font-weight="bold" text-anchor="middle" fill="#222">–</text>
<text x="285.4" y="1091.5" font-size="8.8" font-weight="bold" text-anchor="middle" fill="#222">–</text>
<text x="309.9" y="1091.5" font-size="8.8" font-weight="bold" text-anchor="middle" fill="#222">–</text>
<text x="334.1" y="1091.5" font-size="8.8" font-weight="bold" text-anchor="middle" fill="#222">+</text>
<text x="358" y="1091.5" font-size="8.8" font-weight="bold" text-anchor="middle" fill="#222">+</text>
<text x="249.3" y="1100.5" font-size="6.8" font-weight="bold" text-anchor="end" fill="#111">4-MP</text>
<text x="261.1" y="1101.3" font-size="8.8" font-weight="bold" text-anchor="middle" fill="#222">–</text>
<text x="285.4" y="1101.3" font-size="8.8" font-weight="bold" text-anchor="middle" fill="#222">–</text>
<text x="309.9" y="1101.3" font-size="8.8" font-weight="bold" text-anchor="middle" fill="#222">+</text>
<text x="334.1" y="1101.3" font-size="8.8" font-weight="bold" text-anchor="middle" fill="#222">–</text>
<text x="358" y="1101.3" font-size="8.8" font-weight="bold" text-anchor="middle" fill="#222">+</text>
<text x="746.3" y="544.6" font-size="20.3" font-weight="bold" text-anchor="start" fill="#000">Fasting, Diabetes, HFD</text>
<line x1="844.4" y1="553.5" x2="844.4" y2="589.8" stroke="#000" stroke-width="1.6"/>
<path d="M841.2 587.8 L847.6 587.8 L844.4 594.8 Z" fill="#000"/>
<text x="739.2" y="612.3" font-size="20.3" font-weight="bold" text-anchor="start" fill="#000">Fatty acids ω-oxidation</text>
<path d="M977.4 588.7 L983.9 601.2 L979.4 601.2 L979.4 621.9 L975.4 621.9 L975.4 601.2 L970.9 601.2 Z" fill="#000"/>
<line x1="844.4" y1="622.3" x2="844.4" y2="658.3" stroke="#000" stroke-width="1.6"/>
<path d="M841.2 656.3 L847.6 656.3 L844.4 663.3 Z" fill="#000"/>
<text x="862.2" y="649.7" font-size="16.4" font-weight="bold" text-anchor="start" fill="#000">CYP4A1, LCADH, LCALDH</text>
<text x="796.3" y="689" font-size="20.3" font-weight="bold" text-anchor="start" fill="#000">LC-DCAs</text>
<path d="M900.4 665.8 L906.9 678.3 L902.4 678.3 L902.4 699 L898.4 699 L898.4 678.3 L893.9 678.3 Z" fill="#000"/>
<line x1="843.8" y1="694.7" x2="843.8" y2="729.9" stroke="#000" stroke-width="1.6"/>
<path d="M840.6 727.9 L847 727.9 L843.8 734.9 Z" fill="#000"/>
<text x="734.2" y="766.1" font-size="20.3" font-weight="bold" text-anchor="start" fill="#000">Peroxisomal β-oxidation</text>
<path d="M983.6 734.9 L990.1 747.4 L985.6 747.4 L985.6 769.1 L981.6 769.1 L981.6 747.4 L977.1 747.4 Z" fill="#000"/>
<line x1="843.6" y1="779.8" x2="843.6" y2="815.3" stroke="#000" stroke-width="1.8"/>
<polyline points="705.6,815.3 983.6,815.3" stroke="#000" stroke-width="1.8" fill="none"/>
<text x="861.7" y="801.2" font-size="16.4" font-weight="bold" text-anchor="start" fill="#000">ACOX1, L-BP, Thiolase</text>
<line x1="706.4" y1="814.4" x2="706.4" y2="843.3" stroke="#000" stroke-width="1.8"/>
<path d="M703.2 841.3 L709.6 841.3 L706.4 848.3 Z" fill="#000"/>
<line x1="982.8" y1="814.4" x2="982.8" y2="843.3" stroke="#000" stroke-width="1.8"/>
<path d="M979.6 841.3 L986 841.3 L982.8 848.3 Z" fill="#000"/>
<text x="670.5" y="869.7" font-size="20.3" font-weight="bold" text-anchor="start" fill="#000">Acetate</text>
<path d="M753.5 843.2 L760 855.7 L755.5 855.7 L755.5 876.1 L751.5 876.1 L751.5 855.7 L747 855.7 Z" fill="#000"/>
<text x="959.3" y="869.7" font-size="20.3" font-weight="bold" text-anchor="start" fill="#000">H<tspan font-size="13.5">2</tspan>O<tspan font-size="13.5">2</tspan></text>
<path d="M1017 843.2 L1023.5 855.7 L1019 855.7 L1019 876.1 L1015 876.1 L1015 855.7 L1010.5 855.7 Z" fill="#000"/>
<line x1="706.1" y1="877" x2="706.1" y2="913" stroke="#000" stroke-width="1.6"/>
<path d="M702.9 911 L709.3 911 L706.1 918 Z" fill="#000"/>
<line x1="982" y1="877" x2="982" y2="913" stroke="#000" stroke-width="1.6"/>
<path d="M978.8 911 L985.2 911 L982 918 Z" fill="#000"/>
<text x="651.5" y="942" font-size="20.3" font-weight="bold" text-anchor="start" fill="#000">Acetyl-CoA</text>
<path d="M772.4 917.2 L778.9 929.7 L774.4 929.7 L774.4 950.8 L770.4 950.8 L770.4 929.7 L765.9 929.7 Z" fill="#000"/>
<text x="956.3" y="942" font-size="20.3" font-weight="bold" text-anchor="start" fill="#000">PEX2</text>
<path d="M1018.3 917.2 L1024.8 929.7 L1020.3 929.7 L1020.3 950.8 L1016.3 950.8 L1016.3 929.7 L1011.8 929.7 Z" fill="#000"/>
<line x1="706" y1="950.8" x2="706" y2="982.7" stroke="#000" stroke-width="1.8"/>
<line x1="695.2" y1="982.7" x2="717" y2="982.7" stroke="#000" stroke-width="1.8"/>
<line x1="982" y1="950.8" x2="982" y2="982.7" stroke="#000" stroke-width="1.8"/>
<line x1="971.6" y1="982.7" x2="993.4" y2="982.7" stroke="#000" stroke-width="1.8"/>
<text x="621.8" y="1008.4" font-size="20.3" font-weight="bold" text-anchor="start" fill="#000">Mitochondrial FAO</text>
<path d="M819.6 1011.9 L826.1 999.4 L821.6 999.4 L821.6 978.3 L817.6 978.3 L817.6 999.4 L813.1 999.4 Z" fill="#000"/>
<text x="927.5" y="1008.4" font-size="20.3" font-weight="bold" text-anchor="start" fill="#000">Liver ATGL</text>
<path d="M1046.7 1015 L1053.2 1002.5 L1048.7 1002.5 L1048.7 978.3 L1044.7 978.3 L1044.7 1002.5 L1040.2 1002.5 Z" fill="#000"/>
<polyline points="708.3,1017.6 708.3,1058.6 986.4,1058.6 986.4,1017.6" stroke="#000" stroke-width="1.8" fill="none"/>
<line x1="848" y1="1058.6" x2="848" y2="1081.2" stroke="#000" stroke-width="1.6"/>
<path d="M844.8 1079.2 L851.2 1079.2 L848 1086.2 Z" fill="#000"/>
<text x="796.9" y="1104.5" font-size="20.3" font-weight="bold" text-anchor="start" fill="#000">Liver TAG</text>
<path d="M905.6 1075.2 L912.1 1087.7 L907.6 1087.7 L907.6 1108 L903.6 1108 L903.6 1087.7 L899.1 1087.7 Z" fill="#000"/>
</svg></body></html>
